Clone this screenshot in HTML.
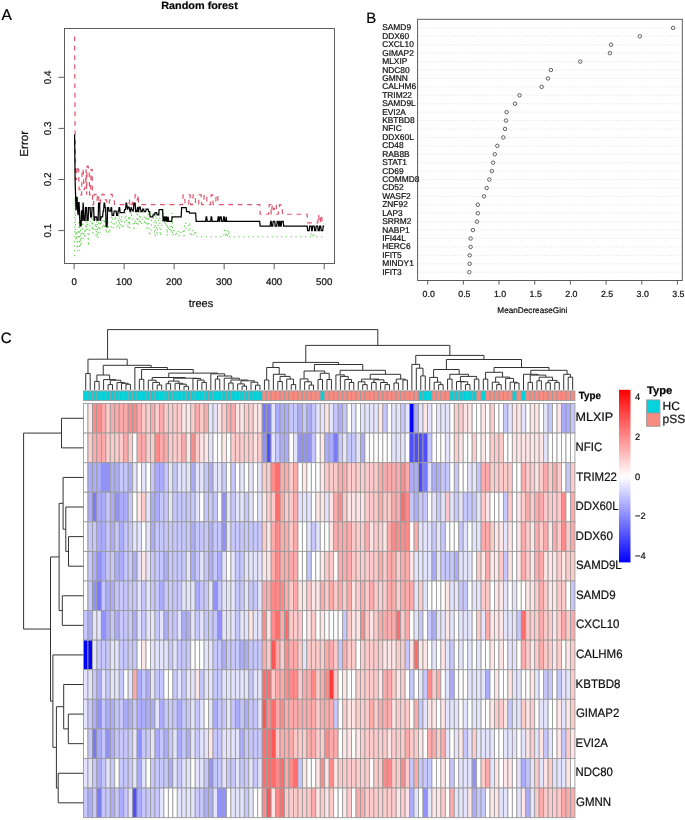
<!DOCTYPE html>
<html><head><meta charset="utf-8"><title>Figure</title>
<style>html,body{margin:0;padding:0;background:#fff;}text{stroke:#111;stroke-width:0.22px;}body{width:685px;height:820px;overflow:hidden;font-family:"Liberation Sans", sans-serif;}svg{display:block;}</style>
</head><body>
<svg width="685" height="820" viewBox="0 0 685 820" font-family='"Liberation Sans", sans-serif' text-rendering="geometricPrecision" style="will-change:transform"><text x="1.5" y="20.3" font-size="15.5" fill="#000">A</text>
<text x="199.5" y="8.9" font-size="10.5" font-weight="bold" text-anchor="middle" textLength="76.5" lengthAdjust="spacingAndGlyphs" fill="#000">Random forest</text>
<polyline points="74.60,256.15 75.10,197.38 75.60,235.71 76.10,240.82 76.60,230.60 77.10,251.04 77.60,251.04 78.10,230.60 78.60,230.60 79.10,220.38 79.60,251.04 80.10,212.20 80.60,245.93 81.10,245.93 81.60,230.60 82.10,230.60 82.60,221.91 83.10,238.26 83.60,238.26 84.10,230.60 84.60,230.60 85.10,238.26 85.60,221.91 86.10,221.91 86.60,230.60 87.11,215.27 87.61,215.27 88.11,238.26 88.61,245.93 89.11,230.60 89.61,230.60 90.11,221.91 90.61,221.91 91.11,215.27 91.61,215.27 92.11,230.60 92.61,218.85 93.11,233.16 93.61,233.16 94.11,228.05 94.61,228.05 95.11,228.05 95.61,222.94 96.11,237.75 96.61,218.85 97.11,218.85 97.61,237.75 98.11,237.75 98.61,218.85 99.11,218.85 99.61,218.85 100.11,233.16 100.61,218.85 101.11,222.94 101.61,222.94 102.11,222.94 102.61,228.05 103.11,228.05 103.61,228.05 104.11,218.85 104.61,228.05 105.11,228.05 105.61,228.05 106.11,233.16 106.61,233.16 107.11,222.94 107.61,222.94 108.11,222.94 108.61,233.16 109.11,233.16 109.61,233.16 110.11,228.05 110.61,228.05 111.11,228.05 111.61,216.29 112.12,216.29 112.62,216.29 113.12,228.05 113.62,224.47 114.12,224.47 114.62,224.47 115.12,216.29 115.62,216.29 116.12,220.38 116.62,224.47 117.12,228.05 117.62,228.05 118.12,228.05 118.62,220.38 119.12,212.20 119.62,228.05 120.12,228.05 120.62,228.05 121.12,216.29 121.62,216.29 122.12,228.05 122.62,228.05 123.12,228.05 123.62,224.47 124.12,224.47 124.62,224.47 125.12,216.29 125.62,212.20 126.12,220.38 126.62,220.38 127.12,228.05 127.62,228.05 128.12,228.05 128.62,216.29 129.12,216.29 129.62,228.05 130.12,216.29 130.62,216.29 131.12,212.20 131.62,216.29 132.12,216.29 132.62,216.29 133.12,224.47 133.62,228.05 134.12,228.05 134.62,220.38 135.12,220.38 135.62,224.47 136.12,224.47 136.62,224.47 137.13,212.20 137.63,212.20 138.13,224.47 138.63,224.47 139.13,224.47 139.63,212.20 140.13,212.20 140.63,224.47 141.13,224.47 141.63,224.47 142.13,220.38 142.63,220.38 143.13,216.29 143.63,216.29 144.13,216.29 144.63,224.47 145.13,224.47 145.63,216.29 146.13,216.29 146.63,216.29 147.13,228.05 147.63,228.05 148.13,212.20 148.63,212.20 149.13,228.05 149.63,235.71 150.13,230.60 150.63,230.60 151.13,230.60 151.63,220.38 152.13,220.38 152.63,220.38 153.13,212.72 153.63,220.38 154.13,220.38 154.63,235.71 155.13,235.71 155.63,212.72 156.13,212.72 156.63,230.60 157.13,235.71 157.63,225.49 158.13,225.49 158.63,220.38 159.13,212.72 159.63,212.72 160.13,235.71 160.63,235.71 161.13,225.49 161.63,225.49 162.14,220.38 162.64,212.72 163.14,212.72 163.64,220.38 164.14,220.38 164.64,220.38 165.14,225.49 165.64,220.38 166.14,220.38 166.64,220.38 167.14,235.71 167.64,225.49 168.14,225.49 168.64,230.60 169.14,230.60 169.64,230.60 170.14,225.49 170.64,230.60 171.14,230.60 171.64,230.60 172.14,212.72 172.64,235.71 173.14,235.71 173.64,230.60 174.14,230.60 174.64,230.60 175.14,230.60 175.64,235.71 176.14,235.71 176.64,235.71 177.14,230.60 177.64,230.60 178.14,230.60 178.64,235.71 179.14,235.71 179.64,235.71 180.14,235.71 180.64,235.71 181.14,230.60 181.64,230.60 182.14,230.60 182.64,230.60 183.14,230.60 183.64,235.71 184.14,235.71 184.64,222.94 185.14,222.94 185.64,222.94 186.14,230.60 186.64,230.60 187.15,230.60 187.65,230.60 188.15,230.60 188.65,222.94 189.15,222.94 189.65,222.94 190.15,235.71 190.65,235.71 191.15,235.71 191.65,235.71 192.15,230.60 192.65,230.60 193.15,230.60 193.65,230.60 194.15,235.71 194.65,235.71 195.15,230.60 195.65,230.60 196.15,236.73 196.65,236.73 197.15,236.73 197.65,236.73 198.15,236.73 198.65,236.73 199.15,236.73 199.65,236.73 200.15,236.73 200.65,236.73 201.15,236.73 201.65,236.73 202.15,236.73 202.65,236.73 203.15,236.73 203.65,236.73 204.15,236.73 204.65,236.73 205.15,236.73 205.65,236.73 206.15,236.73 206.65,236.73 207.15,236.73 207.65,236.73 208.15,236.73 208.65,236.73 209.15,236.73 209.65,236.73 210.15,236.73 210.65,236.73 211.15,236.73 211.66,236.73 212.16,236.73 212.66,236.73 213.16,236.73 213.66,236.73 214.16,236.73 214.66,236.73 215.16,236.73 215.66,236.73 216.16,236.73 216.66,236.73 217.16,236.73 217.66,236.73 218.16,236.73 218.66,236.73 219.16,236.73 219.66,236.73 220.16,236.73 220.66,236.73 221.16,236.73 221.66,236.73 222.16,236.73 222.66,236.73 223.16,236.73 223.66,236.73 224.16,230.60 224.66,230.60 225.16,230.60 225.66,236.73 226.16,236.73 226.66,230.60 227.16,230.60 227.66,236.73 228.16,236.73 228.66,230.60 229.16,230.60 229.66,236.73 230.16,236.73 230.66,236.73 231.16,236.73 231.66,236.73 232.16,236.73 232.66,236.73 233.16,236.73 233.66,236.73 234.16,236.73 234.66,236.73 235.16,236.73 235.66,236.73 236.16,236.73 236.66,236.73 237.17,236.73 237.67,236.73 238.17,236.73 238.67,236.73 239.17,236.73 239.67,236.73 240.17,236.73 240.67,236.73 241.17,236.73 241.67,236.73 242.17,236.73 242.67,236.73 243.17,236.73 243.67,236.73 244.17,236.73 244.67,236.73 245.17,236.73 245.67,236.73 246.17,236.73 246.67,236.73 247.17,236.73 247.67,236.73 248.17,236.73 248.67,236.73 249.17,236.73 249.67,236.73 250.17,236.73 250.67,236.73 251.17,236.73 251.67,236.73 252.17,236.73 252.67,236.73 253.17,236.73 253.67,236.73 254.17,236.73 254.67,236.73 255.17,236.73 255.67,236.73 256.17,236.73 256.67,236.73 257.17,236.73 257.67,236.73 258.17,236.73 258.67,236.73 259.17,236.73 259.67,236.73 260.17,236.73 260.67,236.73 261.17,236.73 261.67,236.73 262.18,236.73 262.68,236.73 263.18,236.73 263.68,236.73 264.18,236.73 264.68,236.73 265.18,236.73 265.68,236.73 266.18,236.73 266.68,236.73 267.18,236.73 267.68,236.73 268.18,236.73 268.68,236.73 269.18,236.73 269.68,236.73 270.18,236.73 270.68,236.73 271.18,236.73 271.68,236.73 272.18,236.73 272.68,236.73 273.18,236.73 273.68,236.73 274.18,236.73 274.68,236.73 275.18,236.73 275.68,236.73 276.18,236.73 276.68,236.73 277.18,236.73 277.68,236.73 278.18,236.73 278.68,236.73 279.18,236.73 279.68,236.73 280.18,236.73 280.68,236.73 281.18,236.73 281.68,236.73 282.18,236.73 282.68,236.73 283.18,236.73 283.68,236.73 284.18,236.73 284.68,236.73 285.18,236.73 285.68,236.73 286.18,236.73 286.68,236.73 287.19,236.73 287.69,236.73 288.19,236.73 288.69,236.73 289.19,236.73 289.69,236.73 290.19,236.73 290.69,236.73 291.19,236.73 291.69,236.73 292.19,236.73 292.69,236.73 293.19,236.73 293.69,236.73 294.19,236.73 294.69,236.73 295.19,236.73 295.69,236.73 296.19,236.73 296.69,236.73 297.19,236.73 297.69,236.73 298.19,236.73 298.69,236.73 299.19,236.73 299.69,236.73 300.19,236.73 300.69,236.73 301.19,236.73 301.69,236.73 302.19,236.73 302.69,236.73 303.19,236.73 303.69,236.73 304.19,236.73 304.69,236.73 305.19,236.73 305.69,236.73 306.19,236.73 306.69,236.73 307.19,236.73 307.69,236.73 308.19,236.73 308.69,236.73 309.19,236.73 309.69,236.73 310.19,236.73 310.69,233.16 311.19,233.16 311.69,236.73 312.20,236.73 312.70,236.73 313.20,233.16 313.70,233.16 314.20,236.73 314.70,236.73 315.20,236.73 315.70,236.73 316.20,236.73 316.70,236.73 317.20,236.73 317.70,236.73 318.20,236.73 318.70,236.73 319.20,236.73 319.70,236.73 320.20,236.73 320.70,236.73 321.20,236.73 321.70,236.73 322.20,236.73 322.70,236.73 323.20,236.73 323.70,236.73 324.20,236.73" fill="none" stroke="#61D04F" stroke-width="1.15" stroke-dasharray="1.2 3.55"/>
<polyline points="74.60,36.42 75.10,128.40 75.60,179.50 76.10,179.50 76.60,179.50 77.10,166.21 77.60,166.21 78.10,169.28 78.60,169.28 79.10,189.72 79.60,189.72 80.10,189.72 80.60,194.83 81.10,194.83 81.60,194.83 82.10,169.28 82.60,169.28 83.10,169.28 83.60,179.50 84.10,189.72 84.60,189.72 85.10,184.61 85.60,184.61 86.10,169.28 86.60,194.83 87.11,166.21 87.61,166.21 88.11,166.21 88.61,169.28 89.11,169.28 89.61,194.83 90.11,194.83 90.61,189.72 91.11,169.28 91.61,169.28 92.11,169.28 92.61,204.54 93.11,204.54 93.61,204.54 94.11,194.32 94.61,194.32 95.11,194.32 95.61,194.32 96.11,194.32 96.61,199.94 97.11,199.94 97.61,194.32 98.11,194.32 98.61,194.32 99.11,204.54 99.61,204.54 100.11,204.54 100.61,199.94 101.11,199.94 101.61,199.94 102.11,194.32 102.61,194.32 103.11,194.32 103.61,194.32 104.11,194.32 104.61,199.94 105.11,199.94 105.61,199.94 106.11,199.94 106.61,199.94 107.11,204.54 107.61,204.54 108.11,204.54 108.61,204.54 109.11,204.54 109.61,199.94 110.11,199.94 110.61,194.32 111.11,194.32 111.61,194.32 112.12,194.32 112.62,199.94 113.12,199.94 113.62,199.94 114.12,199.94 114.62,204.54 115.12,204.54 115.62,204.54 116.12,204.54 116.62,204.54 117.12,204.54 117.62,204.54 118.12,204.54 118.62,204.54 119.12,204.54 119.62,204.54 120.12,204.54 120.62,204.54 121.12,204.54 121.62,204.54 122.12,204.54 122.62,204.54 123.12,204.54 123.62,204.54 124.12,204.54 124.62,204.54 125.12,204.54 125.62,204.54 126.12,204.54 126.62,204.54 127.12,204.54 127.62,204.54 128.12,204.54 128.62,204.54 129.12,204.54 129.62,199.94 130.12,199.94 130.62,199.94 131.12,204.54 131.62,204.54 132.12,204.54 132.62,199.94 133.12,199.94 133.62,204.54 134.12,204.54 134.62,204.54 135.12,194.83 135.62,194.83 136.12,194.83 136.62,194.83 137.13,199.94 137.63,199.94 138.13,194.83 138.63,204.54 139.13,204.54 139.63,204.54 140.13,204.54 140.63,204.54 141.13,204.54 141.63,204.54 142.13,204.54 142.63,204.54 143.13,204.54 143.63,204.54 144.13,204.54 144.63,204.54 145.13,204.54 145.63,204.54 146.13,204.54 146.63,204.54 147.13,204.54 147.63,204.54 148.13,204.54 148.63,204.54 149.13,204.54 149.63,204.54 150.13,204.54 150.63,204.54 151.13,204.54 151.63,204.54 152.13,204.54 152.63,204.54 153.13,204.54 153.63,204.54 154.13,204.54 154.63,204.54 155.13,204.54 155.63,204.54 156.13,204.54 156.63,204.54 157.13,204.54 157.63,204.54 158.13,204.54 158.63,204.54 159.13,204.54 159.63,204.54 160.13,204.54 160.63,204.54 161.13,204.54 161.63,204.54 162.14,204.54 162.64,204.54 163.14,204.54 163.64,204.54 164.14,204.54 164.64,204.54 165.14,204.54 165.64,204.54 166.14,204.54 166.64,204.54 167.14,204.54 167.64,204.54 168.14,204.54 168.64,204.54 169.14,204.54 169.64,204.54 170.14,204.54 170.64,204.54 171.14,204.54 171.64,204.54 172.14,204.54 172.64,204.54 173.14,204.54 173.64,204.54 174.14,204.54 174.64,204.54 175.14,204.54 175.64,204.54 176.14,204.54 176.64,204.54 177.14,204.54 177.64,204.54 178.14,204.54 178.64,204.54 179.14,204.54 179.64,204.54 180.14,204.54 180.64,204.54 181.14,204.54 181.64,204.54 182.14,204.54 182.64,204.54 183.14,194.83 183.64,194.83 184.14,194.83 184.64,194.83 185.14,204.54 185.64,204.54 186.14,204.54 186.64,204.54 187.15,204.54 187.65,204.54 188.15,204.54 188.65,204.54 189.15,194.83 189.65,194.83 190.15,194.83 190.65,204.54 191.15,204.54 191.65,204.54 192.15,204.54 192.65,204.54 193.15,194.83 193.65,194.83 194.15,194.83 194.65,194.83 195.15,194.83 195.65,204.54 196.15,204.54 196.65,204.54 197.15,204.54 197.65,204.54 198.15,204.54 198.65,204.54 199.15,194.83 199.65,194.83 200.15,194.83 200.65,194.83 201.15,194.83 201.65,204.54 202.15,204.54 202.65,204.54 203.15,204.54 203.65,204.54 204.15,194.83 204.65,194.83 205.15,194.83 205.65,194.83 206.15,194.83 206.65,194.83 207.15,204.54 207.65,204.54 208.15,204.54 208.65,204.54 209.15,204.54 209.65,204.54 210.15,204.54 210.65,204.54 211.15,194.83 211.66,194.83 212.16,194.83 212.66,194.83 213.16,204.54 213.66,204.54 214.16,204.54 214.66,204.54 215.16,204.54 215.66,204.54 216.16,194.83 216.66,194.83 217.16,194.83 217.66,194.83 218.16,204.54 218.66,204.54 219.16,204.54 219.66,204.54 220.16,204.54 220.66,204.54 221.16,204.54 221.66,204.54 222.16,204.54 222.66,204.54 223.16,204.54 223.66,204.54 224.16,204.54 224.66,204.54 225.16,204.54 225.66,204.54 226.16,204.54 226.66,204.54 227.16,204.54 227.66,204.54 228.16,204.54 228.66,204.54 229.16,204.54 229.66,204.54 230.16,204.54 230.66,204.54 231.16,204.54 231.66,204.54 232.16,204.54 232.66,204.54 233.16,204.54 233.66,204.54 234.16,204.54 234.66,204.54 235.16,204.54 235.66,204.54 236.16,204.54 236.66,204.54 237.17,204.54 237.67,204.54 238.17,204.54 238.67,204.54 239.17,204.54 239.67,204.54 240.17,204.54 240.67,204.54 241.17,204.54 241.67,204.54 242.17,204.54 242.67,204.54 243.17,204.54 243.67,204.54 244.17,204.54 244.67,204.54 245.17,204.54 245.67,204.54 246.17,204.54 246.67,204.54 247.17,204.54 247.67,204.54 248.17,204.54 248.67,204.54 249.17,204.54 249.67,204.54 250.17,204.54 250.67,204.54 251.17,204.54 251.67,204.54 252.17,204.54 252.67,204.54 253.17,204.54 253.67,204.54 254.17,204.54 254.67,204.54 255.17,204.54 255.67,204.54 256.17,204.54 256.67,204.54 257.17,204.54 257.67,204.54 258.17,204.54 258.67,204.54 259.17,204.54 259.67,204.54 260.17,214.25 260.67,214.25 261.17,214.25 261.67,214.25 262.18,214.25 262.68,214.25 263.18,214.25 263.68,214.25 264.18,214.25 264.68,214.25 265.18,214.25 265.68,214.25 266.18,214.25 266.68,214.25 267.18,214.25 267.68,214.25 268.18,214.25 268.68,214.25 269.18,204.54 269.68,204.54 270.18,204.54 270.68,204.54 271.18,214.25 271.68,214.25 272.18,204.54 272.68,204.54 273.18,204.54 273.68,209.65 274.18,209.65 274.68,204.54 275.18,204.54 275.68,204.54 276.18,204.54 276.68,214.25 277.18,214.25 277.68,214.25 278.18,214.25 278.68,209.65 279.18,209.65 279.68,204.54 280.18,204.54 280.68,204.54 281.18,209.65 281.68,209.65 282.18,209.65 282.68,214.25 283.18,214.25 283.68,214.25 284.18,214.25 284.68,214.25 285.18,214.25 285.68,214.25 286.18,214.25 286.68,214.25 287.19,214.25 287.69,214.25 288.19,214.25 288.69,214.25 289.19,214.25 289.69,214.25 290.19,214.25 290.69,214.25 291.19,214.25 291.69,214.25 292.19,214.25 292.69,214.25 293.19,214.25 293.69,214.25 294.19,214.25 294.69,214.25 295.19,214.25 295.69,214.25 296.19,214.25 296.69,214.25 297.19,214.25 297.69,214.25 298.19,214.25 298.69,214.25 299.19,214.25 299.69,214.25 300.19,214.25 300.69,214.25 301.19,214.25 301.69,214.25 302.19,214.25 302.69,214.25 303.19,214.25 303.69,214.25 304.19,214.25 304.69,214.25 305.19,214.25 305.69,214.25 306.19,214.25 306.69,214.25 307.19,214.25 307.69,222.94 308.19,222.94 308.69,222.94 309.19,222.94 309.69,222.94 310.19,222.94 310.69,222.94 311.19,222.94 311.69,222.94 312.20,222.94 312.70,222.94 313.20,222.94 313.70,222.94 314.20,222.94 314.70,222.94 315.20,222.94 315.70,222.94 316.20,222.94 316.70,222.94 317.20,222.94 317.70,222.94 318.20,215.27 318.70,215.27 319.20,222.94 319.70,222.94 320.20,222.94 320.70,215.27 321.20,215.27 321.70,215.27 322.20,222.94 322.70,222.94 323.20,222.94 323.70,222.94 324.20,222.94" fill="none" stroke="#DF536B" stroke-width="1.2" stroke-dasharray="4.7 4.7"/>
<polyline points="74.60,134.53 75.10,179.50 75.60,196.36 76.10,210.16 76.60,197.38 77.10,197.38 77.60,210.16 78.10,215.27 78.60,202.50 79.10,202.50 79.60,215.27 80.10,226.51 80.60,220.38 81.10,226.51 81.60,210.16 82.10,220.38 82.60,220.38 83.10,202.50 83.60,210.16 84.10,220.38 84.60,220.38 85.10,220.38 85.60,207.61 86.10,207.61 86.60,207.61 87.11,220.38 87.61,220.38 88.11,220.38 88.61,207.61 89.11,207.61 89.61,207.61 90.11,207.61 90.61,216.80 91.11,216.80 91.61,216.80 92.11,207.61 92.61,207.61 93.11,207.61 93.61,207.61 94.11,220.38 94.61,220.38 95.11,216.80 95.61,216.80 96.11,216.80 96.61,216.80 97.11,220.38 97.61,220.38 98.11,220.38 98.61,203.01 99.11,203.01 99.61,203.01 100.11,220.38 100.61,220.38 101.11,216.80 101.61,216.80 102.11,216.80 102.61,216.80 103.11,211.18 103.61,211.18 104.11,203.01 104.61,203.01 105.11,207.61 105.61,207.61 106.11,226.51 106.61,226.51 107.11,226.51 107.61,207.61 108.11,207.61 108.61,207.61 109.11,211.18 109.61,211.18 110.11,211.18 110.61,211.18 111.11,207.61 111.61,207.61 112.12,215.27 112.62,215.27 113.12,215.27 113.62,215.27 114.12,211.18 114.62,211.18 115.12,211.18 115.62,211.18 116.12,211.18 116.62,215.27 117.12,215.27 117.62,215.27 118.12,211.18 118.62,211.18 119.12,207.61 119.62,207.61 120.12,212.72 120.62,212.72 121.12,212.72 121.62,212.72 122.12,212.72 122.62,212.72 123.12,212.72 123.62,212.72 124.12,212.72 124.62,209.65 125.12,209.65 125.62,209.65 126.12,203.01 126.62,203.01 127.12,207.09 127.62,209.65 128.12,207.09 128.62,207.09 129.12,207.09 129.62,209.65 130.12,211.69 130.62,211.69 131.12,207.09 131.62,209.65 132.12,209.65 132.62,209.65 133.12,211.69 133.62,207.09 134.12,203.01 134.62,203.01 135.12,203.01 135.62,211.69 136.12,211.69 136.62,211.69 137.13,209.65 137.63,207.09 138.13,211.69 138.63,211.69 139.13,207.09 139.63,207.09 140.13,207.09 140.63,209.65 141.13,211.69 141.63,211.69 142.13,211.69 142.63,209.14 143.13,209.14 143.63,209.14 144.13,211.69 144.63,211.69 145.13,211.69 145.63,211.69 146.13,209.14 146.63,209.14 147.13,209.14 147.63,209.14 148.13,209.14 148.63,211.69 149.13,211.69 149.63,211.69 150.13,216.80 150.63,216.80 151.13,216.80 151.63,216.80 152.13,216.80 152.63,216.80 153.13,214.76 153.63,214.76 154.13,214.76 154.63,214.76 155.13,212.72 155.63,212.72 156.13,212.72 156.63,212.72 157.13,214.76 157.63,214.76 158.13,214.76 158.63,214.76 159.13,209.65 159.63,209.65 160.13,209.65 160.63,209.65 161.13,209.65 161.63,209.65 162.14,209.65 162.64,209.65 163.14,221.40 163.64,216.80 164.14,216.80 164.64,221.40 165.14,216.80 165.64,221.40 166.14,216.80 166.64,216.80 167.14,221.40 167.64,221.40 168.14,216.80 168.64,221.40 169.14,221.40 169.64,221.40 170.14,221.40 170.64,221.40 171.14,221.40 171.64,221.40 172.14,216.80 172.64,216.80 173.14,216.80 173.64,216.80 174.14,216.80 174.64,216.80 175.14,216.80 175.64,216.80 176.14,216.80 176.64,216.80 177.14,216.80 177.64,216.80 178.14,216.80 178.64,216.80 179.14,216.80 179.64,216.80 180.14,216.80 180.64,216.80 181.14,216.80 181.64,207.61 182.14,207.61 182.64,207.61 183.14,207.61 183.64,207.61 184.14,207.61 184.64,207.61 185.14,207.61 185.64,207.61 186.14,207.61 186.64,211.69 187.15,211.69 187.65,211.69 188.15,211.69 188.65,211.69 189.15,211.69 189.65,213.23 190.15,213.23 190.65,213.23 191.15,213.23 191.65,213.23 192.15,213.23 192.65,213.23 193.15,213.23 193.65,213.23 194.15,213.23 194.65,213.23 195.15,213.23 195.65,213.23 196.15,221.40 196.65,221.40 197.15,221.40 197.65,221.40 198.15,221.40 198.65,221.40 199.15,221.40 199.65,221.40 200.15,221.40 200.65,221.40 201.15,221.40 201.65,221.40 202.15,221.40 202.65,221.40 203.15,221.40 203.65,221.40 204.15,221.40 204.65,221.40 205.15,221.40 205.65,221.40 206.15,216.80 206.65,216.80 207.15,221.40 207.65,221.40 208.15,221.40 208.65,221.40 209.15,221.40 209.65,221.40 210.15,221.40 210.65,221.40 211.15,216.80 211.66,216.80 212.16,221.40 212.66,221.40 213.16,221.40 213.66,221.40 214.16,221.40 214.66,221.40 215.16,221.40 215.66,221.40 216.16,221.40 216.66,221.40 217.16,221.40 217.66,221.40 218.16,216.80 218.66,216.80 219.16,221.40 219.66,221.40 220.16,216.80 220.66,216.80 221.16,216.80 221.66,221.40 222.16,221.40 222.66,221.40 223.16,221.40 223.66,216.80 224.16,216.80 224.66,221.40 225.16,221.40 225.66,221.40 226.16,216.80 226.66,221.40 227.16,221.40 227.66,221.40 228.16,221.40 228.66,221.40 229.16,221.40 229.66,221.40 230.16,221.40 230.66,221.40 231.16,221.40 231.66,221.40 232.16,221.40 232.66,221.40 233.16,221.40 233.66,221.40 234.16,221.40 234.66,221.40 235.16,221.40 235.66,221.40 236.16,221.40 236.66,221.40 237.17,221.40 237.67,221.40 238.17,221.40 238.67,221.40 239.17,221.40 239.67,221.40 240.17,221.40 240.67,221.40 241.17,221.40 241.67,221.40 242.17,221.40 242.67,221.40 243.17,221.40 243.67,221.40 244.17,221.40 244.67,221.40 245.17,221.40 245.67,221.40 246.17,221.40 246.67,221.40 247.17,221.40 247.67,221.40 248.17,221.40 248.67,221.40 249.17,221.40 249.67,221.40 250.17,221.40 250.67,221.40 251.17,221.40 251.67,221.40 252.17,221.40 252.67,221.40 253.17,221.40 253.67,221.40 254.17,221.40 254.67,221.40 255.17,221.40 255.67,221.40 256.17,221.40 256.67,221.40 257.17,221.40 257.67,221.40 258.17,221.40 258.67,221.40 259.17,221.40 259.67,221.40 260.17,226.00 260.67,226.00 261.17,226.00 261.67,226.00 262.18,226.00 262.68,226.00 263.18,226.00 263.68,226.00 264.18,226.00 264.68,226.00 265.18,226.00 265.68,226.00 266.18,226.00 266.68,226.00 267.18,226.00 267.68,226.00 268.18,226.00 268.68,226.00 269.18,226.00 269.68,226.00 270.18,226.00 270.68,221.40 271.18,221.40 271.68,226.00 272.18,226.00 272.68,226.00 273.18,221.40 273.68,221.40 274.18,221.40 274.68,221.40 275.18,226.00 275.68,226.00 276.18,226.00 276.68,226.00 277.18,221.40 277.68,221.40 278.18,221.40 278.68,226.00 279.18,226.00 279.68,221.40 280.18,221.40 280.68,226.00 281.18,226.00 281.68,221.40 282.18,221.40 282.68,221.40 283.18,221.40 283.68,226.00 284.18,226.00 284.68,226.00 285.18,226.00 285.68,226.00 286.18,226.00 286.68,226.00 287.19,226.00 287.69,226.00 288.19,226.00 288.69,226.00 289.19,226.00 289.69,226.00 290.19,226.00 290.69,226.00 291.19,226.00 291.69,226.00 292.19,226.00 292.69,226.00 293.19,226.00 293.69,226.00 294.19,226.00 294.69,226.00 295.19,226.00 295.69,226.00 296.19,226.00 296.69,226.00 297.19,226.00 297.69,226.00 298.19,226.00 298.69,226.00 299.19,226.00 299.69,226.00 300.19,226.00 300.69,226.00 301.19,226.00 301.69,226.00 302.19,226.00 302.69,226.00 303.19,226.00 303.69,226.00 304.19,226.00 304.69,226.00 305.19,226.00 305.69,226.00 306.19,226.00 306.69,226.00 307.19,226.00 307.69,230.60 308.19,230.60 308.69,230.60 309.19,230.60 309.69,226.00 310.19,226.00 310.69,226.00 311.19,226.00 311.69,230.60 312.20,230.60 312.70,226.00 313.20,226.00 313.70,226.00 314.20,226.00 314.70,230.60 315.20,230.60 315.70,230.60 316.20,226.00 316.70,226.00 317.20,226.00 317.70,226.00 318.20,230.60 318.70,230.60 319.20,230.60 319.70,226.00 320.20,226.00 320.70,226.00 321.20,230.60 321.70,230.60 322.20,230.60 322.70,230.60 323.20,226.00 323.70,226.00 324.20,226.00" fill="none" stroke="#000" stroke-width="1.25"/>
<rect x="64.5" y="28.5" width="270" height="235" fill="none" stroke="#555" stroke-width="0.95"/>
<line x1="58.4" y1="230.60" x2="64.5" y2="230.60" stroke="#555" stroke-width="0.95"/>
<text transform="translate(50.7,230.60) rotate(-90)" font-size="9.9" text-anchor="middle" fill="#111">0.1</text>
<line x1="58.4" y1="179.50" x2="64.5" y2="179.50" stroke="#555" stroke-width="0.95"/>
<text transform="translate(50.7,179.50) rotate(-90)" font-size="9.9" text-anchor="middle" fill="#111">0.2</text>
<line x1="58.4" y1="128.40" x2="64.5" y2="128.40" stroke="#555" stroke-width="0.95"/>
<text transform="translate(50.7,128.40) rotate(-90)" font-size="9.9" text-anchor="middle" fill="#111">0.3</text>
<line x1="58.4" y1="77.30" x2="64.5" y2="77.30" stroke="#555" stroke-width="0.95"/>
<text transform="translate(50.7,77.30) rotate(-90)" font-size="9.9" text-anchor="middle" fill="#111">0.4</text>
<line x1="74.10" y1="263.5" x2="74.10" y2="269.3" stroke="#555" stroke-width="0.95"/>
<text x="74.10" y="284.6" font-size="9.7" text-anchor="middle" fill="#111">0</text>
<line x1="124.12" y1="263.5" x2="124.12" y2="269.3" stroke="#555" stroke-width="0.95"/>
<text x="124.12" y="284.6" font-size="9.7" text-anchor="middle" fill="#111">100</text>
<line x1="174.14" y1="263.5" x2="174.14" y2="269.3" stroke="#555" stroke-width="0.95"/>
<text x="174.14" y="284.6" font-size="9.7" text-anchor="middle" fill="#111">200</text>
<line x1="224.16" y1="263.5" x2="224.16" y2="269.3" stroke="#555" stroke-width="0.95"/>
<text x="224.16" y="284.6" font-size="9.7" text-anchor="middle" fill="#111">300</text>
<line x1="274.18" y1="263.5" x2="274.18" y2="269.3" stroke="#555" stroke-width="0.95"/>
<text x="274.18" y="284.6" font-size="9.7" text-anchor="middle" fill="#111">400</text>
<line x1="324.20" y1="263.5" x2="324.20" y2="269.3" stroke="#555" stroke-width="0.95"/>
<text x="324.20" y="284.6" font-size="9.7" text-anchor="middle" fill="#111">500</text>
<text x="201" y="306.6" font-size="11" text-anchor="middle" fill="#111">trees</text>
<text transform="translate(28.4,143.8) rotate(-90)" font-size="11.6" text-anchor="middle" fill="#111">Error</text>
<text x="366.2" y="22.8" font-size="15" fill="#000">B</text>
<line x1="418" y1="27.90" x2="682" y2="27.90" stroke="#e9e9e9" stroke-width="0.8" stroke-dasharray="2 1.6"/>
<text x="382.2" y="30.40" font-size="8.4" fill="#111">SAMD9</text>
<circle cx="673.1" cy="27.90" r="1.75" fill="none" stroke="#333" stroke-width="0.75"/>
<line x1="418" y1="36.32" x2="682" y2="36.32" stroke="#e9e9e9" stroke-width="0.8" stroke-dasharray="2 1.6"/>
<text x="382.2" y="38.82" font-size="8.4" fill="#111">DDX60</text>
<circle cx="639.8" cy="36.32" r="1.75" fill="none" stroke="#333" stroke-width="0.75"/>
<line x1="418" y1="44.75" x2="682" y2="44.75" stroke="#e9e9e9" stroke-width="0.8" stroke-dasharray="2 1.6"/>
<text x="382.2" y="47.25" font-size="8.4" fill="#111">CXCL10</text>
<circle cx="611.1" cy="44.75" r="1.75" fill="none" stroke="#333" stroke-width="0.75"/>
<line x1="418" y1="53.17" x2="682" y2="53.17" stroke="#e9e9e9" stroke-width="0.8" stroke-dasharray="2 1.6"/>
<text x="382.2" y="55.67" font-size="8.4" fill="#111">GIMAP2</text>
<circle cx="609.9" cy="53.17" r="1.75" fill="none" stroke="#333" stroke-width="0.75"/>
<line x1="418" y1="61.60" x2="682" y2="61.60" stroke="#e9e9e9" stroke-width="0.8" stroke-dasharray="2 1.6"/>
<text x="382.2" y="64.10" font-size="8.4" fill="#111">MLXIP</text>
<circle cx="580.3" cy="61.60" r="1.75" fill="none" stroke="#333" stroke-width="0.75"/>
<line x1="418" y1="70.02" x2="682" y2="70.02" stroke="#e9e9e9" stroke-width="0.8" stroke-dasharray="2 1.6"/>
<text x="382.2" y="72.52" font-size="8.4" fill="#111">NDC80</text>
<circle cx="550.9" cy="70.02" r="1.75" fill="none" stroke="#333" stroke-width="0.75"/>
<line x1="418" y1="78.44" x2="682" y2="78.44" stroke="#e9e9e9" stroke-width="0.8" stroke-dasharray="2 1.6"/>
<text x="382.2" y="80.94" font-size="8.4" fill="#111">GMNN</text>
<circle cx="547.9" cy="78.44" r="1.75" fill="none" stroke="#333" stroke-width="0.75"/>
<line x1="418" y1="86.87" x2="682" y2="86.87" stroke="#e9e9e9" stroke-width="0.8" stroke-dasharray="2 1.6"/>
<text x="382.2" y="89.37" font-size="8.4" fill="#111">CALHM6</text>
<circle cx="541.7" cy="86.87" r="1.75" fill="none" stroke="#333" stroke-width="0.75"/>
<line x1="418" y1="95.29" x2="682" y2="95.29" stroke="#e9e9e9" stroke-width="0.8" stroke-dasharray="2 1.6"/>
<text x="382.2" y="97.79" font-size="8.4" fill="#111">TRIM22</text>
<circle cx="519.5" cy="95.29" r="1.75" fill="none" stroke="#333" stroke-width="0.75"/>
<line x1="418" y1="103.72" x2="682" y2="103.72" stroke="#e9e9e9" stroke-width="0.8" stroke-dasharray="2 1.6"/>
<text x="382.2" y="106.22" font-size="8.4" fill="#111">SAMD9L</text>
<circle cx="515.0" cy="103.72" r="1.75" fill="none" stroke="#333" stroke-width="0.75"/>
<line x1="418" y1="112.14" x2="682" y2="112.14" stroke="#e9e9e9" stroke-width="0.8" stroke-dasharray="2 1.6"/>
<text x="382.2" y="114.64" font-size="8.4" fill="#111">EVI2A</text>
<circle cx="506.6" cy="112.14" r="1.75" fill="none" stroke="#333" stroke-width="0.75"/>
<line x1="418" y1="120.56" x2="682" y2="120.56" stroke="#e9e9e9" stroke-width="0.8" stroke-dasharray="2 1.6"/>
<text x="382.2" y="123.06" font-size="8.4" fill="#111">KBTBD8</text>
<circle cx="506.0" cy="120.56" r="1.75" fill="none" stroke="#333" stroke-width="0.75"/>
<line x1="418" y1="128.99" x2="682" y2="128.99" stroke="#e9e9e9" stroke-width="0.8" stroke-dasharray="2 1.6"/>
<text x="382.2" y="131.49" font-size="8.4" fill="#111">NFIC</text>
<circle cx="505.0" cy="128.99" r="1.75" fill="none" stroke="#333" stroke-width="0.75"/>
<line x1="418" y1="137.41" x2="682" y2="137.41" stroke="#e9e9e9" stroke-width="0.8" stroke-dasharray="2 1.6"/>
<text x="382.2" y="139.91" font-size="8.4" fill="#111">DDX60L</text>
<circle cx="503.3" cy="137.41" r="1.75" fill="none" stroke="#333" stroke-width="0.75"/>
<line x1="418" y1="145.84" x2="682" y2="145.84" stroke="#e9e9e9" stroke-width="0.8" stroke-dasharray="2 1.6"/>
<text x="382.2" y="148.34" font-size="8.4" fill="#111">CD48</text>
<circle cx="497.3" cy="145.84" r="1.75" fill="none" stroke="#333" stroke-width="0.75"/>
<line x1="418" y1="154.26" x2="682" y2="154.26" stroke="#e9e9e9" stroke-width="0.8" stroke-dasharray="2 1.6"/>
<text x="382.2" y="156.76" font-size="8.4" fill="#111">RAB8B</text>
<circle cx="494.8" cy="154.26" r="1.75" fill="none" stroke="#333" stroke-width="0.75"/>
<line x1="418" y1="162.68" x2="682" y2="162.68" stroke="#e9e9e9" stroke-width="0.8" stroke-dasharray="2 1.6"/>
<text x="382.2" y="165.18" font-size="8.4" fill="#111">STAT1</text>
<circle cx="493.1" cy="162.68" r="1.75" fill="none" stroke="#333" stroke-width="0.75"/>
<line x1="418" y1="171.11" x2="682" y2="171.11" stroke="#e9e9e9" stroke-width="0.8" stroke-dasharray="2 1.6"/>
<text x="382.2" y="173.61" font-size="8.4" fill="#111">CD69</text>
<circle cx="491.8" cy="171.11" r="1.75" fill="none" stroke="#333" stroke-width="0.75"/>
<line x1="418" y1="179.53" x2="682" y2="179.53" stroke="#e9e9e9" stroke-width="0.8" stroke-dasharray="2 1.6"/>
<text x="382.2" y="182.03" font-size="8.4" fill="#111">COMMD8</text>
<circle cx="489.3" cy="179.53" r="1.75" fill="none" stroke="#333" stroke-width="0.75"/>
<line x1="418" y1="187.96" x2="682" y2="187.96" stroke="#e9e9e9" stroke-width="0.8" stroke-dasharray="2 1.6"/>
<text x="382.2" y="190.46" font-size="8.4" fill="#111">CD52</text>
<circle cx="486.7" cy="187.96" r="1.75" fill="none" stroke="#333" stroke-width="0.75"/>
<line x1="418" y1="196.38" x2="682" y2="196.38" stroke="#e9e9e9" stroke-width="0.8" stroke-dasharray="2 1.6"/>
<text x="382.2" y="198.88" font-size="8.4" fill="#111">WASF2</text>
<circle cx="484.0" cy="196.38" r="1.75" fill="none" stroke="#333" stroke-width="0.75"/>
<line x1="418" y1="204.80" x2="682" y2="204.80" stroke="#e9e9e9" stroke-width="0.8" stroke-dasharray="2 1.6"/>
<text x="382.2" y="207.30" font-size="8.4" fill="#111">ZNF92</text>
<circle cx="477.8" cy="204.80" r="1.75" fill="none" stroke="#333" stroke-width="0.75"/>
<line x1="418" y1="213.23" x2="682" y2="213.23" stroke="#e9e9e9" stroke-width="0.8" stroke-dasharray="2 1.6"/>
<text x="382.2" y="215.73" font-size="8.4" fill="#111">LAP3</text>
<circle cx="477.8" cy="213.23" r="1.75" fill="none" stroke="#333" stroke-width="0.75"/>
<line x1="418" y1="221.65" x2="682" y2="221.65" stroke="#e9e9e9" stroke-width="0.8" stroke-dasharray="2 1.6"/>
<text x="382.2" y="224.15" font-size="8.4" fill="#111">SRRM2</text>
<circle cx="477.0" cy="221.65" r="1.75" fill="none" stroke="#333" stroke-width="0.75"/>
<line x1="418" y1="230.08" x2="682" y2="230.08" stroke="#e9e9e9" stroke-width="0.8" stroke-dasharray="2 1.6"/>
<text x="382.2" y="232.58" font-size="8.4" fill="#111">NABP1</text>
<circle cx="472.9" cy="230.08" r="1.75" fill="none" stroke="#333" stroke-width="0.75"/>
<line x1="418" y1="238.50" x2="682" y2="238.50" stroke="#e9e9e9" stroke-width="0.8" stroke-dasharray="2 1.6"/>
<text x="382.2" y="241.00" font-size="8.4" fill="#111">IFI44L</text>
<circle cx="470.6" cy="238.50" r="1.75" fill="none" stroke="#333" stroke-width="0.75"/>
<line x1="418" y1="246.92" x2="682" y2="246.92" stroke="#e9e9e9" stroke-width="0.8" stroke-dasharray="2 1.6"/>
<text x="382.2" y="249.42" font-size="8.4" fill="#111">HERC6</text>
<circle cx="470.6" cy="246.92" r="1.75" fill="none" stroke="#333" stroke-width="0.75"/>
<line x1="418" y1="255.35" x2="682" y2="255.35" stroke="#e9e9e9" stroke-width="0.8" stroke-dasharray="2 1.6"/>
<text x="382.2" y="257.85" font-size="8.4" fill="#111">IFIT5</text>
<circle cx="469.7" cy="255.35" r="1.75" fill="none" stroke="#333" stroke-width="0.75"/>
<line x1="418" y1="263.77" x2="682" y2="263.77" stroke="#e9e9e9" stroke-width="0.8" stroke-dasharray="2 1.6"/>
<text x="382.2" y="266.27" font-size="8.4" fill="#111">MINDY1</text>
<circle cx="469.7" cy="263.77" r="1.75" fill="none" stroke="#333" stroke-width="0.75"/>
<line x1="418" y1="272.20" x2="682" y2="272.20" stroke="#e9e9e9" stroke-width="0.8" stroke-dasharray="2 1.6"/>
<text x="382.2" y="274.70" font-size="8.4" fill="#111">IFIT3</text>
<circle cx="469.3" cy="272.20" r="1.75" fill="none" stroke="#333" stroke-width="0.75"/>
<rect x="417.6" y="19.3" width="264.7" height="261.2" fill="none" stroke="#555" stroke-width="0.95"/>
<line x1="427.70" y1="280.5" x2="427.70" y2="284.6" stroke="#555" stroke-width="0.95"/>
<text x="428.70" y="296.5" font-size="8.8" text-anchor="middle" fill="#111">0.0</text>
<line x1="463.37" y1="280.5" x2="463.37" y2="284.6" stroke="#555" stroke-width="0.95"/>
<text x="464.37" y="296.5" font-size="8.8" text-anchor="middle" fill="#111">0.5</text>
<line x1="499.04" y1="280.5" x2="499.04" y2="284.6" stroke="#555" stroke-width="0.95"/>
<text x="500.04" y="296.5" font-size="8.8" text-anchor="middle" fill="#111">1.0</text>
<line x1="534.71" y1="280.5" x2="534.71" y2="284.6" stroke="#555" stroke-width="0.95"/>
<text x="535.71" y="296.5" font-size="8.8" text-anchor="middle" fill="#111">1.5</text>
<line x1="570.38" y1="280.5" x2="570.38" y2="284.6" stroke="#555" stroke-width="0.95"/>
<text x="571.38" y="296.5" font-size="8.8" text-anchor="middle" fill="#111">2.0</text>
<line x1="606.05" y1="280.5" x2="606.05" y2="284.6" stroke="#555" stroke-width="0.95"/>
<text x="607.05" y="296.5" font-size="8.8" text-anchor="middle" fill="#111">2.5</text>
<line x1="641.72" y1="280.5" x2="641.72" y2="284.6" stroke="#555" stroke-width="0.95"/>
<text x="642.72" y="296.5" font-size="8.8" text-anchor="middle" fill="#111">3.0</text>
<line x1="677.39" y1="280.5" x2="677.39" y2="284.6" stroke="#555" stroke-width="0.95"/>
<text x="678.39" y="296.5" font-size="8.8" text-anchor="middle" fill="#111">3.5</text>
<text x="532.4" y="313.0" font-size="8.2" text-anchor="middle" fill="#111">MeanDecreaseGini</text>
<text x="0.8" y="342.6" font-size="15" fill="#000">C</text>
<g stroke="#9c9c9c" stroke-width="0.9"><rect x="83.50" y="403.50" width="4.47" height="29.58" fill="#ffffff"/><rect x="87.97" y="403.50" width="4.47" height="29.58" fill="#ffe5e5"/><rect x="92.43" y="403.50" width="4.47" height="29.58" fill="#ff8a8a"/><rect x="96.90" y="403.50" width="4.47" height="29.58" fill="#ff8a8a"/><rect x="101.37" y="403.50" width="4.47" height="29.58" fill="#ffaaaa"/><rect x="105.84" y="403.50" width="4.47" height="29.58" fill="#ffcaca"/><rect x="110.30" y="403.50" width="4.47" height="29.58" fill="#ffaaaa"/><rect x="114.77" y="403.50" width="4.47" height="29.58" fill="#ffaaaa"/><rect x="119.24" y="403.50" width="4.47" height="29.58" fill="#ffaaaa"/><rect x="123.71" y="403.50" width="4.47" height="29.58" fill="#ffaaaa"/><rect x="128.17" y="403.50" width="4.47" height="29.58" fill="#ff8a8a"/><rect x="132.64" y="403.50" width="4.47" height="29.58" fill="#ff8a8a"/><rect x="137.11" y="403.50" width="4.47" height="29.58" fill="#ffaaaa"/><rect x="141.57" y="403.50" width="4.47" height="29.58" fill="#ffcaca"/><rect x="146.04" y="403.50" width="4.47" height="29.58" fill="#ffcaca"/><rect x="150.51" y="403.50" width="4.47" height="29.58" fill="#ffaaaa"/><rect x="154.98" y="403.50" width="4.47" height="29.58" fill="#ffcaca"/><rect x="159.44" y="403.50" width="4.47" height="29.58" fill="#ffaaaa"/><rect x="163.91" y="403.50" width="4.47" height="29.58" fill="#ffcaca"/><rect x="168.38" y="403.50" width="4.47" height="29.58" fill="#ffcaca"/><rect x="172.85" y="403.50" width="4.47" height="29.58" fill="#ffcaca"/><rect x="177.31" y="403.50" width="4.47" height="29.58" fill="#ffcaca"/><rect x="181.78" y="403.50" width="4.47" height="29.58" fill="#ffe5e5"/><rect x="186.25" y="403.50" width="4.47" height="29.58" fill="#ffe5e5"/><rect x="190.72" y="403.50" width="4.47" height="29.58" fill="#ffcaca"/><rect x="195.18" y="403.50" width="4.47" height="29.58" fill="#ffaaaa"/><rect x="199.65" y="403.50" width="4.47" height="29.58" fill="#ffcaca"/><rect x="204.12" y="403.50" width="4.47" height="29.58" fill="#ffaaaa"/><rect x="208.58" y="403.50" width="4.47" height="29.58" fill="#e4e4ff"/><rect x="213.05" y="403.50" width="4.47" height="29.58" fill="#e4e4ff"/><rect x="217.52" y="403.50" width="4.47" height="29.58" fill="#ffe5e5"/><rect x="221.99" y="403.50" width="4.47" height="29.58" fill="#ffcaca"/><rect x="226.45" y="403.50" width="4.47" height="29.58" fill="#ffaaaa"/><rect x="230.92" y="403.50" width="4.47" height="29.58" fill="#ffaaaa"/><rect x="235.39" y="403.50" width="4.47" height="29.58" fill="#ffe5e5"/><rect x="239.86" y="403.50" width="4.47" height="29.58" fill="#ffe5e5"/><rect x="244.32" y="403.50" width="4.47" height="29.58" fill="#ffcaca"/><rect x="248.79" y="403.50" width="4.47" height="29.58" fill="#ffcaca"/><rect x="253.26" y="403.50" width="4.47" height="29.58" fill="#ffe5e5"/><rect x="257.72" y="403.50" width="4.47" height="29.58" fill="#ffe5e5"/><rect x="262.19" y="403.50" width="4.47" height="29.58" fill="#7a7aff"/><rect x="266.66" y="403.50" width="4.47" height="29.58" fill="#7a7aff"/><rect x="271.13" y="403.50" width="4.47" height="29.58" fill="#e4e4ff"/><rect x="275.59" y="403.50" width="4.47" height="29.58" fill="#acacff"/><rect x="280.06" y="403.50" width="4.47" height="29.58" fill="#acacff"/><rect x="284.53" y="403.50" width="4.47" height="29.58" fill="#acacff"/><rect x="289.00" y="403.50" width="4.47" height="29.58" fill="#c7c7ff"/><rect x="293.46" y="403.50" width="4.47" height="29.58" fill="#c7c7ff"/><rect x="297.93" y="403.50" width="4.47" height="29.58" fill="#acacff"/><rect x="302.40" y="403.50" width="4.47" height="29.58" fill="#c7c7ff"/><rect x="306.87" y="403.50" width="4.47" height="29.58" fill="#acacff"/><rect x="311.33" y="403.50" width="4.47" height="29.58" fill="#c7c7ff"/><rect x="315.80" y="403.50" width="4.47" height="29.58" fill="#e4e4ff"/><rect x="320.27" y="403.50" width="4.47" height="29.58" fill="#e4e4ff"/><rect x="324.73" y="403.50" width="4.47" height="29.58" fill="#ffe5e5"/><rect x="329.20" y="403.50" width="4.47" height="29.58" fill="#e4e4ff"/><rect x="333.67" y="403.50" width="4.47" height="29.58" fill="#c7c7ff"/><rect x="338.14" y="403.50" width="4.47" height="29.58" fill="#acacff"/><rect x="342.60" y="403.50" width="4.47" height="29.58" fill="#c7c7ff"/><rect x="347.07" y="403.50" width="4.47" height="29.58" fill="#ffffff"/><rect x="351.54" y="403.50" width="4.47" height="29.58" fill="#e4e4ff"/><rect x="356.01" y="403.50" width="4.47" height="29.58" fill="#ffffff"/><rect x="360.47" y="403.50" width="4.47" height="29.58" fill="#e4e4ff"/><rect x="364.94" y="403.50" width="4.47" height="29.58" fill="#e4e4ff"/><rect x="369.41" y="403.50" width="4.47" height="29.58" fill="#e4e4ff"/><rect x="373.87" y="403.50" width="4.47" height="29.58" fill="#e4e4ff"/><rect x="378.34" y="403.50" width="4.47" height="29.58" fill="#ffe5e5"/><rect x="382.81" y="403.50" width="4.47" height="29.58" fill="#c7c7ff"/><rect x="387.28" y="403.50" width="4.47" height="29.58" fill="#ffffff"/><rect x="391.74" y="403.50" width="4.47" height="29.58" fill="#e4e4ff"/><rect x="396.21" y="403.50" width="4.47" height="29.58" fill="#e4e4ff"/><rect x="400.68" y="403.50" width="4.47" height="29.58" fill="#c7c7ff"/><rect x="405.15" y="403.50" width="4.47" height="29.58" fill="#e4e4ff"/><rect x="409.61" y="403.50" width="4.47" height="29.58" fill="#0101ff"/><rect x="414.08" y="403.50" width="4.47" height="29.58" fill="#acacff"/><rect x="418.55" y="403.50" width="4.47" height="29.58" fill="#e4e4ff"/><rect x="423.01" y="403.50" width="4.47" height="29.58" fill="#ffe5e5"/><rect x="427.48" y="403.50" width="4.47" height="29.58" fill="#e4e4ff"/><rect x="431.95" y="403.50" width="4.47" height="29.58" fill="#ffffff"/><rect x="436.42" y="403.50" width="4.47" height="29.58" fill="#e4e4ff"/><rect x="440.88" y="403.50" width="4.47" height="29.58" fill="#e4e4ff"/><rect x="445.35" y="403.50" width="4.47" height="29.58" fill="#e4e4ff"/><rect x="449.82" y="403.50" width="4.47" height="29.58" fill="#ffffff"/><rect x="454.29" y="403.50" width="4.47" height="29.58" fill="#ffcaca"/><rect x="458.75" y="403.50" width="4.47" height="29.58" fill="#ffcaca"/><rect x="463.22" y="403.50" width="4.47" height="29.58" fill="#ffe5e5"/><rect x="467.69" y="403.50" width="4.47" height="29.58" fill="#ffe5e5"/><rect x="472.16" y="403.50" width="4.47" height="29.58" fill="#ffffff"/><rect x="476.62" y="403.50" width="4.47" height="29.58" fill="#ffffff"/><rect x="481.09" y="403.50" width="4.47" height="29.58" fill="#ffe5e5"/><rect x="485.56" y="403.50" width="4.47" height="29.58" fill="#ffffff"/><rect x="490.02" y="403.50" width="4.47" height="29.58" fill="#ffcaca"/><rect x="494.49" y="403.50" width="4.47" height="29.58" fill="#ffffff"/><rect x="498.96" y="403.50" width="4.47" height="29.58" fill="#ffffff"/><rect x="503.43" y="403.50" width="4.47" height="29.58" fill="#c7c7ff"/><rect x="507.89" y="403.50" width="4.47" height="29.58" fill="#e4e4ff"/><rect x="512.36" y="403.50" width="4.47" height="29.58" fill="#ffe5e5"/><rect x="516.83" y="403.50" width="4.47" height="29.58" fill="#ffe5e5"/><rect x="521.30" y="403.50" width="4.47" height="29.58" fill="#e4e4ff"/><rect x="525.76" y="403.50" width="4.47" height="29.58" fill="#ffffff"/><rect x="530.23" y="403.50" width="4.47" height="29.58" fill="#ffe5e5"/><rect x="534.70" y="403.50" width="4.47" height="29.58" fill="#ffe5e5"/><rect x="539.16" y="403.50" width="4.47" height="29.58" fill="#ffffff"/><rect x="543.63" y="403.50" width="4.47" height="29.58" fill="#e4e4ff"/><rect x="548.10" y="403.50" width="4.47" height="29.58" fill="#c7c7ff"/><rect x="552.57" y="403.50" width="4.47" height="29.58" fill="#ffffff"/><rect x="557.03" y="403.50" width="4.47" height="29.58" fill="#ffe5e5"/><rect x="561.50" y="403.50" width="4.47" height="29.58" fill="#acacff"/><rect x="565.97" y="403.50" width="4.47" height="29.58" fill="#acacff"/><rect x="570.44" y="403.50" width="4.47" height="29.58" fill="#c7c7ff"/><rect x="83.50" y="433.08" width="4.47" height="29.58" fill="#ffffff"/><rect x="87.97" y="433.08" width="4.47" height="29.58" fill="#ffcaca"/><rect x="92.43" y="433.08" width="4.47" height="29.58" fill="#ffaaaa"/><rect x="96.90" y="433.08" width="4.47" height="29.58" fill="#ffaaaa"/><rect x="101.37" y="433.08" width="4.47" height="29.58" fill="#ffaaaa"/><rect x="105.84" y="433.08" width="4.47" height="29.58" fill="#ffcaca"/><rect x="110.30" y="433.08" width="4.47" height="29.58" fill="#ffcaca"/><rect x="114.77" y="433.08" width="4.47" height="29.58" fill="#ffcaca"/><rect x="119.24" y="433.08" width="4.47" height="29.58" fill="#ffcaca"/><rect x="123.71" y="433.08" width="4.47" height="29.58" fill="#ffaaaa"/><rect x="128.17" y="433.08" width="4.47" height="29.58" fill="#ffcaca"/><rect x="132.64" y="433.08" width="4.47" height="29.58" fill="#ffffff"/><rect x="137.11" y="433.08" width="4.47" height="29.58" fill="#ffaaaa"/><rect x="141.57" y="433.08" width="4.47" height="29.58" fill="#ffaaaa"/><rect x="146.04" y="433.08" width="4.47" height="29.58" fill="#ffcaca"/><rect x="150.51" y="433.08" width="4.47" height="29.58" fill="#ffcaca"/><rect x="154.98" y="433.08" width="4.47" height="29.58" fill="#ff8a8a"/><rect x="159.44" y="433.08" width="4.47" height="29.58" fill="#ffaaaa"/><rect x="163.91" y="433.08" width="4.47" height="29.58" fill="#ffaaaa"/><rect x="168.38" y="433.08" width="4.47" height="29.58" fill="#ffcaca"/><rect x="172.85" y="433.08" width="4.47" height="29.58" fill="#ffcaca"/><rect x="177.31" y="433.08" width="4.47" height="29.58" fill="#ffcaca"/><rect x="181.78" y="433.08" width="4.47" height="29.58" fill="#ffaaaa"/><rect x="186.25" y="433.08" width="4.47" height="29.58" fill="#ffe5e5"/><rect x="190.72" y="433.08" width="4.47" height="29.58" fill="#ff8a8a"/><rect x="195.18" y="433.08" width="4.47" height="29.58" fill="#ffcaca"/><rect x="199.65" y="433.08" width="4.47" height="29.58" fill="#ffe5e5"/><rect x="204.12" y="433.08" width="4.47" height="29.58" fill="#ffe5e5"/><rect x="208.58" y="433.08" width="4.47" height="29.58" fill="#e4e4ff"/><rect x="213.05" y="433.08" width="4.47" height="29.58" fill="#ffffff"/><rect x="217.52" y="433.08" width="4.47" height="29.58" fill="#ffffff"/><rect x="221.99" y="433.08" width="4.47" height="29.58" fill="#ffe5e5"/><rect x="226.45" y="433.08" width="4.47" height="29.58" fill="#ffffff"/><rect x="230.92" y="433.08" width="4.47" height="29.58" fill="#ffcaca"/><rect x="235.39" y="433.08" width="4.47" height="29.58" fill="#ffcaca"/><rect x="239.86" y="433.08" width="4.47" height="29.58" fill="#ffcaca"/><rect x="244.32" y="433.08" width="4.47" height="29.58" fill="#ffcaca"/><rect x="248.79" y="433.08" width="4.47" height="29.58" fill="#ffcaca"/><rect x="253.26" y="433.08" width="4.47" height="29.58" fill="#ffe5e5"/><rect x="257.72" y="433.08" width="4.47" height="29.58" fill="#ffcaca"/><rect x="262.19" y="433.08" width="4.47" height="29.58" fill="#9292ff"/><rect x="266.66" y="433.08" width="4.47" height="29.58" fill="#4e4eff"/><rect x="271.13" y="433.08" width="4.47" height="29.58" fill="#e4e4ff"/><rect x="275.59" y="433.08" width="4.47" height="29.58" fill="#c7c7ff"/><rect x="280.06" y="433.08" width="4.47" height="29.58" fill="#acacff"/><rect x="284.53" y="433.08" width="4.47" height="29.58" fill="#acacff"/><rect x="289.00" y="433.08" width="4.47" height="29.58" fill="#ffffff"/><rect x="293.46" y="433.08" width="4.47" height="29.58" fill="#e4e4ff"/><rect x="297.93" y="433.08" width="4.47" height="29.58" fill="#9292ff"/><rect x="302.40" y="433.08" width="4.47" height="29.58" fill="#9292ff"/><rect x="306.87" y="433.08" width="4.47" height="29.58" fill="#9292ff"/><rect x="311.33" y="433.08" width="4.47" height="29.58" fill="#c7c7ff"/><rect x="315.80" y="433.08" width="4.47" height="29.58" fill="#ffffff"/><rect x="320.27" y="433.08" width="4.47" height="29.58" fill="#ffe5e5"/><rect x="324.73" y="433.08" width="4.47" height="29.58" fill="#acacff"/><rect x="329.20" y="433.08" width="4.47" height="29.58" fill="#acacff"/><rect x="333.67" y="433.08" width="4.47" height="29.58" fill="#7a7aff"/><rect x="338.14" y="433.08" width="4.47" height="29.58" fill="#c7c7ff"/><rect x="342.60" y="433.08" width="4.47" height="29.58" fill="#e4e4ff"/><rect x="347.07" y="433.08" width="4.47" height="29.58" fill="#c7c7ff"/><rect x="351.54" y="433.08" width="4.47" height="29.58" fill="#c7c7ff"/><rect x="356.01" y="433.08" width="4.47" height="29.58" fill="#e4e4ff"/><rect x="360.47" y="433.08" width="4.47" height="29.58" fill="#acacff"/><rect x="364.94" y="433.08" width="4.47" height="29.58" fill="#ffffff"/><rect x="369.41" y="433.08" width="4.47" height="29.58" fill="#ffffff"/><rect x="373.87" y="433.08" width="4.47" height="29.58" fill="#ffffff"/><rect x="378.34" y="433.08" width="4.47" height="29.58" fill="#ffffff"/><rect x="382.81" y="433.08" width="4.47" height="29.58" fill="#ffffff"/><rect x="387.28" y="433.08" width="4.47" height="29.58" fill="#ffffff"/><rect x="391.74" y="433.08" width="4.47" height="29.58" fill="#e4e4ff"/><rect x="396.21" y="433.08" width="4.47" height="29.58" fill="#e4e4ff"/><rect x="400.68" y="433.08" width="4.47" height="29.58" fill="#e4e4ff"/><rect x="405.15" y="433.08" width="4.47" height="29.58" fill="#ffffff"/><rect x="409.61" y="433.08" width="4.47" height="29.58" fill="#4e4eff"/><rect x="414.08" y="433.08" width="4.47" height="29.58" fill="#4e4eff"/><rect x="418.55" y="433.08" width="4.47" height="29.58" fill="#4e4eff"/><rect x="423.01" y="433.08" width="4.47" height="29.58" fill="#4e4eff"/><rect x="427.48" y="433.08" width="4.47" height="29.58" fill="#c7c7ff"/><rect x="431.95" y="433.08" width="4.47" height="29.58" fill="#ffffff"/><rect x="436.42" y="433.08" width="4.47" height="29.58" fill="#ffffff"/><rect x="440.88" y="433.08" width="4.47" height="29.58" fill="#ffffff"/><rect x="445.35" y="433.08" width="4.47" height="29.58" fill="#e4e4ff"/><rect x="449.82" y="433.08" width="4.47" height="29.58" fill="#ffffff"/><rect x="454.29" y="433.08" width="4.47" height="29.58" fill="#ffcaca"/><rect x="458.75" y="433.08" width="4.47" height="29.58" fill="#ffe5e5"/><rect x="463.22" y="433.08" width="4.47" height="29.58" fill="#ffffff"/><rect x="467.69" y="433.08" width="4.47" height="29.58" fill="#ffffff"/><rect x="472.16" y="433.08" width="4.47" height="29.58" fill="#ffcaca"/><rect x="476.62" y="433.08" width="4.47" height="29.58" fill="#ffffff"/><rect x="481.09" y="433.08" width="4.47" height="29.58" fill="#ffe5e5"/><rect x="485.56" y="433.08" width="4.47" height="29.58" fill="#ffffff"/><rect x="490.02" y="433.08" width="4.47" height="29.58" fill="#ffcaca"/><rect x="494.49" y="433.08" width="4.47" height="29.58" fill="#ffcaca"/><rect x="498.96" y="433.08" width="4.47" height="29.58" fill="#ffcaca"/><rect x="503.43" y="433.08" width="4.47" height="29.58" fill="#ffffff"/><rect x="507.89" y="433.08" width="4.47" height="29.58" fill="#ffffff"/><rect x="512.36" y="433.08" width="4.47" height="29.58" fill="#ffe5e5"/><rect x="516.83" y="433.08" width="4.47" height="29.58" fill="#ffe5e5"/><rect x="521.30" y="433.08" width="4.47" height="29.58" fill="#ffe5e5"/><rect x="525.76" y="433.08" width="4.47" height="29.58" fill="#ffe5e5"/><rect x="530.23" y="433.08" width="4.47" height="29.58" fill="#ffe5e5"/><rect x="534.70" y="433.08" width="4.47" height="29.58" fill="#ffe5e5"/><rect x="539.16" y="433.08" width="4.47" height="29.58" fill="#ffe5e5"/><rect x="543.63" y="433.08" width="4.47" height="29.58" fill="#e4e4ff"/><rect x="548.10" y="433.08" width="4.47" height="29.58" fill="#ffffff"/><rect x="552.57" y="433.08" width="4.47" height="29.58" fill="#ffffff"/><rect x="557.03" y="433.08" width="4.47" height="29.58" fill="#ffffff"/><rect x="561.50" y="433.08" width="4.47" height="29.58" fill="#ffffff"/><rect x="565.97" y="433.08" width="4.47" height="29.58" fill="#ffffff"/><rect x="570.44" y="433.08" width="4.47" height="29.58" fill="#ffffff"/><rect x="83.50" y="462.66" width="4.47" height="29.58" fill="#ffffff"/><rect x="87.97" y="462.66" width="4.47" height="29.58" fill="#acacff"/><rect x="92.43" y="462.66" width="4.47" height="29.58" fill="#acacff"/><rect x="96.90" y="462.66" width="4.47" height="29.58" fill="#acacff"/><rect x="101.37" y="462.66" width="4.47" height="29.58" fill="#9292ff"/><rect x="105.84" y="462.66" width="4.47" height="29.58" fill="#9292ff"/><rect x="110.30" y="462.66" width="4.47" height="29.58" fill="#acacff"/><rect x="114.77" y="462.66" width="4.47" height="29.58" fill="#acacff"/><rect x="119.24" y="462.66" width="4.47" height="29.58" fill="#c7c7ff"/><rect x="123.71" y="462.66" width="4.47" height="29.58" fill="#c7c7ff"/><rect x="128.17" y="462.66" width="4.47" height="29.58" fill="#acacff"/><rect x="132.64" y="462.66" width="4.47" height="29.58" fill="#e4e4ff"/><rect x="137.11" y="462.66" width="4.47" height="29.58" fill="#ffffff"/><rect x="141.57" y="462.66" width="4.47" height="29.58" fill="#e4e4ff"/><rect x="146.04" y="462.66" width="4.47" height="29.58" fill="#ffffff"/><rect x="150.51" y="462.66" width="4.47" height="29.58" fill="#c7c7ff"/><rect x="154.98" y="462.66" width="4.47" height="29.58" fill="#acacff"/><rect x="159.44" y="462.66" width="4.47" height="29.58" fill="#acacff"/><rect x="163.91" y="462.66" width="4.47" height="29.58" fill="#c7c7ff"/><rect x="168.38" y="462.66" width="4.47" height="29.58" fill="#e4e4ff"/><rect x="172.85" y="462.66" width="4.47" height="29.58" fill="#c7c7ff"/><rect x="177.31" y="462.66" width="4.47" height="29.58" fill="#e4e4ff"/><rect x="181.78" y="462.66" width="4.47" height="29.58" fill="#e4e4ff"/><rect x="186.25" y="462.66" width="4.47" height="29.58" fill="#e4e4ff"/><rect x="190.72" y="462.66" width="4.47" height="29.58" fill="#acacff"/><rect x="195.18" y="462.66" width="4.47" height="29.58" fill="#e4e4ff"/><rect x="199.65" y="462.66" width="4.47" height="29.58" fill="#e4e4ff"/><rect x="204.12" y="462.66" width="4.47" height="29.58" fill="#c7c7ff"/><rect x="208.58" y="462.66" width="4.47" height="29.58" fill="#acacff"/><rect x="213.05" y="462.66" width="4.47" height="29.58" fill="#e4e4ff"/><rect x="217.52" y="462.66" width="4.47" height="29.58" fill="#e4e4ff"/><rect x="221.99" y="462.66" width="4.47" height="29.58" fill="#c7c7ff"/><rect x="226.45" y="462.66" width="4.47" height="29.58" fill="#ffffff"/><rect x="230.92" y="462.66" width="4.47" height="29.58" fill="#c7c7ff"/><rect x="235.39" y="462.66" width="4.47" height="29.58" fill="#ffffff"/><rect x="239.86" y="462.66" width="4.47" height="29.58" fill="#e4e4ff"/><rect x="244.32" y="462.66" width="4.47" height="29.58" fill="#ffffff"/><rect x="248.79" y="462.66" width="4.47" height="29.58" fill="#e4e4ff"/><rect x="253.26" y="462.66" width="4.47" height="29.58" fill="#ffffff"/><rect x="257.72" y="462.66" width="4.47" height="29.58" fill="#e4e4ff"/><rect x="262.19" y="462.66" width="4.47" height="29.58" fill="#ffcaca"/><rect x="266.66" y="462.66" width="4.47" height="29.58" fill="#ffcaca"/><rect x="271.13" y="462.66" width="4.47" height="29.58" fill="#ff8a8a"/><rect x="275.59" y="462.66" width="4.47" height="29.58" fill="#ff6d6d"/><rect x="280.06" y="462.66" width="4.47" height="29.58" fill="#ffaaaa"/><rect x="284.53" y="462.66" width="4.47" height="29.58" fill="#ffaaaa"/><rect x="289.00" y="462.66" width="4.47" height="29.58" fill="#ffcaca"/><rect x="293.46" y="462.66" width="4.47" height="29.58" fill="#ffaaaa"/><rect x="297.93" y="462.66" width="4.47" height="29.58" fill="#ffffff"/><rect x="302.40" y="462.66" width="4.47" height="29.58" fill="#ffe5e5"/><rect x="306.87" y="462.66" width="4.47" height="29.58" fill="#ffffff"/><rect x="311.33" y="462.66" width="4.47" height="29.58" fill="#ffffff"/><rect x="315.80" y="462.66" width="4.47" height="29.58" fill="#ffffff"/><rect x="320.27" y="462.66" width="4.47" height="29.58" fill="#ffe5e5"/><rect x="324.73" y="462.66" width="4.47" height="29.58" fill="#ffcaca"/><rect x="329.20" y="462.66" width="4.47" height="29.58" fill="#ffcaca"/><rect x="333.67" y="462.66" width="4.47" height="29.58" fill="#ffcaca"/><rect x="338.14" y="462.66" width="4.47" height="29.58" fill="#ffaaaa"/><rect x="342.60" y="462.66" width="4.47" height="29.58" fill="#ffaaaa"/><rect x="347.07" y="462.66" width="4.47" height="29.58" fill="#ffcaca"/><rect x="351.54" y="462.66" width="4.47" height="29.58" fill="#ffcaca"/><rect x="356.01" y="462.66" width="4.47" height="29.58" fill="#ffcaca"/><rect x="360.47" y="462.66" width="4.47" height="29.58" fill="#ffcaca"/><rect x="364.94" y="462.66" width="4.47" height="29.58" fill="#ffcaca"/><rect x="369.41" y="462.66" width="4.47" height="29.58" fill="#ffcaca"/><rect x="373.87" y="462.66" width="4.47" height="29.58" fill="#ffcaca"/><rect x="378.34" y="462.66" width="4.47" height="29.58" fill="#ffaaaa"/><rect x="382.81" y="462.66" width="4.47" height="29.58" fill="#ffaaaa"/><rect x="387.28" y="462.66" width="4.47" height="29.58" fill="#ffaaaa"/><rect x="391.74" y="462.66" width="4.47" height="29.58" fill="#ffaaaa"/><rect x="396.21" y="462.66" width="4.47" height="29.58" fill="#ffaaaa"/><rect x="400.68" y="462.66" width="4.47" height="29.58" fill="#ff8a8a"/><rect x="405.15" y="462.66" width="4.47" height="29.58" fill="#ffaaaa"/><rect x="409.61" y="462.66" width="4.47" height="29.58" fill="#acacff"/><rect x="414.08" y="462.66" width="4.47" height="29.58" fill="#acacff"/><rect x="418.55" y="462.66" width="4.47" height="29.58" fill="#4e4eff"/><rect x="423.01" y="462.66" width="4.47" height="29.58" fill="#7a7aff"/><rect x="427.48" y="462.66" width="4.47" height="29.58" fill="#e4e4ff"/><rect x="431.95" y="462.66" width="4.47" height="29.58" fill="#acacff"/><rect x="436.42" y="462.66" width="4.47" height="29.58" fill="#acacff"/><rect x="440.88" y="462.66" width="4.47" height="29.58" fill="#c7c7ff"/><rect x="445.35" y="462.66" width="4.47" height="29.58" fill="#c7c7ff"/><rect x="449.82" y="462.66" width="4.47" height="29.58" fill="#ffffff"/><rect x="454.29" y="462.66" width="4.47" height="29.58" fill="#c7c7ff"/><rect x="458.75" y="462.66" width="4.47" height="29.58" fill="#ffffff"/><rect x="463.22" y="462.66" width="4.47" height="29.58" fill="#ffffff"/><rect x="467.69" y="462.66" width="4.47" height="29.58" fill="#e4e4ff"/><rect x="472.16" y="462.66" width="4.47" height="29.58" fill="#e4e4ff"/><rect x="476.62" y="462.66" width="4.47" height="29.58" fill="#c7c7ff"/><rect x="481.09" y="462.66" width="4.47" height="29.58" fill="#ffaaaa"/><rect x="485.56" y="462.66" width="4.47" height="29.58" fill="#ffaaaa"/><rect x="490.02" y="462.66" width="4.47" height="29.58" fill="#ffcaca"/><rect x="494.49" y="462.66" width="4.47" height="29.58" fill="#ffcaca"/><rect x="498.96" y="462.66" width="4.47" height="29.58" fill="#ffcaca"/><rect x="503.43" y="462.66" width="4.47" height="29.58" fill="#ffcaca"/><rect x="507.89" y="462.66" width="4.47" height="29.58" fill="#ffcaca"/><rect x="512.36" y="462.66" width="4.47" height="29.58" fill="#ffffff"/><rect x="516.83" y="462.66" width="4.47" height="29.58" fill="#ffffff"/><rect x="521.30" y="462.66" width="4.47" height="29.58" fill="#ffaaaa"/><rect x="525.76" y="462.66" width="4.47" height="29.58" fill="#ffcaca"/><rect x="530.23" y="462.66" width="4.47" height="29.58" fill="#ffcaca"/><rect x="534.70" y="462.66" width="4.47" height="29.58" fill="#ffe5e5"/><rect x="539.16" y="462.66" width="4.47" height="29.58" fill="#ffcaca"/><rect x="543.63" y="462.66" width="4.47" height="29.58" fill="#ffaaaa"/><rect x="548.10" y="462.66" width="4.47" height="29.58" fill="#ffcaca"/><rect x="552.57" y="462.66" width="4.47" height="29.58" fill="#ffaaaa"/><rect x="557.03" y="462.66" width="4.47" height="29.58" fill="#ffcaca"/><rect x="561.50" y="462.66" width="4.47" height="29.58" fill="#ffffff"/><rect x="565.97" y="462.66" width="4.47" height="29.58" fill="#c7c7ff"/><rect x="570.44" y="462.66" width="4.47" height="29.58" fill="#ffcaca"/><rect x="83.50" y="492.24" width="4.47" height="29.58" fill="#ffffff"/><rect x="87.97" y="492.24" width="4.47" height="29.58" fill="#acacff"/><rect x="92.43" y="492.24" width="4.47" height="29.58" fill="#7a7aff"/><rect x="96.90" y="492.24" width="4.47" height="29.58" fill="#acacff"/><rect x="101.37" y="492.24" width="4.47" height="29.58" fill="#acacff"/><rect x="105.84" y="492.24" width="4.47" height="29.58" fill="#c7c7ff"/><rect x="110.30" y="492.24" width="4.47" height="29.58" fill="#acacff"/><rect x="114.77" y="492.24" width="4.47" height="29.58" fill="#9292ff"/><rect x="119.24" y="492.24" width="4.47" height="29.58" fill="#acacff"/><rect x="123.71" y="492.24" width="4.47" height="29.58" fill="#acacff"/><rect x="128.17" y="492.24" width="4.47" height="29.58" fill="#c7c7ff"/><rect x="132.64" y="492.24" width="4.47" height="29.58" fill="#ffffff"/><rect x="137.11" y="492.24" width="4.47" height="29.58" fill="#ffe5e5"/><rect x="141.57" y="492.24" width="4.47" height="29.58" fill="#ffcaca"/><rect x="146.04" y="492.24" width="4.47" height="29.58" fill="#e4e4ff"/><rect x="150.51" y="492.24" width="4.47" height="29.58" fill="#acacff"/><rect x="154.98" y="492.24" width="4.47" height="29.58" fill="#acacff"/><rect x="159.44" y="492.24" width="4.47" height="29.58" fill="#c7c7ff"/><rect x="163.91" y="492.24" width="4.47" height="29.58" fill="#c7c7ff"/><rect x="168.38" y="492.24" width="4.47" height="29.58" fill="#e4e4ff"/><rect x="172.85" y="492.24" width="4.47" height="29.58" fill="#c7c7ff"/><rect x="177.31" y="492.24" width="4.47" height="29.58" fill="#c7c7ff"/><rect x="181.78" y="492.24" width="4.47" height="29.58" fill="#c7c7ff"/><rect x="186.25" y="492.24" width="4.47" height="29.58" fill="#c7c7ff"/><rect x="190.72" y="492.24" width="4.47" height="29.58" fill="#c7c7ff"/><rect x="195.18" y="492.24" width="4.47" height="29.58" fill="#e4e4ff"/><rect x="199.65" y="492.24" width="4.47" height="29.58" fill="#ffffff"/><rect x="204.12" y="492.24" width="4.47" height="29.58" fill="#c7c7ff"/><rect x="208.58" y="492.24" width="4.47" height="29.58" fill="#c7c7ff"/><rect x="213.05" y="492.24" width="4.47" height="29.58" fill="#c7c7ff"/><rect x="217.52" y="492.24" width="4.47" height="29.58" fill="#ffffff"/><rect x="221.99" y="492.24" width="4.47" height="29.58" fill="#9292ff"/><rect x="226.45" y="492.24" width="4.47" height="29.58" fill="#e4e4ff"/><rect x="230.92" y="492.24" width="4.47" height="29.58" fill="#c7c7ff"/><rect x="235.39" y="492.24" width="4.47" height="29.58" fill="#e4e4ff"/><rect x="239.86" y="492.24" width="4.47" height="29.58" fill="#e4e4ff"/><rect x="244.32" y="492.24" width="4.47" height="29.58" fill="#c7c7ff"/><rect x="248.79" y="492.24" width="4.47" height="29.58" fill="#e4e4ff"/><rect x="253.26" y="492.24" width="4.47" height="29.58" fill="#ffffff"/><rect x="257.72" y="492.24" width="4.47" height="29.58" fill="#e4e4ff"/><rect x="262.19" y="492.24" width="4.47" height="29.58" fill="#ffe5e5"/><rect x="266.66" y="492.24" width="4.47" height="29.58" fill="#ffcaca"/><rect x="271.13" y="492.24" width="4.47" height="29.58" fill="#ffcaca"/><rect x="275.59" y="492.24" width="4.47" height="29.58" fill="#ff6d6d"/><rect x="280.06" y="492.24" width="4.47" height="29.58" fill="#ffaaaa"/><rect x="284.53" y="492.24" width="4.47" height="29.58" fill="#ffcaca"/><rect x="289.00" y="492.24" width="4.47" height="29.58" fill="#ffcaca"/><rect x="293.46" y="492.24" width="4.47" height="29.58" fill="#ffaaaa"/><rect x="297.93" y="492.24" width="4.47" height="29.58" fill="#e4e4ff"/><rect x="302.40" y="492.24" width="4.47" height="29.58" fill="#e4e4ff"/><rect x="306.87" y="492.24" width="4.47" height="29.58" fill="#e4e4ff"/><rect x="311.33" y="492.24" width="4.47" height="29.58" fill="#ffffff"/><rect x="315.80" y="492.24" width="4.47" height="29.58" fill="#ffe5e5"/><rect x="320.27" y="492.24" width="4.47" height="29.58" fill="#ffe5e5"/><rect x="324.73" y="492.24" width="4.47" height="29.58" fill="#e4e4ff"/><rect x="329.20" y="492.24" width="4.47" height="29.58" fill="#ffe5e5"/><rect x="333.67" y="492.24" width="4.47" height="29.58" fill="#ffaaaa"/><rect x="338.14" y="492.24" width="4.47" height="29.58" fill="#ff8a8a"/><rect x="342.60" y="492.24" width="4.47" height="29.58" fill="#ffcaca"/><rect x="347.07" y="492.24" width="4.47" height="29.58" fill="#ffe5e5"/><rect x="351.54" y="492.24" width="4.47" height="29.58" fill="#ffe5e5"/><rect x="356.01" y="492.24" width="4.47" height="29.58" fill="#ffe5e5"/><rect x="360.47" y="492.24" width="4.47" height="29.58" fill="#ffe5e5"/><rect x="364.94" y="492.24" width="4.47" height="29.58" fill="#ffcaca"/><rect x="369.41" y="492.24" width="4.47" height="29.58" fill="#ffcaca"/><rect x="373.87" y="492.24" width="4.47" height="29.58" fill="#ffcaca"/><rect x="378.34" y="492.24" width="4.47" height="29.58" fill="#ffaaaa"/><rect x="382.81" y="492.24" width="4.47" height="29.58" fill="#ffcaca"/><rect x="387.28" y="492.24" width="4.47" height="29.58" fill="#ffcaca"/><rect x="391.74" y="492.24" width="4.47" height="29.58" fill="#ffaaaa"/><rect x="396.21" y="492.24" width="4.47" height="29.58" fill="#ffaaaa"/><rect x="400.68" y="492.24" width="4.47" height="29.58" fill="#ff6d6d"/><rect x="405.15" y="492.24" width="4.47" height="29.58" fill="#ff8a8a"/><rect x="409.61" y="492.24" width="4.47" height="29.58" fill="#c7c7ff"/><rect x="414.08" y="492.24" width="4.47" height="29.58" fill="#acacff"/><rect x="418.55" y="492.24" width="4.47" height="29.58" fill="#c7c7ff"/><rect x="423.01" y="492.24" width="4.47" height="29.58" fill="#c7c7ff"/><rect x="427.48" y="492.24" width="4.47" height="29.58" fill="#ffffff"/><rect x="431.95" y="492.24" width="4.47" height="29.58" fill="#e4e4ff"/><rect x="436.42" y="492.24" width="4.47" height="29.58" fill="#c7c7ff"/><rect x="440.88" y="492.24" width="4.47" height="29.58" fill="#e4e4ff"/><rect x="445.35" y="492.24" width="4.47" height="29.58" fill="#ffcaca"/><rect x="449.82" y="492.24" width="4.47" height="29.58" fill="#e4e4ff"/><rect x="454.29" y="492.24" width="4.47" height="29.58" fill="#c7c7ff"/><rect x="458.75" y="492.24" width="4.47" height="29.58" fill="#e4e4ff"/><rect x="463.22" y="492.24" width="4.47" height="29.58" fill="#c7c7ff"/><rect x="467.69" y="492.24" width="4.47" height="29.58" fill="#c7c7ff"/><rect x="472.16" y="492.24" width="4.47" height="29.58" fill="#c7c7ff"/><rect x="476.62" y="492.24" width="4.47" height="29.58" fill="#e4e4ff"/><rect x="481.09" y="492.24" width="4.47" height="29.58" fill="#ffcaca"/><rect x="485.56" y="492.24" width="4.47" height="29.58" fill="#ffe5e5"/><rect x="490.02" y="492.24" width="4.47" height="29.58" fill="#ffffff"/><rect x="494.49" y="492.24" width="4.47" height="29.58" fill="#ffffff"/><rect x="498.96" y="492.24" width="4.47" height="29.58" fill="#ffffff"/><rect x="503.43" y="492.24" width="4.47" height="29.58" fill="#c7c7ff"/><rect x="507.89" y="492.24" width="4.47" height="29.58" fill="#ffcaca"/><rect x="512.36" y="492.24" width="4.47" height="29.58" fill="#ffffff"/><rect x="516.83" y="492.24" width="4.47" height="29.58" fill="#ffe5e5"/><rect x="521.30" y="492.24" width="4.47" height="29.58" fill="#ffcaca"/><rect x="525.76" y="492.24" width="4.47" height="29.58" fill="#ffaaaa"/><rect x="530.23" y="492.24" width="4.47" height="29.58" fill="#ffcaca"/><rect x="534.70" y="492.24" width="4.47" height="29.58" fill="#ffaaaa"/><rect x="539.16" y="492.24" width="4.47" height="29.58" fill="#ffaaaa"/><rect x="543.63" y="492.24" width="4.47" height="29.58" fill="#ffcaca"/><rect x="548.10" y="492.24" width="4.47" height="29.58" fill="#ffcaca"/><rect x="552.57" y="492.24" width="4.47" height="29.58" fill="#ffcaca"/><rect x="557.03" y="492.24" width="4.47" height="29.58" fill="#ffcaca"/><rect x="561.50" y="492.24" width="4.47" height="29.58" fill="#ff8a8a"/><rect x="565.97" y="492.24" width="4.47" height="29.58" fill="#ffffff"/><rect x="570.44" y="492.24" width="4.47" height="29.58" fill="#ffaaaa"/><rect x="83.50" y="521.82" width="4.47" height="29.58" fill="#ffffff"/><rect x="87.97" y="521.82" width="4.47" height="29.58" fill="#c7c7ff"/><rect x="92.43" y="521.82" width="4.47" height="29.58" fill="#c7c7ff"/><rect x="96.90" y="521.82" width="4.47" height="29.58" fill="#acacff"/><rect x="101.37" y="521.82" width="4.47" height="29.58" fill="#acacff"/><rect x="105.84" y="521.82" width="4.47" height="29.58" fill="#c7c7ff"/><rect x="110.30" y="521.82" width="4.47" height="29.58" fill="#acacff"/><rect x="114.77" y="521.82" width="4.47" height="29.58" fill="#c7c7ff"/><rect x="119.24" y="521.82" width="4.47" height="29.58" fill="#acacff"/><rect x="123.71" y="521.82" width="4.47" height="29.58" fill="#c7c7ff"/><rect x="128.17" y="521.82" width="4.47" height="29.58" fill="#c7c7ff"/><rect x="132.64" y="521.82" width="4.47" height="29.58" fill="#e4e4ff"/><rect x="137.11" y="521.82" width="4.47" height="29.58" fill="#e4e4ff"/><rect x="141.57" y="521.82" width="4.47" height="29.58" fill="#ffffff"/><rect x="146.04" y="521.82" width="4.47" height="29.58" fill="#e4e4ff"/><rect x="150.51" y="521.82" width="4.47" height="29.58" fill="#acacff"/><rect x="154.98" y="521.82" width="4.47" height="29.58" fill="#c7c7ff"/><rect x="159.44" y="521.82" width="4.47" height="29.58" fill="#c7c7ff"/><rect x="163.91" y="521.82" width="4.47" height="29.58" fill="#c7c7ff"/><rect x="168.38" y="521.82" width="4.47" height="29.58" fill="#c7c7ff"/><rect x="172.85" y="521.82" width="4.47" height="29.58" fill="#c7c7ff"/><rect x="177.31" y="521.82" width="4.47" height="29.58" fill="#c7c7ff"/><rect x="181.78" y="521.82" width="4.47" height="29.58" fill="#c7c7ff"/><rect x="186.25" y="521.82" width="4.47" height="29.58" fill="#c7c7ff"/><rect x="190.72" y="521.82" width="4.47" height="29.58" fill="#acacff"/><rect x="195.18" y="521.82" width="4.47" height="29.58" fill="#c7c7ff"/><rect x="199.65" y="521.82" width="4.47" height="29.58" fill="#c7c7ff"/><rect x="204.12" y="521.82" width="4.47" height="29.58" fill="#c7c7ff"/><rect x="208.58" y="521.82" width="4.47" height="29.58" fill="#acacff"/><rect x="213.05" y="521.82" width="4.47" height="29.58" fill="#c7c7ff"/><rect x="217.52" y="521.82" width="4.47" height="29.58" fill="#c7c7ff"/><rect x="221.99" y="521.82" width="4.47" height="29.58" fill="#9292ff"/><rect x="226.45" y="521.82" width="4.47" height="29.58" fill="#e4e4ff"/><rect x="230.92" y="521.82" width="4.47" height="29.58" fill="#c7c7ff"/><rect x="235.39" y="521.82" width="4.47" height="29.58" fill="#c7c7ff"/><rect x="239.86" y="521.82" width="4.47" height="29.58" fill="#c7c7ff"/><rect x="244.32" y="521.82" width="4.47" height="29.58" fill="#c7c7ff"/><rect x="248.79" y="521.82" width="4.47" height="29.58" fill="#c7c7ff"/><rect x="253.26" y="521.82" width="4.47" height="29.58" fill="#c7c7ff"/><rect x="257.72" y="521.82" width="4.47" height="29.58" fill="#c7c7ff"/><rect x="262.19" y="521.82" width="4.47" height="29.58" fill="#ffcaca"/><rect x="266.66" y="521.82" width="4.47" height="29.58" fill="#ffe5e5"/><rect x="271.13" y="521.82" width="4.47" height="29.58" fill="#ffaaaa"/><rect x="275.59" y="521.82" width="4.47" height="29.58" fill="#ff8a8a"/><rect x="280.06" y="521.82" width="4.47" height="29.58" fill="#ffaaaa"/><rect x="284.53" y="521.82" width="4.47" height="29.58" fill="#ffaaaa"/><rect x="289.00" y="521.82" width="4.47" height="29.58" fill="#ffcaca"/><rect x="293.46" y="521.82" width="4.47" height="29.58" fill="#ffaaaa"/><rect x="297.93" y="521.82" width="4.47" height="29.58" fill="#ffffff"/><rect x="302.40" y="521.82" width="4.47" height="29.58" fill="#ffffff"/><rect x="306.87" y="521.82" width="4.47" height="29.58" fill="#e4e4ff"/><rect x="311.33" y="521.82" width="4.47" height="29.58" fill="#c7c7ff"/><rect x="315.80" y="521.82" width="4.47" height="29.58" fill="#e4e4ff"/><rect x="320.27" y="521.82" width="4.47" height="29.58" fill="#ffffff"/><rect x="324.73" y="521.82" width="4.47" height="29.58" fill="#ffffff"/><rect x="329.20" y="521.82" width="4.47" height="29.58" fill="#ffe5e5"/><rect x="333.67" y="521.82" width="4.47" height="29.58" fill="#ffaaaa"/><rect x="338.14" y="521.82" width="4.47" height="29.58" fill="#ffaaaa"/><rect x="342.60" y="521.82" width="4.47" height="29.58" fill="#ffaaaa"/><rect x="347.07" y="521.82" width="4.47" height="29.58" fill="#ffaaaa"/><rect x="351.54" y="521.82" width="4.47" height="29.58" fill="#ffcaca"/><rect x="356.01" y="521.82" width="4.47" height="29.58" fill="#ffcaca"/><rect x="360.47" y="521.82" width="4.47" height="29.58" fill="#ffcaca"/><rect x="364.94" y="521.82" width="4.47" height="29.58" fill="#ffaaaa"/><rect x="369.41" y="521.82" width="4.47" height="29.58" fill="#ffe5e5"/><rect x="373.87" y="521.82" width="4.47" height="29.58" fill="#ffcaca"/><rect x="378.34" y="521.82" width="4.47" height="29.58" fill="#ffcaca"/><rect x="382.81" y="521.82" width="4.47" height="29.58" fill="#ffe5e5"/><rect x="387.28" y="521.82" width="4.47" height="29.58" fill="#ffaaaa"/><rect x="391.74" y="521.82" width="4.47" height="29.58" fill="#ff8a8a"/><rect x="396.21" y="521.82" width="4.47" height="29.58" fill="#ff8a8a"/><rect x="400.68" y="521.82" width="4.47" height="29.58" fill="#ff8a8a"/><rect x="405.15" y="521.82" width="4.47" height="29.58" fill="#ff8a8a"/><rect x="409.61" y="521.82" width="4.47" height="29.58" fill="#ffffff"/><rect x="414.08" y="521.82" width="4.47" height="29.58" fill="#ffaaaa"/><rect x="418.55" y="521.82" width="4.47" height="29.58" fill="#e4e4ff"/><rect x="423.01" y="521.82" width="4.47" height="29.58" fill="#e4e4ff"/><rect x="427.48" y="521.82" width="4.47" height="29.58" fill="#e4e4ff"/><rect x="431.95" y="521.82" width="4.47" height="29.58" fill="#c7c7ff"/><rect x="436.42" y="521.82" width="4.47" height="29.58" fill="#e4e4ff"/><rect x="440.88" y="521.82" width="4.47" height="29.58" fill="#c7c7ff"/><rect x="445.35" y="521.82" width="4.47" height="29.58" fill="#ffffff"/><rect x="449.82" y="521.82" width="4.47" height="29.58" fill="#ffffff"/><rect x="454.29" y="521.82" width="4.47" height="29.58" fill="#ffffff"/><rect x="458.75" y="521.82" width="4.47" height="29.58" fill="#c7c7ff"/><rect x="463.22" y="521.82" width="4.47" height="29.58" fill="#e4e4ff"/><rect x="467.69" y="521.82" width="4.47" height="29.58" fill="#ffffff"/><rect x="472.16" y="521.82" width="4.47" height="29.58" fill="#e4e4ff"/><rect x="476.62" y="521.82" width="4.47" height="29.58" fill="#e4e4ff"/><rect x="481.09" y="521.82" width="4.47" height="29.58" fill="#ffaaaa"/><rect x="485.56" y="521.82" width="4.47" height="29.58" fill="#ffaaaa"/><rect x="490.02" y="521.82" width="4.47" height="29.58" fill="#ffcaca"/><rect x="494.49" y="521.82" width="4.47" height="29.58" fill="#ffe5e5"/><rect x="498.96" y="521.82" width="4.47" height="29.58" fill="#ffe5e5"/><rect x="503.43" y="521.82" width="4.47" height="29.58" fill="#e4e4ff"/><rect x="507.89" y="521.82" width="4.47" height="29.58" fill="#ffe5e5"/><rect x="512.36" y="521.82" width="4.47" height="29.58" fill="#ffffff"/><rect x="516.83" y="521.82" width="4.47" height="29.58" fill="#ffe5e5"/><rect x="521.30" y="521.82" width="4.47" height="29.58" fill="#ffaaaa"/><rect x="525.76" y="521.82" width="4.47" height="29.58" fill="#ffcaca"/><rect x="530.23" y="521.82" width="4.47" height="29.58" fill="#ffe5e5"/><rect x="534.70" y="521.82" width="4.47" height="29.58" fill="#ffaaaa"/><rect x="539.16" y="521.82" width="4.47" height="29.58" fill="#ffcaca"/><rect x="543.63" y="521.82" width="4.47" height="29.58" fill="#ffaaaa"/><rect x="548.10" y="521.82" width="4.47" height="29.58" fill="#ffe5e5"/><rect x="552.57" y="521.82" width="4.47" height="29.58" fill="#ffaaaa"/><rect x="557.03" y="521.82" width="4.47" height="29.58" fill="#ffcaca"/><rect x="561.50" y="521.82" width="4.47" height="29.58" fill="#ff8a8a"/><rect x="565.97" y="521.82" width="4.47" height="29.58" fill="#ffcaca"/><rect x="570.44" y="521.82" width="4.47" height="29.58" fill="#ffaaaa"/><rect x="83.50" y="551.40" width="4.47" height="29.58" fill="#ffffff"/><rect x="87.97" y="551.40" width="4.47" height="29.58" fill="#c7c7ff"/><rect x="92.43" y="551.40" width="4.47" height="29.58" fill="#acacff"/><rect x="96.90" y="551.40" width="4.47" height="29.58" fill="#9292ff"/><rect x="101.37" y="551.40" width="4.47" height="29.58" fill="#acacff"/><rect x="105.84" y="551.40" width="4.47" height="29.58" fill="#c7c7ff"/><rect x="110.30" y="551.40" width="4.47" height="29.58" fill="#c7c7ff"/><rect x="114.77" y="551.40" width="4.47" height="29.58" fill="#acacff"/><rect x="119.24" y="551.40" width="4.47" height="29.58" fill="#acacff"/><rect x="123.71" y="551.40" width="4.47" height="29.58" fill="#c7c7ff"/><rect x="128.17" y="551.40" width="4.47" height="29.58" fill="#c7c7ff"/><rect x="132.64" y="551.40" width="4.47" height="29.58" fill="#acacff"/><rect x="137.11" y="551.40" width="4.47" height="29.58" fill="#e4e4ff"/><rect x="141.57" y="551.40" width="4.47" height="29.58" fill="#ffe5e5"/><rect x="146.04" y="551.40" width="4.47" height="29.58" fill="#e4e4ff"/><rect x="150.51" y="551.40" width="4.47" height="29.58" fill="#c7c7ff"/><rect x="154.98" y="551.40" width="4.47" height="29.58" fill="#c7c7ff"/><rect x="159.44" y="551.40" width="4.47" height="29.58" fill="#c7c7ff"/><rect x="163.91" y="551.40" width="4.47" height="29.58" fill="#acacff"/><rect x="168.38" y="551.40" width="4.47" height="29.58" fill="#c7c7ff"/><rect x="172.85" y="551.40" width="4.47" height="29.58" fill="#c7c7ff"/><rect x="177.31" y="551.40" width="4.47" height="29.58" fill="#c7c7ff"/><rect x="181.78" y="551.40" width="4.47" height="29.58" fill="#c7c7ff"/><rect x="186.25" y="551.40" width="4.47" height="29.58" fill="#e4e4ff"/><rect x="190.72" y="551.40" width="4.47" height="29.58" fill="#acacff"/><rect x="195.18" y="551.40" width="4.47" height="29.58" fill="#c7c7ff"/><rect x="199.65" y="551.40" width="4.47" height="29.58" fill="#e4e4ff"/><rect x="204.12" y="551.40" width="4.47" height="29.58" fill="#c7c7ff"/><rect x="208.58" y="551.40" width="4.47" height="29.58" fill="#acacff"/><rect x="213.05" y="551.40" width="4.47" height="29.58" fill="#c7c7ff"/><rect x="217.52" y="551.40" width="4.47" height="29.58" fill="#acacff"/><rect x="221.99" y="551.40" width="4.47" height="29.58" fill="#e4e4ff"/><rect x="226.45" y="551.40" width="4.47" height="29.58" fill="#ffffff"/><rect x="230.92" y="551.40" width="4.47" height="29.58" fill="#e4e4ff"/><rect x="235.39" y="551.40" width="4.47" height="29.58" fill="#c7c7ff"/><rect x="239.86" y="551.40" width="4.47" height="29.58" fill="#c7c7ff"/><rect x="244.32" y="551.40" width="4.47" height="29.58" fill="#e4e4ff"/><rect x="248.79" y="551.40" width="4.47" height="29.58" fill="#e4e4ff"/><rect x="253.26" y="551.40" width="4.47" height="29.58" fill="#e4e4ff"/><rect x="257.72" y="551.40" width="4.47" height="29.58" fill="#e4e4ff"/><rect x="262.19" y="551.40" width="4.47" height="29.58" fill="#ffe5e5"/><rect x="266.66" y="551.40" width="4.47" height="29.58" fill="#ffe5e5"/><rect x="271.13" y="551.40" width="4.47" height="29.58" fill="#ffaaaa"/><rect x="275.59" y="551.40" width="4.47" height="29.58" fill="#ff8a8a"/><rect x="280.06" y="551.40" width="4.47" height="29.58" fill="#ffaaaa"/><rect x="284.53" y="551.40" width="4.47" height="29.58" fill="#ffaaaa"/><rect x="289.00" y="551.40" width="4.47" height="29.58" fill="#ffaaaa"/><rect x="293.46" y="551.40" width="4.47" height="29.58" fill="#ffaaaa"/><rect x="297.93" y="551.40" width="4.47" height="29.58" fill="#ffffff"/><rect x="302.40" y="551.40" width="4.47" height="29.58" fill="#ffffff"/><rect x="306.87" y="551.40" width="4.47" height="29.58" fill="#c7c7ff"/><rect x="311.33" y="551.40" width="4.47" height="29.58" fill="#ffffff"/><rect x="315.80" y="551.40" width="4.47" height="29.58" fill="#ffffff"/><rect x="320.27" y="551.40" width="4.47" height="29.58" fill="#ffe5e5"/><rect x="324.73" y="551.40" width="4.47" height="29.58" fill="#ffcaca"/><rect x="329.20" y="551.40" width="4.47" height="29.58" fill="#ffcaca"/><rect x="333.67" y="551.40" width="4.47" height="29.58" fill="#ffffff"/><rect x="338.14" y="551.40" width="4.47" height="29.58" fill="#ffaaaa"/><rect x="342.60" y="551.40" width="4.47" height="29.58" fill="#ffaaaa"/><rect x="347.07" y="551.40" width="4.47" height="29.58" fill="#ffaaaa"/><rect x="351.54" y="551.40" width="4.47" height="29.58" fill="#ffcaca"/><rect x="356.01" y="551.40" width="4.47" height="29.58" fill="#ffcaca"/><rect x="360.47" y="551.40" width="4.47" height="29.58" fill="#ffcaca"/><rect x="364.94" y="551.40" width="4.47" height="29.58" fill="#ffcaca"/><rect x="369.41" y="551.40" width="4.47" height="29.58" fill="#ffcaca"/><rect x="373.87" y="551.40" width="4.47" height="29.58" fill="#ffcaca"/><rect x="378.34" y="551.40" width="4.47" height="29.58" fill="#ffaaaa"/><rect x="382.81" y="551.40" width="4.47" height="29.58" fill="#ffcaca"/><rect x="387.28" y="551.40" width="4.47" height="29.58" fill="#ffaaaa"/><rect x="391.74" y="551.40" width="4.47" height="29.58" fill="#ffaaaa"/><rect x="396.21" y="551.40" width="4.47" height="29.58" fill="#ffcaca"/><rect x="400.68" y="551.40" width="4.47" height="29.58" fill="#ffaaaa"/><rect x="405.15" y="551.40" width="4.47" height="29.58" fill="#ffaaaa"/><rect x="409.61" y="551.40" width="4.47" height="29.58" fill="#ffe5e5"/><rect x="414.08" y="551.40" width="4.47" height="29.58" fill="#e4e4ff"/><rect x="418.55" y="551.40" width="4.47" height="29.58" fill="#e4e4ff"/><rect x="423.01" y="551.40" width="4.47" height="29.58" fill="#e4e4ff"/><rect x="427.48" y="551.40" width="4.47" height="29.58" fill="#e4e4ff"/><rect x="431.95" y="551.40" width="4.47" height="29.58" fill="#acacff"/><rect x="436.42" y="551.40" width="4.47" height="29.58" fill="#e4e4ff"/><rect x="440.88" y="551.40" width="4.47" height="29.58" fill="#c7c7ff"/><rect x="445.35" y="551.40" width="4.47" height="29.58" fill="#c7c7ff"/><rect x="449.82" y="551.40" width="4.47" height="29.58" fill="#c7c7ff"/><rect x="454.29" y="551.40" width="4.47" height="29.58" fill="#acacff"/><rect x="458.75" y="551.40" width="4.47" height="29.58" fill="#e4e4ff"/><rect x="463.22" y="551.40" width="4.47" height="29.58" fill="#e4e4ff"/><rect x="467.69" y="551.40" width="4.47" height="29.58" fill="#e4e4ff"/><rect x="472.16" y="551.40" width="4.47" height="29.58" fill="#ffffff"/><rect x="476.62" y="551.40" width="4.47" height="29.58" fill="#ffcaca"/><rect x="481.09" y="551.40" width="4.47" height="29.58" fill="#ffe5e5"/><rect x="485.56" y="551.40" width="4.47" height="29.58" fill="#ffaaaa"/><rect x="490.02" y="551.40" width="4.47" height="29.58" fill="#ffe5e5"/><rect x="494.49" y="551.40" width="4.47" height="29.58" fill="#ffe5e5"/><rect x="498.96" y="551.40" width="4.47" height="29.58" fill="#ffcaca"/><rect x="503.43" y="551.40" width="4.47" height="29.58" fill="#c7c7ff"/><rect x="507.89" y="551.40" width="4.47" height="29.58" fill="#ffe5e5"/><rect x="512.36" y="551.40" width="4.47" height="29.58" fill="#ffffff"/><rect x="516.83" y="551.40" width="4.47" height="29.58" fill="#ffe5e5"/><rect x="521.30" y="551.40" width="4.47" height="29.58" fill="#ffaaaa"/><rect x="525.76" y="551.40" width="4.47" height="29.58" fill="#ffcaca"/><rect x="530.23" y="551.40" width="4.47" height="29.58" fill="#ffe5e5"/><rect x="534.70" y="551.40" width="4.47" height="29.58" fill="#ffaaaa"/><rect x="539.16" y="551.40" width="4.47" height="29.58" fill="#ffaaaa"/><rect x="543.63" y="551.40" width="4.47" height="29.58" fill="#ffe5e5"/><rect x="548.10" y="551.40" width="4.47" height="29.58" fill="#ffe5e5"/><rect x="552.57" y="551.40" width="4.47" height="29.58" fill="#ffe5e5"/><rect x="557.03" y="551.40" width="4.47" height="29.58" fill="#ffcaca"/><rect x="561.50" y="551.40" width="4.47" height="29.58" fill="#ffe5e5"/><rect x="565.97" y="551.40" width="4.47" height="29.58" fill="#ffcaca"/><rect x="570.44" y="551.40" width="4.47" height="29.58" fill="#ffcaca"/><rect x="83.50" y="580.98" width="4.47" height="29.58" fill="#ffffff"/><rect x="87.97" y="580.98" width="4.47" height="29.58" fill="#c7c7ff"/><rect x="92.43" y="580.98" width="4.47" height="29.58" fill="#9292ff"/><rect x="96.90" y="580.98" width="4.47" height="29.58" fill="#7a7aff"/><rect x="101.37" y="580.98" width="4.47" height="29.58" fill="#c7c7ff"/><rect x="105.84" y="580.98" width="4.47" height="29.58" fill="#acacff"/><rect x="110.30" y="580.98" width="4.47" height="29.58" fill="#acacff"/><rect x="114.77" y="580.98" width="4.47" height="29.58" fill="#c7c7ff"/><rect x="119.24" y="580.98" width="4.47" height="29.58" fill="#c7c7ff"/><rect x="123.71" y="580.98" width="4.47" height="29.58" fill="#c7c7ff"/><rect x="128.17" y="580.98" width="4.47" height="29.58" fill="#c7c7ff"/><rect x="132.64" y="580.98" width="4.47" height="29.58" fill="#c7c7ff"/><rect x="137.11" y="580.98" width="4.47" height="29.58" fill="#e4e4ff"/><rect x="141.57" y="580.98" width="4.47" height="29.58" fill="#c7c7ff"/><rect x="146.04" y="580.98" width="4.47" height="29.58" fill="#e4e4ff"/><rect x="150.51" y="580.98" width="4.47" height="29.58" fill="#c7c7ff"/><rect x="154.98" y="580.98" width="4.47" height="29.58" fill="#c7c7ff"/><rect x="159.44" y="580.98" width="4.47" height="29.58" fill="#acacff"/><rect x="163.91" y="580.98" width="4.47" height="29.58" fill="#c7c7ff"/><rect x="168.38" y="580.98" width="4.47" height="29.58" fill="#c7c7ff"/><rect x="172.85" y="580.98" width="4.47" height="29.58" fill="#c7c7ff"/><rect x="177.31" y="580.98" width="4.47" height="29.58" fill="#c7c7ff"/><rect x="181.78" y="580.98" width="4.47" height="29.58" fill="#e4e4ff"/><rect x="186.25" y="580.98" width="4.47" height="29.58" fill="#e4e4ff"/><rect x="190.72" y="580.98" width="4.47" height="29.58" fill="#e4e4ff"/><rect x="195.18" y="580.98" width="4.47" height="29.58" fill="#acacff"/><rect x="199.65" y="580.98" width="4.47" height="29.58" fill="#c7c7ff"/><rect x="204.12" y="580.98" width="4.47" height="29.58" fill="#c7c7ff"/><rect x="208.58" y="580.98" width="4.47" height="29.58" fill="#e4e4ff"/><rect x="213.05" y="580.98" width="4.47" height="29.58" fill="#9292ff"/><rect x="217.52" y="580.98" width="4.47" height="29.58" fill="#c7c7ff"/><rect x="221.99" y="580.98" width="4.47" height="29.58" fill="#e4e4ff"/><rect x="226.45" y="580.98" width="4.47" height="29.58" fill="#e4e4ff"/><rect x="230.92" y="580.98" width="4.47" height="29.58" fill="#e4e4ff"/><rect x="235.39" y="580.98" width="4.47" height="29.58" fill="#c7c7ff"/><rect x="239.86" y="580.98" width="4.47" height="29.58" fill="#c7c7ff"/><rect x="244.32" y="580.98" width="4.47" height="29.58" fill="#e4e4ff"/><rect x="248.79" y="580.98" width="4.47" height="29.58" fill="#c7c7ff"/><rect x="253.26" y="580.98" width="4.47" height="29.58" fill="#c7c7ff"/><rect x="257.72" y="580.98" width="4.47" height="29.58" fill="#e4e4ff"/><rect x="262.19" y="580.98" width="4.47" height="29.58" fill="#ffaaaa"/><rect x="266.66" y="580.98" width="4.47" height="29.58" fill="#ffaaaa"/><rect x="271.13" y="580.98" width="4.47" height="29.58" fill="#ff8a8a"/><rect x="275.59" y="580.98" width="4.47" height="29.58" fill="#ff8a8a"/><rect x="280.06" y="580.98" width="4.47" height="29.58" fill="#ff8a8a"/><rect x="284.53" y="580.98" width="4.47" height="29.58" fill="#ffaaaa"/><rect x="289.00" y="580.98" width="4.47" height="29.58" fill="#ffcaca"/><rect x="293.46" y="580.98" width="4.47" height="29.58" fill="#ffaaaa"/><rect x="297.93" y="580.98" width="4.47" height="29.58" fill="#ffe5e5"/><rect x="302.40" y="580.98" width="4.47" height="29.58" fill="#ffe5e5"/><rect x="306.87" y="580.98" width="4.47" height="29.58" fill="#ffcaca"/><rect x="311.33" y="580.98" width="4.47" height="29.58" fill="#ffe5e5"/><rect x="315.80" y="580.98" width="4.47" height="29.58" fill="#ffe5e5"/><rect x="320.27" y="580.98" width="4.47" height="29.58" fill="#ffaaaa"/><rect x="324.73" y="580.98" width="4.47" height="29.58" fill="#ffcaca"/><rect x="329.20" y="580.98" width="4.47" height="29.58" fill="#ffaaaa"/><rect x="333.67" y="580.98" width="4.47" height="29.58" fill="#ffcaca"/><rect x="338.14" y="580.98" width="4.47" height="29.58" fill="#ffaaaa"/><rect x="342.60" y="580.98" width="4.47" height="29.58" fill="#ffcaca"/><rect x="347.07" y="580.98" width="4.47" height="29.58" fill="#ffaaaa"/><rect x="351.54" y="580.98" width="4.47" height="29.58" fill="#ffe5e5"/><rect x="356.01" y="580.98" width="4.47" height="29.58" fill="#ffcaca"/><rect x="360.47" y="580.98" width="4.47" height="29.58" fill="#ffaaaa"/><rect x="364.94" y="580.98" width="4.47" height="29.58" fill="#ffcaca"/><rect x="369.41" y="580.98" width="4.47" height="29.58" fill="#ffaaaa"/><rect x="373.87" y="580.98" width="4.47" height="29.58" fill="#ffcaca"/><rect x="378.34" y="580.98" width="4.47" height="29.58" fill="#ffcaca"/><rect x="382.81" y="580.98" width="4.47" height="29.58" fill="#ffcaca"/><rect x="387.28" y="580.98" width="4.47" height="29.58" fill="#ffaaaa"/><rect x="391.74" y="580.98" width="4.47" height="29.58" fill="#ffaaaa"/><rect x="396.21" y="580.98" width="4.47" height="29.58" fill="#ffcaca"/><rect x="400.68" y="580.98" width="4.47" height="29.58" fill="#ffaaaa"/><rect x="405.15" y="580.98" width="4.47" height="29.58" fill="#ffaaaa"/><rect x="409.61" y="580.98" width="4.47" height="29.58" fill="#ffaaaa"/><rect x="414.08" y="580.98" width="4.47" height="29.58" fill="#e4e4ff"/><rect x="418.55" y="580.98" width="4.47" height="29.58" fill="#ffcaca"/><rect x="423.01" y="580.98" width="4.47" height="29.58" fill="#e4e4ff"/><rect x="427.48" y="580.98" width="4.47" height="29.58" fill="#ffffff"/><rect x="431.95" y="580.98" width="4.47" height="29.58" fill="#ffffff"/><rect x="436.42" y="580.98" width="4.47" height="29.58" fill="#ffffff"/><rect x="440.88" y="580.98" width="4.47" height="29.58" fill="#ffffff"/><rect x="445.35" y="580.98" width="4.47" height="29.58" fill="#ffe5e5"/><rect x="449.82" y="580.98" width="4.47" height="29.58" fill="#e4e4ff"/><rect x="454.29" y="580.98" width="4.47" height="29.58" fill="#e4e4ff"/><rect x="458.75" y="580.98" width="4.47" height="29.58" fill="#c7c7ff"/><rect x="463.22" y="580.98" width="4.47" height="29.58" fill="#c7c7ff"/><rect x="467.69" y="580.98" width="4.47" height="29.58" fill="#ffffff"/><rect x="472.16" y="580.98" width="4.47" height="29.58" fill="#e4e4ff"/><rect x="476.62" y="580.98" width="4.47" height="29.58" fill="#e4e4ff"/><rect x="481.09" y="580.98" width="4.47" height="29.58" fill="#ffcaca"/><rect x="485.56" y="580.98" width="4.47" height="29.58" fill="#ffcaca"/><rect x="490.02" y="580.98" width="4.47" height="29.58" fill="#ffffff"/><rect x="494.49" y="580.98" width="4.47" height="29.58" fill="#ffe5e5"/><rect x="498.96" y="580.98" width="4.47" height="29.58" fill="#ffe5e5"/><rect x="503.43" y="580.98" width="4.47" height="29.58" fill="#e4e4ff"/><rect x="507.89" y="580.98" width="4.47" height="29.58" fill="#ffffff"/><rect x="512.36" y="580.98" width="4.47" height="29.58" fill="#e4e4ff"/><rect x="516.83" y="580.98" width="4.47" height="29.58" fill="#ffffff"/><rect x="521.30" y="580.98" width="4.47" height="29.58" fill="#ffffff"/><rect x="525.76" y="580.98" width="4.47" height="29.58" fill="#ffe5e5"/><rect x="530.23" y="580.98" width="4.47" height="29.58" fill="#ffe5e5"/><rect x="534.70" y="580.98" width="4.47" height="29.58" fill="#ffcaca"/><rect x="539.16" y="580.98" width="4.47" height="29.58" fill="#ffaaaa"/><rect x="543.63" y="580.98" width="4.47" height="29.58" fill="#ffcaca"/><rect x="548.10" y="580.98" width="4.47" height="29.58" fill="#ffe5e5"/><rect x="552.57" y="580.98" width="4.47" height="29.58" fill="#ffe5e5"/><rect x="557.03" y="580.98" width="4.47" height="29.58" fill="#ffcaca"/><rect x="561.50" y="580.98" width="4.47" height="29.58" fill="#ffcaca"/><rect x="565.97" y="580.98" width="4.47" height="29.58" fill="#ffffff"/><rect x="570.44" y="580.98" width="4.47" height="29.58" fill="#c7c7ff"/><rect x="83.50" y="610.56" width="4.47" height="29.58" fill="#c7c7ff"/><rect x="87.97" y="610.56" width="4.47" height="29.58" fill="#acacff"/><rect x="92.43" y="610.56" width="4.47" height="29.58" fill="#e4e4ff"/><rect x="96.90" y="610.56" width="4.47" height="29.58" fill="#e4e4ff"/><rect x="101.37" y="610.56" width="4.47" height="29.58" fill="#9292ff"/><rect x="105.84" y="610.56" width="4.47" height="29.58" fill="#acacff"/><rect x="110.30" y="610.56" width="4.47" height="29.58" fill="#c7c7ff"/><rect x="114.77" y="610.56" width="4.47" height="29.58" fill="#acacff"/><rect x="119.24" y="610.56" width="4.47" height="29.58" fill="#c7c7ff"/><rect x="123.71" y="610.56" width="4.47" height="29.58" fill="#c7c7ff"/><rect x="128.17" y="610.56" width="4.47" height="29.58" fill="#c7c7ff"/><rect x="132.64" y="610.56" width="4.47" height="29.58" fill="#acacff"/><rect x="137.11" y="610.56" width="4.47" height="29.58" fill="#e4e4ff"/><rect x="141.57" y="610.56" width="4.47" height="29.58" fill="#c7c7ff"/><rect x="146.04" y="610.56" width="4.47" height="29.58" fill="#e4e4ff"/><rect x="150.51" y="610.56" width="4.47" height="29.58" fill="#e4e4ff"/><rect x="154.98" y="610.56" width="4.47" height="29.58" fill="#c7c7ff"/><rect x="159.44" y="610.56" width="4.47" height="29.58" fill="#e4e4ff"/><rect x="163.91" y="610.56" width="4.47" height="29.58" fill="#acacff"/><rect x="168.38" y="610.56" width="4.47" height="29.58" fill="#c7c7ff"/><rect x="172.85" y="610.56" width="4.47" height="29.58" fill="#c7c7ff"/><rect x="177.31" y="610.56" width="4.47" height="29.58" fill="#e4e4ff"/><rect x="181.78" y="610.56" width="4.47" height="29.58" fill="#acacff"/><rect x="186.25" y="610.56" width="4.47" height="29.58" fill="#acacff"/><rect x="190.72" y="610.56" width="4.47" height="29.58" fill="#e4e4ff"/><rect x="195.18" y="610.56" width="4.47" height="29.58" fill="#c7c7ff"/><rect x="199.65" y="610.56" width="4.47" height="29.58" fill="#e4e4ff"/><rect x="204.12" y="610.56" width="4.47" height="29.58" fill="#c7c7ff"/><rect x="208.58" y="610.56" width="4.47" height="29.58" fill="#c7c7ff"/><rect x="213.05" y="610.56" width="4.47" height="29.58" fill="#c7c7ff"/><rect x="217.52" y="610.56" width="4.47" height="29.58" fill="#9292ff"/><rect x="221.99" y="610.56" width="4.47" height="29.58" fill="#e4e4ff"/><rect x="226.45" y="610.56" width="4.47" height="29.58" fill="#e4e4ff"/><rect x="230.92" y="610.56" width="4.47" height="29.58" fill="#e4e4ff"/><rect x="235.39" y="610.56" width="4.47" height="29.58" fill="#c7c7ff"/><rect x="239.86" y="610.56" width="4.47" height="29.58" fill="#e4e4ff"/><rect x="244.32" y="610.56" width="4.47" height="29.58" fill="#e4e4ff"/><rect x="248.79" y="610.56" width="4.47" height="29.58" fill="#ffe5e5"/><rect x="253.26" y="610.56" width="4.47" height="29.58" fill="#e4e4ff"/><rect x="257.72" y="610.56" width="4.47" height="29.58" fill="#e4e4ff"/><rect x="262.19" y="610.56" width="4.47" height="29.58" fill="#ff8a8a"/><rect x="266.66" y="610.56" width="4.47" height="29.58" fill="#ffe5e5"/><rect x="271.13" y="610.56" width="4.47" height="29.58" fill="#ff8a8a"/><rect x="275.59" y="610.56" width="4.47" height="29.58" fill="#ff6d6d"/><rect x="280.06" y="610.56" width="4.47" height="29.58" fill="#ffaaaa"/><rect x="284.53" y="610.56" width="4.47" height="29.58" fill="#ff6d6d"/><rect x="289.00" y="610.56" width="4.47" height="29.58" fill="#ffcaca"/><rect x="293.46" y="610.56" width="4.47" height="29.58" fill="#ffcaca"/><rect x="297.93" y="610.56" width="4.47" height="29.58" fill="#ffcaca"/><rect x="302.40" y="610.56" width="4.47" height="29.58" fill="#ffffff"/><rect x="306.87" y="610.56" width="4.47" height="29.58" fill="#ffe5e5"/><rect x="311.33" y="610.56" width="4.47" height="29.58" fill="#ffcaca"/><rect x="315.80" y="610.56" width="4.47" height="29.58" fill="#ffffff"/><rect x="320.27" y="610.56" width="4.47" height="29.58" fill="#ffe5e5"/><rect x="324.73" y="610.56" width="4.47" height="29.58" fill="#ffffff"/><rect x="329.20" y="610.56" width="4.47" height="29.58" fill="#ffffff"/><rect x="333.67" y="610.56" width="4.47" height="29.58" fill="#ffffff"/><rect x="338.14" y="610.56" width="4.47" height="29.58" fill="#ffffff"/><rect x="342.60" y="610.56" width="4.47" height="29.58" fill="#c7c7ff"/><rect x="347.07" y="610.56" width="4.47" height="29.58" fill="#ffcaca"/><rect x="351.54" y="610.56" width="4.47" height="29.58" fill="#ffe5e5"/><rect x="356.01" y="610.56" width="4.47" height="29.58" fill="#ffe5e5"/><rect x="360.47" y="610.56" width="4.47" height="29.58" fill="#ff8a8a"/><rect x="364.94" y="610.56" width="4.47" height="29.58" fill="#ffcaca"/><rect x="369.41" y="610.56" width="4.47" height="29.58" fill="#ffe5e5"/><rect x="373.87" y="610.56" width="4.47" height="29.58" fill="#ffcaca"/><rect x="378.34" y="610.56" width="4.47" height="29.58" fill="#ffaaaa"/><rect x="382.81" y="610.56" width="4.47" height="29.58" fill="#ffaaaa"/><rect x="387.28" y="610.56" width="4.47" height="29.58" fill="#ffaaaa"/><rect x="391.74" y="610.56" width="4.47" height="29.58" fill="#ffaaaa"/><rect x="396.21" y="610.56" width="4.47" height="29.58" fill="#ff6d6d"/><rect x="400.68" y="610.56" width="4.47" height="29.58" fill="#ffcaca"/><rect x="405.15" y="610.56" width="4.47" height="29.58" fill="#ffaaaa"/><rect x="409.61" y="610.56" width="4.47" height="29.58" fill="#ffffff"/><rect x="414.08" y="610.56" width="4.47" height="29.58" fill="#e4e4ff"/><rect x="418.55" y="610.56" width="4.47" height="29.58" fill="#c7c7ff"/><rect x="423.01" y="610.56" width="4.47" height="29.58" fill="#ffffff"/><rect x="427.48" y="610.56" width="4.47" height="29.58" fill="#c7c7ff"/><rect x="431.95" y="610.56" width="4.47" height="29.58" fill="#acacff"/><rect x="436.42" y="610.56" width="4.47" height="29.58" fill="#e4e4ff"/><rect x="440.88" y="610.56" width="4.47" height="29.58" fill="#e4e4ff"/><rect x="445.35" y="610.56" width="4.47" height="29.58" fill="#ffe5e5"/><rect x="449.82" y="610.56" width="4.47" height="29.58" fill="#e4e4ff"/><rect x="454.29" y="610.56" width="4.47" height="29.58" fill="#ffffff"/><rect x="458.75" y="610.56" width="4.47" height="29.58" fill="#e4e4ff"/><rect x="463.22" y="610.56" width="4.47" height="29.58" fill="#e4e4ff"/><rect x="467.69" y="610.56" width="4.47" height="29.58" fill="#e4e4ff"/><rect x="472.16" y="610.56" width="4.47" height="29.58" fill="#ffffff"/><rect x="476.62" y="610.56" width="4.47" height="29.58" fill="#ffcaca"/><rect x="481.09" y="610.56" width="4.47" height="29.58" fill="#e4e4ff"/><rect x="485.56" y="610.56" width="4.47" height="29.58" fill="#ffaaaa"/><rect x="490.02" y="610.56" width="4.47" height="29.58" fill="#ffe5e5"/><rect x="494.49" y="610.56" width="4.47" height="29.58" fill="#ffe5e5"/><rect x="498.96" y="610.56" width="4.47" height="29.58" fill="#ffe5e5"/><rect x="503.43" y="610.56" width="4.47" height="29.58" fill="#e4e4ff"/><rect x="507.89" y="610.56" width="4.47" height="29.58" fill="#e4e4ff"/><rect x="512.36" y="610.56" width="4.47" height="29.58" fill="#e4e4ff"/><rect x="516.83" y="610.56" width="4.47" height="29.58" fill="#c7c7ff"/><rect x="521.30" y="610.56" width="4.47" height="29.58" fill="#ff6d6d"/><rect x="525.76" y="610.56" width="4.47" height="29.58" fill="#ffcaca"/><rect x="530.23" y="610.56" width="4.47" height="29.58" fill="#ffcaca"/><rect x="534.70" y="610.56" width="4.47" height="29.58" fill="#ffcaca"/><rect x="539.16" y="610.56" width="4.47" height="29.58" fill="#ffaaaa"/><rect x="543.63" y="610.56" width="4.47" height="29.58" fill="#ffcaca"/><rect x="548.10" y="610.56" width="4.47" height="29.58" fill="#ffcaca"/><rect x="552.57" y="610.56" width="4.47" height="29.58" fill="#ffe5e5"/><rect x="557.03" y="610.56" width="4.47" height="29.58" fill="#ffcaca"/><rect x="561.50" y="610.56" width="4.47" height="29.58" fill="#ffaaaa"/><rect x="565.97" y="610.56" width="4.47" height="29.58" fill="#ffcaca"/><rect x="570.44" y="610.56" width="4.47" height="29.58" fill="#ffaaaa"/><rect x="83.50" y="640.14" width="4.47" height="29.58" fill="#0101ff"/><rect x="87.97" y="640.14" width="4.47" height="29.58" fill="#0101ff"/><rect x="92.43" y="640.14" width="4.47" height="29.58" fill="#e4e4ff"/><rect x="96.90" y="640.14" width="4.47" height="29.58" fill="#c7c7ff"/><rect x="101.37" y="640.14" width="4.47" height="29.58" fill="#c7c7ff"/><rect x="105.84" y="640.14" width="4.47" height="29.58" fill="#c7c7ff"/><rect x="110.30" y="640.14" width="4.47" height="29.58" fill="#e4e4ff"/><rect x="114.77" y="640.14" width="4.47" height="29.58" fill="#e4e4ff"/><rect x="119.24" y="640.14" width="4.47" height="29.58" fill="#c7c7ff"/><rect x="123.71" y="640.14" width="4.47" height="29.58" fill="#c7c7ff"/><rect x="128.17" y="640.14" width="4.47" height="29.58" fill="#c7c7ff"/><rect x="132.64" y="640.14" width="4.47" height="29.58" fill="#c7c7ff"/><rect x="137.11" y="640.14" width="4.47" height="29.58" fill="#ffffff"/><rect x="141.57" y="640.14" width="4.47" height="29.58" fill="#ffe5e5"/><rect x="146.04" y="640.14" width="4.47" height="29.58" fill="#ffffff"/><rect x="150.51" y="640.14" width="4.47" height="29.58" fill="#e4e4ff"/><rect x="154.98" y="640.14" width="4.47" height="29.58" fill="#e4e4ff"/><rect x="159.44" y="640.14" width="4.47" height="29.58" fill="#e4e4ff"/><rect x="163.91" y="640.14" width="4.47" height="29.58" fill="#e4e4ff"/><rect x="168.38" y="640.14" width="4.47" height="29.58" fill="#c7c7ff"/><rect x="172.85" y="640.14" width="4.47" height="29.58" fill="#e4e4ff"/><rect x="177.31" y="640.14" width="4.47" height="29.58" fill="#c7c7ff"/><rect x="181.78" y="640.14" width="4.47" height="29.58" fill="#c7c7ff"/><rect x="186.25" y="640.14" width="4.47" height="29.58" fill="#c7c7ff"/><rect x="190.72" y="640.14" width="4.47" height="29.58" fill="#ffffff"/><rect x="195.18" y="640.14" width="4.47" height="29.58" fill="#ffffff"/><rect x="199.65" y="640.14" width="4.47" height="29.58" fill="#ffffff"/><rect x="204.12" y="640.14" width="4.47" height="29.58" fill="#e4e4ff"/><rect x="208.58" y="640.14" width="4.47" height="29.58" fill="#e4e4ff"/><rect x="213.05" y="640.14" width="4.47" height="29.58" fill="#c7c7ff"/><rect x="217.52" y="640.14" width="4.47" height="29.58" fill="#c7c7ff"/><rect x="221.99" y="640.14" width="4.47" height="29.58" fill="#acacff"/><rect x="226.45" y="640.14" width="4.47" height="29.58" fill="#c7c7ff"/><rect x="230.92" y="640.14" width="4.47" height="29.58" fill="#c7c7ff"/><rect x="235.39" y="640.14" width="4.47" height="29.58" fill="#c7c7ff"/><rect x="239.86" y="640.14" width="4.47" height="29.58" fill="#acacff"/><rect x="244.32" y="640.14" width="4.47" height="29.58" fill="#acacff"/><rect x="248.79" y="640.14" width="4.47" height="29.58" fill="#c7c7ff"/><rect x="253.26" y="640.14" width="4.47" height="29.58" fill="#c7c7ff"/><rect x="257.72" y="640.14" width="4.47" height="29.58" fill="#c7c7ff"/><rect x="262.19" y="640.14" width="4.47" height="29.58" fill="#ffaaaa"/><rect x="266.66" y="640.14" width="4.47" height="29.58" fill="#ffcaca"/><rect x="271.13" y="640.14" width="4.47" height="29.58" fill="#ff5656"/><rect x="275.59" y="640.14" width="4.47" height="29.58" fill="#ffaaaa"/><rect x="280.06" y="640.14" width="4.47" height="29.58" fill="#ffcaca"/><rect x="284.53" y="640.14" width="4.47" height="29.58" fill="#ff8a8a"/><rect x="289.00" y="640.14" width="4.47" height="29.58" fill="#ffaaaa"/><rect x="293.46" y="640.14" width="4.47" height="29.58" fill="#ffaaaa"/><rect x="297.93" y="640.14" width="4.47" height="29.58" fill="#ffcaca"/><rect x="302.40" y="640.14" width="4.47" height="29.58" fill="#e4e4ff"/><rect x="306.87" y="640.14" width="4.47" height="29.58" fill="#ffcaca"/><rect x="311.33" y="640.14" width="4.47" height="29.58" fill="#ffcaca"/><rect x="315.80" y="640.14" width="4.47" height="29.58" fill="#ffcaca"/><rect x="320.27" y="640.14" width="4.47" height="29.58" fill="#ffcaca"/><rect x="324.73" y="640.14" width="4.47" height="29.58" fill="#ffaaaa"/><rect x="329.20" y="640.14" width="4.47" height="29.58" fill="#ffaaaa"/><rect x="333.67" y="640.14" width="4.47" height="29.58" fill="#ffcaca"/><rect x="338.14" y="640.14" width="4.47" height="29.58" fill="#c7c7ff"/><rect x="342.60" y="640.14" width="4.47" height="29.58" fill="#ffaaaa"/><rect x="347.07" y="640.14" width="4.47" height="29.58" fill="#ffcaca"/><rect x="351.54" y="640.14" width="4.47" height="29.58" fill="#ffcaca"/><rect x="356.01" y="640.14" width="4.47" height="29.58" fill="#ffffff"/><rect x="360.47" y="640.14" width="4.47" height="29.58" fill="#ffcaca"/><rect x="364.94" y="640.14" width="4.47" height="29.58" fill="#ffcaca"/><rect x="369.41" y="640.14" width="4.47" height="29.58" fill="#ffcaca"/><rect x="373.87" y="640.14" width="4.47" height="29.58" fill="#ffcaca"/><rect x="378.34" y="640.14" width="4.47" height="29.58" fill="#ffcaca"/><rect x="382.81" y="640.14" width="4.47" height="29.58" fill="#ffe5e5"/><rect x="387.28" y="640.14" width="4.47" height="29.58" fill="#ffe5e5"/><rect x="391.74" y="640.14" width="4.47" height="29.58" fill="#ffe5e5"/><rect x="396.21" y="640.14" width="4.47" height="29.58" fill="#ffcaca"/><rect x="400.68" y="640.14" width="4.47" height="29.58" fill="#ffcaca"/><rect x="405.15" y="640.14" width="4.47" height="29.58" fill="#c7c7ff"/><rect x="409.61" y="640.14" width="4.47" height="29.58" fill="#ffe5e5"/><rect x="414.08" y="640.14" width="4.47" height="29.58" fill="#ff6d6d"/><rect x="418.55" y="640.14" width="4.47" height="29.58" fill="#ffe5e5"/><rect x="423.01" y="640.14" width="4.47" height="29.58" fill="#ffe5e5"/><rect x="427.48" y="640.14" width="4.47" height="29.58" fill="#ffffff"/><rect x="431.95" y="640.14" width="4.47" height="29.58" fill="#e4e4ff"/><rect x="436.42" y="640.14" width="4.47" height="29.58" fill="#ffffff"/><rect x="440.88" y="640.14" width="4.47" height="29.58" fill="#ffe5e5"/><rect x="445.35" y="640.14" width="4.47" height="29.58" fill="#e4e4ff"/><rect x="449.82" y="640.14" width="4.47" height="29.58" fill="#c7c7ff"/><rect x="454.29" y="640.14" width="4.47" height="29.58" fill="#ffffff"/><rect x="458.75" y="640.14" width="4.47" height="29.58" fill="#e4e4ff"/><rect x="463.22" y="640.14" width="4.47" height="29.58" fill="#ffffff"/><rect x="467.69" y="640.14" width="4.47" height="29.58" fill="#e4e4ff"/><rect x="472.16" y="640.14" width="4.47" height="29.58" fill="#ffffff"/><rect x="476.62" y="640.14" width="4.47" height="29.58" fill="#e4e4ff"/><rect x="481.09" y="640.14" width="4.47" height="29.58" fill="#ffffff"/><rect x="485.56" y="640.14" width="4.47" height="29.58" fill="#ffffff"/><rect x="490.02" y="640.14" width="4.47" height="29.58" fill="#ffe5e5"/><rect x="494.49" y="640.14" width="4.47" height="29.58" fill="#ffffff"/><rect x="498.96" y="640.14" width="4.47" height="29.58" fill="#ffe5e5"/><rect x="503.43" y="640.14" width="4.47" height="29.58" fill="#ffffff"/><rect x="507.89" y="640.14" width="4.47" height="29.58" fill="#e4e4ff"/><rect x="512.36" y="640.14" width="4.47" height="29.58" fill="#e4e4ff"/><rect x="516.83" y="640.14" width="4.47" height="29.58" fill="#ffffff"/><rect x="521.30" y="640.14" width="4.47" height="29.58" fill="#ffaaaa"/><rect x="525.76" y="640.14" width="4.47" height="29.58" fill="#ffcaca"/><rect x="530.23" y="640.14" width="4.47" height="29.58" fill="#ffe5e5"/><rect x="534.70" y="640.14" width="4.47" height="29.58" fill="#ffcaca"/><rect x="539.16" y="640.14" width="4.47" height="29.58" fill="#ffaaaa"/><rect x="543.63" y="640.14" width="4.47" height="29.58" fill="#ffcaca"/><rect x="548.10" y="640.14" width="4.47" height="29.58" fill="#ffcaca"/><rect x="552.57" y="640.14" width="4.47" height="29.58" fill="#ffe5e5"/><rect x="557.03" y="640.14" width="4.47" height="29.58" fill="#ffcaca"/><rect x="561.50" y="640.14" width="4.47" height="29.58" fill="#ffffff"/><rect x="565.97" y="640.14" width="4.47" height="29.58" fill="#ffe5e5"/><rect x="570.44" y="640.14" width="4.47" height="29.58" fill="#ffcaca"/><rect x="83.50" y="669.72" width="4.47" height="29.58" fill="#e4e4ff"/><rect x="87.97" y="669.72" width="4.47" height="29.58" fill="#e4e4ff"/><rect x="92.43" y="669.72" width="4.47" height="29.58" fill="#c7c7ff"/><rect x="96.90" y="669.72" width="4.47" height="29.58" fill="#acacff"/><rect x="101.37" y="669.72" width="4.47" height="29.58" fill="#e4e4ff"/><rect x="105.84" y="669.72" width="4.47" height="29.58" fill="#c7c7ff"/><rect x="110.30" y="669.72" width="4.47" height="29.58" fill="#e4e4ff"/><rect x="114.77" y="669.72" width="4.47" height="29.58" fill="#e4e4ff"/><rect x="119.24" y="669.72" width="4.47" height="29.58" fill="#c7c7ff"/><rect x="123.71" y="669.72" width="4.47" height="29.58" fill="#ffffff"/><rect x="128.17" y="669.72" width="4.47" height="29.58" fill="#e4e4ff"/><rect x="132.64" y="669.72" width="4.47" height="29.58" fill="#ffaaaa"/><rect x="137.11" y="669.72" width="4.47" height="29.58" fill="#acacff"/><rect x="141.57" y="669.72" width="4.47" height="29.58" fill="#c7c7ff"/><rect x="146.04" y="669.72" width="4.47" height="29.58" fill="#acacff"/><rect x="150.51" y="669.72" width="4.47" height="29.58" fill="#e4e4ff"/><rect x="154.98" y="669.72" width="4.47" height="29.58" fill="#c7c7ff"/><rect x="159.44" y="669.72" width="4.47" height="29.58" fill="#c7c7ff"/><rect x="163.91" y="669.72" width="4.47" height="29.58" fill="#ffffff"/><rect x="168.38" y="669.72" width="4.47" height="29.58" fill="#ffffff"/><rect x="172.85" y="669.72" width="4.47" height="29.58" fill="#c7c7ff"/><rect x="177.31" y="669.72" width="4.47" height="29.58" fill="#e4e4ff"/><rect x="181.78" y="669.72" width="4.47" height="29.58" fill="#c7c7ff"/><rect x="186.25" y="669.72" width="4.47" height="29.58" fill="#e4e4ff"/><rect x="190.72" y="669.72" width="4.47" height="29.58" fill="#e4e4ff"/><rect x="195.18" y="669.72" width="4.47" height="29.58" fill="#ffe5e5"/><rect x="199.65" y="669.72" width="4.47" height="29.58" fill="#c7c7ff"/><rect x="204.12" y="669.72" width="4.47" height="29.58" fill="#e4e4ff"/><rect x="208.58" y="669.72" width="4.47" height="29.58" fill="#e4e4ff"/><rect x="213.05" y="669.72" width="4.47" height="29.58" fill="#c7c7ff"/><rect x="217.52" y="669.72" width="4.47" height="29.58" fill="#c7c7ff"/><rect x="221.99" y="669.72" width="4.47" height="29.58" fill="#e4e4ff"/><rect x="226.45" y="669.72" width="4.47" height="29.58" fill="#e4e4ff"/><rect x="230.92" y="669.72" width="4.47" height="29.58" fill="#e4e4ff"/><rect x="235.39" y="669.72" width="4.47" height="29.58" fill="#e4e4ff"/><rect x="239.86" y="669.72" width="4.47" height="29.58" fill="#e4e4ff"/><rect x="244.32" y="669.72" width="4.47" height="29.58" fill="#e4e4ff"/><rect x="248.79" y="669.72" width="4.47" height="29.58" fill="#c7c7ff"/><rect x="253.26" y="669.72" width="4.47" height="29.58" fill="#e4e4ff"/><rect x="257.72" y="669.72" width="4.47" height="29.58" fill="#e4e4ff"/><rect x="262.19" y="669.72" width="4.47" height="29.58" fill="#ff6d6d"/><rect x="266.66" y="669.72" width="4.47" height="29.58" fill="#ff6d6d"/><rect x="271.13" y="669.72" width="4.47" height="29.58" fill="#ffcaca"/><rect x="275.59" y="669.72" width="4.47" height="29.58" fill="#ffaaaa"/><rect x="280.06" y="669.72" width="4.47" height="29.58" fill="#ffaaaa"/><rect x="284.53" y="669.72" width="4.47" height="29.58" fill="#ff8a8a"/><rect x="289.00" y="669.72" width="4.47" height="29.58" fill="#ff8a8a"/><rect x="293.46" y="669.72" width="4.47" height="29.58" fill="#ff8a8a"/><rect x="297.93" y="669.72" width="4.47" height="29.58" fill="#ffcaca"/><rect x="302.40" y="669.72" width="4.47" height="29.58" fill="#ffaaaa"/><rect x="306.87" y="669.72" width="4.47" height="29.58" fill="#ffaaaa"/><rect x="311.33" y="669.72" width="4.47" height="29.58" fill="#ff8a8a"/><rect x="315.80" y="669.72" width="4.47" height="29.58" fill="#ffcaca"/><rect x="320.27" y="669.72" width="4.47" height="29.58" fill="#ffaaaa"/><rect x="324.73" y="669.72" width="4.47" height="29.58" fill="#ff8a8a"/><rect x="329.20" y="669.72" width="4.47" height="29.58" fill="#ff3939"/><rect x="333.67" y="669.72" width="4.47" height="29.58" fill="#ffcaca"/><rect x="338.14" y="669.72" width="4.47" height="29.58" fill="#ffffff"/><rect x="342.60" y="669.72" width="4.47" height="29.58" fill="#ffe5e5"/><rect x="347.07" y="669.72" width="4.47" height="29.58" fill="#ffffff"/><rect x="351.54" y="669.72" width="4.47" height="29.58" fill="#ffffff"/><rect x="356.01" y="669.72" width="4.47" height="29.58" fill="#ffcaca"/><rect x="360.47" y="669.72" width="4.47" height="29.58" fill="#ffcaca"/><rect x="364.94" y="669.72" width="4.47" height="29.58" fill="#ffcaca"/><rect x="369.41" y="669.72" width="4.47" height="29.58" fill="#ffcaca"/><rect x="373.87" y="669.72" width="4.47" height="29.58" fill="#ffcaca"/><rect x="378.34" y="669.72" width="4.47" height="29.58" fill="#ffe5e5"/><rect x="382.81" y="669.72" width="4.47" height="29.58" fill="#ffaaaa"/><rect x="387.28" y="669.72" width="4.47" height="29.58" fill="#ffaaaa"/><rect x="391.74" y="669.72" width="4.47" height="29.58" fill="#ffcaca"/><rect x="396.21" y="669.72" width="4.47" height="29.58" fill="#ffe5e5"/><rect x="400.68" y="669.72" width="4.47" height="29.58" fill="#ffcaca"/><rect x="405.15" y="669.72" width="4.47" height="29.58" fill="#ffffff"/><rect x="409.61" y="669.72" width="4.47" height="29.58" fill="#c7c7ff"/><rect x="414.08" y="669.72" width="4.47" height="29.58" fill="#ffffff"/><rect x="418.55" y="669.72" width="4.47" height="29.58" fill="#e4e4ff"/><rect x="423.01" y="669.72" width="4.47" height="29.58" fill="#c7c7ff"/><rect x="427.48" y="669.72" width="4.47" height="29.58" fill="#ff8a8a"/><rect x="431.95" y="669.72" width="4.47" height="29.58" fill="#ffcaca"/><rect x="436.42" y="669.72" width="4.47" height="29.58" fill="#ffaaaa"/><rect x="440.88" y="669.72" width="4.47" height="29.58" fill="#ffffff"/><rect x="445.35" y="669.72" width="4.47" height="29.58" fill="#e4e4ff"/><rect x="449.82" y="669.72" width="4.47" height="29.58" fill="#acacff"/><rect x="454.29" y="669.72" width="4.47" height="29.58" fill="#ffffff"/><rect x="458.75" y="669.72" width="4.47" height="29.58" fill="#ffffff"/><rect x="463.22" y="669.72" width="4.47" height="29.58" fill="#ffffff"/><rect x="467.69" y="669.72" width="4.47" height="29.58" fill="#e4e4ff"/><rect x="472.16" y="669.72" width="4.47" height="29.58" fill="#e4e4ff"/><rect x="476.62" y="669.72" width="4.47" height="29.58" fill="#e4e4ff"/><rect x="481.09" y="669.72" width="4.47" height="29.58" fill="#e4e4ff"/><rect x="485.56" y="669.72" width="4.47" height="29.58" fill="#acacff"/><rect x="490.02" y="669.72" width="4.47" height="29.58" fill="#ffffff"/><rect x="494.49" y="669.72" width="4.47" height="29.58" fill="#ffe5e5"/><rect x="498.96" y="669.72" width="4.47" height="29.58" fill="#ffffff"/><rect x="503.43" y="669.72" width="4.47" height="29.58" fill="#ffffff"/><rect x="507.89" y="669.72" width="4.47" height="29.58" fill="#ffe5e5"/><rect x="512.36" y="669.72" width="4.47" height="29.58" fill="#e4e4ff"/><rect x="516.83" y="669.72" width="4.47" height="29.58" fill="#e4e4ff"/><rect x="521.30" y="669.72" width="4.47" height="29.58" fill="#ffffff"/><rect x="525.76" y="669.72" width="4.47" height="29.58" fill="#ffffff"/><rect x="530.23" y="669.72" width="4.47" height="29.58" fill="#ffe5e5"/><rect x="534.70" y="669.72" width="4.47" height="29.58" fill="#e4e4ff"/><rect x="539.16" y="669.72" width="4.47" height="29.58" fill="#ffffff"/><rect x="543.63" y="669.72" width="4.47" height="29.58" fill="#c7c7ff"/><rect x="548.10" y="669.72" width="4.47" height="29.58" fill="#c7c7ff"/><rect x="552.57" y="669.72" width="4.47" height="29.58" fill="#ffffff"/><rect x="557.03" y="669.72" width="4.47" height="29.58" fill="#c7c7ff"/><rect x="561.50" y="669.72" width="4.47" height="29.58" fill="#e4e4ff"/><rect x="565.97" y="669.72" width="4.47" height="29.58" fill="#e4e4ff"/><rect x="570.44" y="669.72" width="4.47" height="29.58" fill="#ffcaca"/><rect x="83.50" y="699.30" width="4.47" height="29.58" fill="#e4e4ff"/><rect x="87.97" y="699.30" width="4.47" height="29.58" fill="#c7c7ff"/><rect x="92.43" y="699.30" width="4.47" height="29.58" fill="#acacff"/><rect x="96.90" y="699.30" width="4.47" height="29.58" fill="#9292ff"/><rect x="101.37" y="699.30" width="4.47" height="29.58" fill="#c7c7ff"/><rect x="105.84" y="699.30" width="4.47" height="29.58" fill="#acacff"/><rect x="110.30" y="699.30" width="4.47" height="29.58" fill="#acacff"/><rect x="114.77" y="699.30" width="4.47" height="29.58" fill="#c7c7ff"/><rect x="119.24" y="699.30" width="4.47" height="29.58" fill="#c7c7ff"/><rect x="123.71" y="699.30" width="4.47" height="29.58" fill="#acacff"/><rect x="128.17" y="699.30" width="4.47" height="29.58" fill="#acacff"/><rect x="132.64" y="699.30" width="4.47" height="29.58" fill="#c7c7ff"/><rect x="137.11" y="699.30" width="4.47" height="29.58" fill="#acacff"/><rect x="141.57" y="699.30" width="4.47" height="29.58" fill="#acacff"/><rect x="146.04" y="699.30" width="4.47" height="29.58" fill="#acacff"/><rect x="150.51" y="699.30" width="4.47" height="29.58" fill="#acacff"/><rect x="154.98" y="699.30" width="4.47" height="29.58" fill="#e4e4ff"/><rect x="159.44" y="699.30" width="4.47" height="29.58" fill="#acacff"/><rect x="163.91" y="699.30" width="4.47" height="29.58" fill="#c7c7ff"/><rect x="168.38" y="699.30" width="4.47" height="29.58" fill="#c7c7ff"/><rect x="172.85" y="699.30" width="4.47" height="29.58" fill="#c7c7ff"/><rect x="177.31" y="699.30" width="4.47" height="29.58" fill="#acacff"/><rect x="181.78" y="699.30" width="4.47" height="29.58" fill="#c7c7ff"/><rect x="186.25" y="699.30" width="4.47" height="29.58" fill="#c7c7ff"/><rect x="190.72" y="699.30" width="4.47" height="29.58" fill="#e4e4ff"/><rect x="195.18" y="699.30" width="4.47" height="29.58" fill="#c7c7ff"/><rect x="199.65" y="699.30" width="4.47" height="29.58" fill="#e4e4ff"/><rect x="204.12" y="699.30" width="4.47" height="29.58" fill="#ffffff"/><rect x="208.58" y="699.30" width="4.47" height="29.58" fill="#e4e4ff"/><rect x="213.05" y="699.30" width="4.47" height="29.58" fill="#acacff"/><rect x="217.52" y="699.30" width="4.47" height="29.58" fill="#c7c7ff"/><rect x="221.99" y="699.30" width="4.47" height="29.58" fill="#c7c7ff"/><rect x="226.45" y="699.30" width="4.47" height="29.58" fill="#e4e4ff"/><rect x="230.92" y="699.30" width="4.47" height="29.58" fill="#c7c7ff"/><rect x="235.39" y="699.30" width="4.47" height="29.58" fill="#acacff"/><rect x="239.86" y="699.30" width="4.47" height="29.58" fill="#c7c7ff"/><rect x="244.32" y="699.30" width="4.47" height="29.58" fill="#acacff"/><rect x="248.79" y="699.30" width="4.47" height="29.58" fill="#c7c7ff"/><rect x="253.26" y="699.30" width="4.47" height="29.58" fill="#c7c7ff"/><rect x="257.72" y="699.30" width="4.47" height="29.58" fill="#e4e4ff"/><rect x="262.19" y="699.30" width="4.47" height="29.58" fill="#ff5656"/><rect x="266.66" y="699.30" width="4.47" height="29.58" fill="#ff8a8a"/><rect x="271.13" y="699.30" width="4.47" height="29.58" fill="#ff6d6d"/><rect x="275.59" y="699.30" width="4.47" height="29.58" fill="#ffaaaa"/><rect x="280.06" y="699.30" width="4.47" height="29.58" fill="#ff8a8a"/><rect x="284.53" y="699.30" width="4.47" height="29.58" fill="#ffaaaa"/><rect x="289.00" y="699.30" width="4.47" height="29.58" fill="#ffaaaa"/><rect x="293.46" y="699.30" width="4.47" height="29.58" fill="#ffaaaa"/><rect x="297.93" y="699.30" width="4.47" height="29.58" fill="#ffaaaa"/><rect x="302.40" y="699.30" width="4.47" height="29.58" fill="#ffaaaa"/><rect x="306.87" y="699.30" width="4.47" height="29.58" fill="#ffaaaa"/><rect x="311.33" y="699.30" width="4.47" height="29.58" fill="#ffaaaa"/><rect x="315.80" y="699.30" width="4.47" height="29.58" fill="#ffcaca"/><rect x="320.27" y="699.30" width="4.47" height="29.58" fill="#ffaaaa"/><rect x="324.73" y="699.30" width="4.47" height="29.58" fill="#ffaaaa"/><rect x="329.20" y="699.30" width="4.47" height="29.58" fill="#ffaaaa"/><rect x="333.67" y="699.30" width="4.47" height="29.58" fill="#c7c7ff"/><rect x="338.14" y="699.30" width="4.47" height="29.58" fill="#ffffff"/><rect x="342.60" y="699.30" width="4.47" height="29.58" fill="#ffcaca"/><rect x="347.07" y="699.30" width="4.47" height="29.58" fill="#ffe5e5"/><rect x="351.54" y="699.30" width="4.47" height="29.58" fill="#ffe5e5"/><rect x="356.01" y="699.30" width="4.47" height="29.58" fill="#ffcaca"/><rect x="360.47" y="699.30" width="4.47" height="29.58" fill="#ffcaca"/><rect x="364.94" y="699.30" width="4.47" height="29.58" fill="#ffcaca"/><rect x="369.41" y="699.30" width="4.47" height="29.58" fill="#ffaaaa"/><rect x="373.87" y="699.30" width="4.47" height="29.58" fill="#ffcaca"/><rect x="378.34" y="699.30" width="4.47" height="29.58" fill="#ffaaaa"/><rect x="382.81" y="699.30" width="4.47" height="29.58" fill="#ffaaaa"/><rect x="387.28" y="699.30" width="4.47" height="29.58" fill="#ffaaaa"/><rect x="391.74" y="699.30" width="4.47" height="29.58" fill="#ffe5e5"/><rect x="396.21" y="699.30" width="4.47" height="29.58" fill="#ffcaca"/><rect x="400.68" y="699.30" width="4.47" height="29.58" fill="#ffcaca"/><rect x="405.15" y="699.30" width="4.47" height="29.58" fill="#ffcaca"/><rect x="409.61" y="699.30" width="4.47" height="29.58" fill="#ffffff"/><rect x="414.08" y="699.30" width="4.47" height="29.58" fill="#ffaaaa"/><rect x="418.55" y="699.30" width="4.47" height="29.58" fill="#c7c7ff"/><rect x="423.01" y="699.30" width="4.47" height="29.58" fill="#e4e4ff"/><rect x="427.48" y="699.30" width="4.47" height="29.58" fill="#ffe5e5"/><rect x="431.95" y="699.30" width="4.47" height="29.58" fill="#ffe5e5"/><rect x="436.42" y="699.30" width="4.47" height="29.58" fill="#ffffff"/><rect x="440.88" y="699.30" width="4.47" height="29.58" fill="#ffe5e5"/><rect x="445.35" y="699.30" width="4.47" height="29.58" fill="#e4e4ff"/><rect x="449.82" y="699.30" width="4.47" height="29.58" fill="#e4e4ff"/><rect x="454.29" y="699.30" width="4.47" height="29.58" fill="#e4e4ff"/><rect x="458.75" y="699.30" width="4.47" height="29.58" fill="#ffffff"/><rect x="463.22" y="699.30" width="4.47" height="29.58" fill="#e4e4ff"/><rect x="467.69" y="699.30" width="4.47" height="29.58" fill="#ffffff"/><rect x="472.16" y="699.30" width="4.47" height="29.58" fill="#e4e4ff"/><rect x="476.62" y="699.30" width="4.47" height="29.58" fill="#e4e4ff"/><rect x="481.09" y="699.30" width="4.47" height="29.58" fill="#ffffff"/><rect x="485.56" y="699.30" width="4.47" height="29.58" fill="#ffffff"/><rect x="490.02" y="699.30" width="4.47" height="29.58" fill="#ffe5e5"/><rect x="494.49" y="699.30" width="4.47" height="29.58" fill="#ffcaca"/><rect x="498.96" y="699.30" width="4.47" height="29.58" fill="#ffcaca"/><rect x="503.43" y="699.30" width="4.47" height="29.58" fill="#ffe5e5"/><rect x="507.89" y="699.30" width="4.47" height="29.58" fill="#c7c7ff"/><rect x="512.36" y="699.30" width="4.47" height="29.58" fill="#e4e4ff"/><rect x="516.83" y="699.30" width="4.47" height="29.58" fill="#e4e4ff"/><rect x="521.30" y="699.30" width="4.47" height="29.58" fill="#ffcaca"/><rect x="525.76" y="699.30" width="4.47" height="29.58" fill="#ffe5e5"/><rect x="530.23" y="699.30" width="4.47" height="29.58" fill="#ffcaca"/><rect x="534.70" y="699.30" width="4.47" height="29.58" fill="#ffffff"/><rect x="539.16" y="699.30" width="4.47" height="29.58" fill="#e4e4ff"/><rect x="543.63" y="699.30" width="4.47" height="29.58" fill="#e4e4ff"/><rect x="548.10" y="699.30" width="4.47" height="29.58" fill="#ffffff"/><rect x="552.57" y="699.30" width="4.47" height="29.58" fill="#ffffff"/><rect x="557.03" y="699.30" width="4.47" height="29.58" fill="#ffe5e5"/><rect x="561.50" y="699.30" width="4.47" height="29.58" fill="#e4e4ff"/><rect x="565.97" y="699.30" width="4.47" height="29.58" fill="#ffe5e5"/><rect x="570.44" y="699.30" width="4.47" height="29.58" fill="#ffcaca"/><rect x="83.50" y="728.88" width="4.47" height="29.58" fill="#ffffff"/><rect x="87.97" y="728.88" width="4.47" height="29.58" fill="#c7c7ff"/><rect x="92.43" y="728.88" width="4.47" height="29.58" fill="#7a7aff"/><rect x="96.90" y="728.88" width="4.47" height="29.58" fill="#acacff"/><rect x="101.37" y="728.88" width="4.47" height="29.58" fill="#c7c7ff"/><rect x="105.84" y="728.88" width="4.47" height="29.58" fill="#9292ff"/><rect x="110.30" y="728.88" width="4.47" height="29.58" fill="#acacff"/><rect x="114.77" y="728.88" width="4.47" height="29.58" fill="#c7c7ff"/><rect x="119.24" y="728.88" width="4.47" height="29.58" fill="#c7c7ff"/><rect x="123.71" y="728.88" width="4.47" height="29.58" fill="#c7c7ff"/><rect x="128.17" y="728.88" width="4.47" height="29.58" fill="#c7c7ff"/><rect x="132.64" y="728.88" width="4.47" height="29.58" fill="#e4e4ff"/><rect x="137.11" y="728.88" width="4.47" height="29.58" fill="#9292ff"/><rect x="141.57" y="728.88" width="4.47" height="29.58" fill="#c7c7ff"/><rect x="146.04" y="728.88" width="4.47" height="29.58" fill="#c7c7ff"/><rect x="150.51" y="728.88" width="4.47" height="29.58" fill="#e4e4ff"/><rect x="154.98" y="728.88" width="4.47" height="29.58" fill="#acacff"/><rect x="159.44" y="728.88" width="4.47" height="29.58" fill="#c7c7ff"/><rect x="163.91" y="728.88" width="4.47" height="29.58" fill="#acacff"/><rect x="168.38" y="728.88" width="4.47" height="29.58" fill="#c7c7ff"/><rect x="172.85" y="728.88" width="4.47" height="29.58" fill="#e4e4ff"/><rect x="177.31" y="728.88" width="4.47" height="29.58" fill="#acacff"/><rect x="181.78" y="728.88" width="4.47" height="29.58" fill="#c7c7ff"/><rect x="186.25" y="728.88" width="4.47" height="29.58" fill="#acacff"/><rect x="190.72" y="728.88" width="4.47" height="29.58" fill="#e4e4ff"/><rect x="195.18" y="728.88" width="4.47" height="29.58" fill="#c7c7ff"/><rect x="199.65" y="728.88" width="4.47" height="29.58" fill="#e4e4ff"/><rect x="204.12" y="728.88" width="4.47" height="29.58" fill="#e4e4ff"/><rect x="208.58" y="728.88" width="4.47" height="29.58" fill="#ffe5e5"/><rect x="213.05" y="728.88" width="4.47" height="29.58" fill="#c7c7ff"/><rect x="217.52" y="728.88" width="4.47" height="29.58" fill="#c7c7ff"/><rect x="221.99" y="728.88" width="4.47" height="29.58" fill="#e4e4ff"/><rect x="226.45" y="728.88" width="4.47" height="29.58" fill="#e4e4ff"/><rect x="230.92" y="728.88" width="4.47" height="29.58" fill="#e4e4ff"/><rect x="235.39" y="728.88" width="4.47" height="29.58" fill="#e4e4ff"/><rect x="239.86" y="728.88" width="4.47" height="29.58" fill="#acacff"/><rect x="244.32" y="728.88" width="4.47" height="29.58" fill="#c7c7ff"/><rect x="248.79" y="728.88" width="4.47" height="29.58" fill="#c7c7ff"/><rect x="253.26" y="728.88" width="4.47" height="29.58" fill="#c7c7ff"/><rect x="257.72" y="728.88" width="4.47" height="29.58" fill="#c7c7ff"/><rect x="262.19" y="728.88" width="4.47" height="29.58" fill="#ff6d6d"/><rect x="266.66" y="728.88" width="4.47" height="29.58" fill="#ff6d6d"/><rect x="271.13" y="728.88" width="4.47" height="29.58" fill="#ff5656"/><rect x="275.59" y="728.88" width="4.47" height="29.58" fill="#ffcaca"/><rect x="280.06" y="728.88" width="4.47" height="29.58" fill="#ffaaaa"/><rect x="284.53" y="728.88" width="4.47" height="29.58" fill="#ffaaaa"/><rect x="289.00" y="728.88" width="4.47" height="29.58" fill="#ffaaaa"/><rect x="293.46" y="728.88" width="4.47" height="29.58" fill="#ffcaca"/><rect x="297.93" y="728.88" width="4.47" height="29.58" fill="#ffcaca"/><rect x="302.40" y="728.88" width="4.47" height="29.58" fill="#ffcaca"/><rect x="306.87" y="728.88" width="4.47" height="29.58" fill="#ffaaaa"/><rect x="311.33" y="728.88" width="4.47" height="29.58" fill="#ffaaaa"/><rect x="315.80" y="728.88" width="4.47" height="29.58" fill="#ffcaca"/><rect x="320.27" y="728.88" width="4.47" height="29.58" fill="#ffcaca"/><rect x="324.73" y="728.88" width="4.47" height="29.58" fill="#ff8a8a"/><rect x="329.20" y="728.88" width="4.47" height="29.58" fill="#ffaaaa"/><rect x="333.67" y="728.88" width="4.47" height="29.58" fill="#ffaaaa"/><rect x="338.14" y="728.88" width="4.47" height="29.58" fill="#ffffff"/><rect x="342.60" y="728.88" width="4.47" height="29.58" fill="#ffe5e5"/><rect x="347.07" y="728.88" width="4.47" height="29.58" fill="#ffe5e5"/><rect x="351.54" y="728.88" width="4.47" height="29.58" fill="#ffffff"/><rect x="356.01" y="728.88" width="4.47" height="29.58" fill="#ffe5e5"/><rect x="360.47" y="728.88" width="4.47" height="29.58" fill="#ffcaca"/><rect x="364.94" y="728.88" width="4.47" height="29.58" fill="#ffcaca"/><rect x="369.41" y="728.88" width="4.47" height="29.58" fill="#ffcaca"/><rect x="373.87" y="728.88" width="4.47" height="29.58" fill="#ffcaca"/><rect x="378.34" y="728.88" width="4.47" height="29.58" fill="#ffcaca"/><rect x="382.81" y="728.88" width="4.47" height="29.58" fill="#ffcaca"/><rect x="387.28" y="728.88" width="4.47" height="29.58" fill="#ffe5e5"/><rect x="391.74" y="728.88" width="4.47" height="29.58" fill="#ffcaca"/><rect x="396.21" y="728.88" width="4.47" height="29.58" fill="#ffcaca"/><rect x="400.68" y="728.88" width="4.47" height="29.58" fill="#ffcaca"/><rect x="405.15" y="728.88" width="4.47" height="29.58" fill="#ffaaaa"/><rect x="409.61" y="728.88" width="4.47" height="29.58" fill="#ffcaca"/><rect x="414.08" y="728.88" width="4.47" height="29.58" fill="#ffcaca"/><rect x="418.55" y="728.88" width="4.47" height="29.58" fill="#ffe5e5"/><rect x="423.01" y="728.88" width="4.47" height="29.58" fill="#ffffff"/><rect x="427.48" y="728.88" width="4.47" height="29.58" fill="#ffaaaa"/><rect x="431.95" y="728.88" width="4.47" height="29.58" fill="#ffaaaa"/><rect x="436.42" y="728.88" width="4.47" height="29.58" fill="#ffcaca"/><rect x="440.88" y="728.88" width="4.47" height="29.58" fill="#ffaaaa"/><rect x="445.35" y="728.88" width="4.47" height="29.58" fill="#e4e4ff"/><rect x="449.82" y="728.88" width="4.47" height="29.58" fill="#ffffff"/><rect x="454.29" y="728.88" width="4.47" height="29.58" fill="#e4e4ff"/><rect x="458.75" y="728.88" width="4.47" height="29.58" fill="#ffe5e5"/><rect x="463.22" y="728.88" width="4.47" height="29.58" fill="#c7c7ff"/><rect x="467.69" y="728.88" width="4.47" height="29.58" fill="#e4e4ff"/><rect x="472.16" y="728.88" width="4.47" height="29.58" fill="#ffcaca"/><rect x="476.62" y="728.88" width="4.47" height="29.58" fill="#e4e4ff"/><rect x="481.09" y="728.88" width="4.47" height="29.58" fill="#e4e4ff"/><rect x="485.56" y="728.88" width="4.47" height="29.58" fill="#e4e4ff"/><rect x="490.02" y="728.88" width="4.47" height="29.58" fill="#e4e4ff"/><rect x="494.49" y="728.88" width="4.47" height="29.58" fill="#ffffff"/><rect x="498.96" y="728.88" width="4.47" height="29.58" fill="#ffffff"/><rect x="503.43" y="728.88" width="4.47" height="29.58" fill="#e4e4ff"/><rect x="507.89" y="728.88" width="4.47" height="29.58" fill="#e4e4ff"/><rect x="512.36" y="728.88" width="4.47" height="29.58" fill="#e4e4ff"/><rect x="516.83" y="728.88" width="4.47" height="29.58" fill="#ffffff"/><rect x="521.30" y="728.88" width="4.47" height="29.58" fill="#e4e4ff"/><rect x="525.76" y="728.88" width="4.47" height="29.58" fill="#ffe5e5"/><rect x="530.23" y="728.88" width="4.47" height="29.58" fill="#ffcaca"/><rect x="534.70" y="728.88" width="4.47" height="29.58" fill="#e4e4ff"/><rect x="539.16" y="728.88" width="4.47" height="29.58" fill="#ffe5e5"/><rect x="543.63" y="728.88" width="4.47" height="29.58" fill="#c7c7ff"/><rect x="548.10" y="728.88" width="4.47" height="29.58" fill="#e4e4ff"/><rect x="552.57" y="728.88" width="4.47" height="29.58" fill="#ffffff"/><rect x="557.03" y="728.88" width="4.47" height="29.58" fill="#ffe5e5"/><rect x="561.50" y="728.88" width="4.47" height="29.58" fill="#c7c7ff"/><rect x="565.97" y="728.88" width="4.47" height="29.58" fill="#ffcaca"/><rect x="570.44" y="728.88" width="4.47" height="29.58" fill="#ffe5e5"/><rect x="83.50" y="758.46" width="4.47" height="29.58" fill="#e4e4ff"/><rect x="87.97" y="758.46" width="4.47" height="29.58" fill="#e4e4ff"/><rect x="92.43" y="758.46" width="4.47" height="29.58" fill="#c7c7ff"/><rect x="96.90" y="758.46" width="4.47" height="29.58" fill="#acacff"/><rect x="101.37" y="758.46" width="4.47" height="29.58" fill="#c7c7ff"/><rect x="105.84" y="758.46" width="4.47" height="29.58" fill="#e4e4ff"/><rect x="110.30" y="758.46" width="4.47" height="29.58" fill="#c7c7ff"/><rect x="114.77" y="758.46" width="4.47" height="29.58" fill="#ffffff"/><rect x="119.24" y="758.46" width="4.47" height="29.58" fill="#c7c7ff"/><rect x="123.71" y="758.46" width="4.47" height="29.58" fill="#c7c7ff"/><rect x="128.17" y="758.46" width="4.47" height="29.58" fill="#c7c7ff"/><rect x="132.64" y="758.46" width="4.47" height="29.58" fill="#e4e4ff"/><rect x="137.11" y="758.46" width="4.47" height="29.58" fill="#acacff"/><rect x="141.57" y="758.46" width="4.47" height="29.58" fill="#e4e4ff"/><rect x="146.04" y="758.46" width="4.47" height="29.58" fill="#ffffff"/><rect x="150.51" y="758.46" width="4.47" height="29.58" fill="#c7c7ff"/><rect x="154.98" y="758.46" width="4.47" height="29.58" fill="#c7c7ff"/><rect x="159.44" y="758.46" width="4.47" height="29.58" fill="#c7c7ff"/><rect x="163.91" y="758.46" width="4.47" height="29.58" fill="#c7c7ff"/><rect x="168.38" y="758.46" width="4.47" height="29.58" fill="#acacff"/><rect x="172.85" y="758.46" width="4.47" height="29.58" fill="#e4e4ff"/><rect x="177.31" y="758.46" width="4.47" height="29.58" fill="#c7c7ff"/><rect x="181.78" y="758.46" width="4.47" height="29.58" fill="#e4e4ff"/><rect x="186.25" y="758.46" width="4.47" height="29.58" fill="#e4e4ff"/><rect x="190.72" y="758.46" width="4.47" height="29.58" fill="#ffffff"/><rect x="195.18" y="758.46" width="4.47" height="29.58" fill="#e4e4ff"/><rect x="199.65" y="758.46" width="4.47" height="29.58" fill="#e4e4ff"/><rect x="204.12" y="758.46" width="4.47" height="29.58" fill="#c7c7ff"/><rect x="208.58" y="758.46" width="4.47" height="29.58" fill="#9292ff"/><rect x="213.05" y="758.46" width="4.47" height="29.58" fill="#c7c7ff"/><rect x="217.52" y="758.46" width="4.47" height="29.58" fill="#c7c7ff"/><rect x="221.99" y="758.46" width="4.47" height="29.58" fill="#e4e4ff"/><rect x="226.45" y="758.46" width="4.47" height="29.58" fill="#c7c7ff"/><rect x="230.92" y="758.46" width="4.47" height="29.58" fill="#c7c7ff"/><rect x="235.39" y="758.46" width="4.47" height="29.58" fill="#e4e4ff"/><rect x="239.86" y="758.46" width="4.47" height="29.58" fill="#c7c7ff"/><rect x="244.32" y="758.46" width="4.47" height="29.58" fill="#c7c7ff"/><rect x="248.79" y="758.46" width="4.47" height="29.58" fill="#e4e4ff"/><rect x="253.26" y="758.46" width="4.47" height="29.58" fill="#c7c7ff"/><rect x="257.72" y="758.46" width="4.47" height="29.58" fill="#e4e4ff"/><rect x="262.19" y="758.46" width="4.47" height="29.58" fill="#ff6d6d"/><rect x="266.66" y="758.46" width="4.47" height="29.58" fill="#ff6d6d"/><rect x="271.13" y="758.46" width="4.47" height="29.58" fill="#ff6d6d"/><rect x="275.59" y="758.46" width="4.47" height="29.58" fill="#ff8a8a"/><rect x="280.06" y="758.46" width="4.47" height="29.58" fill="#ff6d6d"/><rect x="284.53" y="758.46" width="4.47" height="29.58" fill="#ffaaaa"/><rect x="289.00" y="758.46" width="4.47" height="29.58" fill="#ff8a8a"/><rect x="293.46" y="758.46" width="4.47" height="29.58" fill="#ff6d6d"/><rect x="297.93" y="758.46" width="4.47" height="29.58" fill="#c7c7ff"/><rect x="302.40" y="758.46" width="4.47" height="29.58" fill="#ffe5e5"/><rect x="306.87" y="758.46" width="4.47" height="29.58" fill="#ffffff"/><rect x="311.33" y="758.46" width="4.47" height="29.58" fill="#ffffff"/><rect x="315.80" y="758.46" width="4.47" height="29.58" fill="#ffe5e5"/><rect x="320.27" y="758.46" width="4.47" height="29.58" fill="#ff8a8a"/><rect x="324.73" y="758.46" width="4.47" height="29.58" fill="#ffe5e5"/><rect x="329.20" y="758.46" width="4.47" height="29.58" fill="#ff8a8a"/><rect x="333.67" y="758.46" width="4.47" height="29.58" fill="#ffe5e5"/><rect x="338.14" y="758.46" width="4.47" height="29.58" fill="#ffcaca"/><rect x="342.60" y="758.46" width="4.47" height="29.58" fill="#ffcaca"/><rect x="347.07" y="758.46" width="4.47" height="29.58" fill="#ffcaca"/><rect x="351.54" y="758.46" width="4.47" height="29.58" fill="#ffcaca"/><rect x="356.01" y="758.46" width="4.47" height="29.58" fill="#ffcaca"/><rect x="360.47" y="758.46" width="4.47" height="29.58" fill="#ffcaca"/><rect x="364.94" y="758.46" width="4.47" height="29.58" fill="#ffcaca"/><rect x="369.41" y="758.46" width="4.47" height="29.58" fill="#ffffff"/><rect x="373.87" y="758.46" width="4.47" height="29.58" fill="#ffcaca"/><rect x="378.34" y="758.46" width="4.47" height="29.58" fill="#ffcaca"/><rect x="382.81" y="758.46" width="4.47" height="29.58" fill="#ff8a8a"/><rect x="387.28" y="758.46" width="4.47" height="29.58" fill="#ff8a8a"/><rect x="391.74" y="758.46" width="4.47" height="29.58" fill="#ffcaca"/><rect x="396.21" y="758.46" width="4.47" height="29.58" fill="#ffcaca"/><rect x="400.68" y="758.46" width="4.47" height="29.58" fill="#ff8a8a"/><rect x="405.15" y="758.46" width="4.47" height="29.58" fill="#ffcaca"/><rect x="409.61" y="758.46" width="4.47" height="29.58" fill="#c7c7ff"/><rect x="414.08" y="758.46" width="4.47" height="29.58" fill="#ffaaaa"/><rect x="418.55" y="758.46" width="4.47" height="29.58" fill="#c7c7ff"/><rect x="423.01" y="758.46" width="4.47" height="29.58" fill="#c7c7ff"/><rect x="427.48" y="758.46" width="4.47" height="29.58" fill="#c7c7ff"/><rect x="431.95" y="758.46" width="4.47" height="29.58" fill="#ffffff"/><rect x="436.42" y="758.46" width="4.47" height="29.58" fill="#ffffff"/><rect x="440.88" y="758.46" width="4.47" height="29.58" fill="#ffe5e5"/><rect x="445.35" y="758.46" width="4.47" height="29.58" fill="#ffffff"/><rect x="449.82" y="758.46" width="4.47" height="29.58" fill="#c7c7ff"/><rect x="454.29" y="758.46" width="4.47" height="29.58" fill="#ffffff"/><rect x="458.75" y="758.46" width="4.47" height="29.58" fill="#e4e4ff"/><rect x="463.22" y="758.46" width="4.47" height="29.58" fill="#e4e4ff"/><rect x="467.69" y="758.46" width="4.47" height="29.58" fill="#e4e4ff"/><rect x="472.16" y="758.46" width="4.47" height="29.58" fill="#9292ff"/><rect x="476.62" y="758.46" width="4.47" height="29.58" fill="#ffffff"/><rect x="481.09" y="758.46" width="4.47" height="29.58" fill="#ffcaca"/><rect x="485.56" y="758.46" width="4.47" height="29.58" fill="#ffaaaa"/><rect x="490.02" y="758.46" width="4.47" height="29.58" fill="#e4e4ff"/><rect x="494.49" y="758.46" width="4.47" height="29.58" fill="#ffe5e5"/><rect x="498.96" y="758.46" width="4.47" height="29.58" fill="#ffffff"/><rect x="503.43" y="758.46" width="4.47" height="29.58" fill="#ffe5e5"/><rect x="507.89" y="758.46" width="4.47" height="29.58" fill="#ffe5e5"/><rect x="512.36" y="758.46" width="4.47" height="29.58" fill="#ffffff"/><rect x="516.83" y="758.46" width="4.47" height="29.58" fill="#e4e4ff"/><rect x="521.30" y="758.46" width="4.47" height="29.58" fill="#acacff"/><rect x="525.76" y="758.46" width="4.47" height="29.58" fill="#c7c7ff"/><rect x="530.23" y="758.46" width="4.47" height="29.58" fill="#e4e4ff"/><rect x="534.70" y="758.46" width="4.47" height="29.58" fill="#ffcaca"/><rect x="539.16" y="758.46" width="4.47" height="29.58" fill="#e4e4ff"/><rect x="543.63" y="758.46" width="4.47" height="29.58" fill="#ffe5e5"/><rect x="548.10" y="758.46" width="4.47" height="29.58" fill="#ffcaca"/><rect x="552.57" y="758.46" width="4.47" height="29.58" fill="#e4e4ff"/><rect x="557.03" y="758.46" width="4.47" height="29.58" fill="#e4e4ff"/><rect x="561.50" y="758.46" width="4.47" height="29.58" fill="#e4e4ff"/><rect x="565.97" y="758.46" width="4.47" height="29.58" fill="#ffe5e5"/><rect x="570.44" y="758.46" width="4.47" height="29.58" fill="#ffffff"/><rect x="83.50" y="788.04" width="4.47" height="29.58" fill="#c7c7ff"/><rect x="87.97" y="788.04" width="4.47" height="29.58" fill="#acacff"/><rect x="92.43" y="788.04" width="4.47" height="29.58" fill="#c7c7ff"/><rect x="96.90" y="788.04" width="4.47" height="29.58" fill="#7a7aff"/><rect x="101.37" y="788.04" width="4.47" height="29.58" fill="#c7c7ff"/><rect x="105.84" y="788.04" width="4.47" height="29.58" fill="#c7c7ff"/><rect x="110.30" y="788.04" width="4.47" height="29.58" fill="#acacff"/><rect x="114.77" y="788.04" width="4.47" height="29.58" fill="#c7c7ff"/><rect x="119.24" y="788.04" width="4.47" height="29.58" fill="#acacff"/><rect x="123.71" y="788.04" width="4.47" height="29.58" fill="#c7c7ff"/><rect x="128.17" y="788.04" width="4.47" height="29.58" fill="#e4e4ff"/><rect x="132.64" y="788.04" width="4.47" height="29.58" fill="#4e4eff"/><rect x="137.11" y="788.04" width="4.47" height="29.58" fill="#acacff"/><rect x="141.57" y="788.04" width="4.47" height="29.58" fill="#c7c7ff"/><rect x="146.04" y="788.04" width="4.47" height="29.58" fill="#c7c7ff"/><rect x="150.51" y="788.04" width="4.47" height="29.58" fill="#c7c7ff"/><rect x="154.98" y="788.04" width="4.47" height="29.58" fill="#c7c7ff"/><rect x="159.44" y="788.04" width="4.47" height="29.58" fill="#e4e4ff"/><rect x="163.91" y="788.04" width="4.47" height="29.58" fill="#ffffff"/><rect x="168.38" y="788.04" width="4.47" height="29.58" fill="#ffffff"/><rect x="172.85" y="788.04" width="4.47" height="29.58" fill="#ffffff"/><rect x="177.31" y="788.04" width="4.47" height="29.58" fill="#e4e4ff"/><rect x="181.78" y="788.04" width="4.47" height="29.58" fill="#e4e4ff"/><rect x="186.25" y="788.04" width="4.47" height="29.58" fill="#e4e4ff"/><rect x="190.72" y="788.04" width="4.47" height="29.58" fill="#e4e4ff"/><rect x="195.18" y="788.04" width="4.47" height="29.58" fill="#c7c7ff"/><rect x="199.65" y="788.04" width="4.47" height="29.58" fill="#c7c7ff"/><rect x="204.12" y="788.04" width="4.47" height="29.58" fill="#acacff"/><rect x="208.58" y="788.04" width="4.47" height="29.58" fill="#acacff"/><rect x="213.05" y="788.04" width="4.47" height="29.58" fill="#e4e4ff"/><rect x="217.52" y="788.04" width="4.47" height="29.58" fill="#9292ff"/><rect x="221.99" y="788.04" width="4.47" height="29.58" fill="#9292ff"/><rect x="226.45" y="788.04" width="4.47" height="29.58" fill="#ffffff"/><rect x="230.92" y="788.04" width="4.47" height="29.58" fill="#e4e4ff"/><rect x="235.39" y="788.04" width="4.47" height="29.58" fill="#e4e4ff"/><rect x="239.86" y="788.04" width="4.47" height="29.58" fill="#e4e4ff"/><rect x="244.32" y="788.04" width="4.47" height="29.58" fill="#c7c7ff"/><rect x="248.79" y="788.04" width="4.47" height="29.58" fill="#e4e4ff"/><rect x="253.26" y="788.04" width="4.47" height="29.58" fill="#ffffff"/><rect x="257.72" y="788.04" width="4.47" height="29.58" fill="#ffffff"/><rect x="262.19" y="788.04" width="4.47" height="29.58" fill="#ff8a8a"/><rect x="266.66" y="788.04" width="4.47" height="29.58" fill="#ff5656"/><rect x="271.13" y="788.04" width="4.47" height="29.58" fill="#ffe5e5"/><rect x="275.59" y="788.04" width="4.47" height="29.58" fill="#ff8a8a"/><rect x="280.06" y="788.04" width="4.47" height="29.58" fill="#ff6d6d"/><rect x="284.53" y="788.04" width="4.47" height="29.58" fill="#ffcaca"/><rect x="289.00" y="788.04" width="4.47" height="29.58" fill="#ffcaca"/><rect x="293.46" y="788.04" width="4.47" height="29.58" fill="#ffcaca"/><rect x="297.93" y="788.04" width="4.47" height="29.58" fill="#ffcaca"/><rect x="302.40" y="788.04" width="4.47" height="29.58" fill="#ffcaca"/><rect x="306.87" y="788.04" width="4.47" height="29.58" fill="#ffcaca"/><rect x="311.33" y="788.04" width="4.47" height="29.58" fill="#ffaaaa"/><rect x="315.80" y="788.04" width="4.47" height="29.58" fill="#ffe5e5"/><rect x="320.27" y="788.04" width="4.47" height="29.58" fill="#ffcaca"/><rect x="324.73" y="788.04" width="4.47" height="29.58" fill="#ffe5e5"/><rect x="329.20" y="788.04" width="4.47" height="29.58" fill="#ffcaca"/><rect x="333.67" y="788.04" width="4.47" height="29.58" fill="#ffffff"/><rect x="338.14" y="788.04" width="4.47" height="29.58" fill="#ffffff"/><rect x="342.60" y="788.04" width="4.47" height="29.58" fill="#ffe5e5"/><rect x="347.07" y="788.04" width="4.47" height="29.58" fill="#ffcaca"/><rect x="351.54" y="788.04" width="4.47" height="29.58" fill="#ffffff"/><rect x="356.01" y="788.04" width="4.47" height="29.58" fill="#ffaaaa"/><rect x="360.47" y="788.04" width="4.47" height="29.58" fill="#ffaaaa"/><rect x="364.94" y="788.04" width="4.47" height="29.58" fill="#ffcaca"/><rect x="369.41" y="788.04" width="4.47" height="29.58" fill="#ffcaca"/><rect x="373.87" y="788.04" width="4.47" height="29.58" fill="#ffcaca"/><rect x="378.34" y="788.04" width="4.47" height="29.58" fill="#ffcaca"/><rect x="382.81" y="788.04" width="4.47" height="29.58" fill="#ffcaca"/><rect x="387.28" y="788.04" width="4.47" height="29.58" fill="#ffcaca"/><rect x="391.74" y="788.04" width="4.47" height="29.58" fill="#ffcaca"/><rect x="396.21" y="788.04" width="4.47" height="29.58" fill="#ffe5e5"/><rect x="400.68" y="788.04" width="4.47" height="29.58" fill="#ffcaca"/><rect x="405.15" y="788.04" width="4.47" height="29.58" fill="#ffe5e5"/><rect x="409.61" y="788.04" width="4.47" height="29.58" fill="#acacff"/><rect x="414.08" y="788.04" width="4.47" height="29.58" fill="#e4e4ff"/><rect x="418.55" y="788.04" width="4.47" height="29.58" fill="#ffffff"/><rect x="423.01" y="788.04" width="4.47" height="29.58" fill="#9292ff"/><rect x="427.48" y="788.04" width="4.47" height="29.58" fill="#e4e4ff"/><rect x="431.95" y="788.04" width="4.47" height="29.58" fill="#ffe5e5"/><rect x="436.42" y="788.04" width="4.47" height="29.58" fill="#ffe5e5"/><rect x="440.88" y="788.04" width="4.47" height="29.58" fill="#ffcaca"/><rect x="445.35" y="788.04" width="4.47" height="29.58" fill="#ffffff"/><rect x="449.82" y="788.04" width="4.47" height="29.58" fill="#ffaaaa"/><rect x="454.29" y="788.04" width="4.47" height="29.58" fill="#e4e4ff"/><rect x="458.75" y="788.04" width="4.47" height="29.58" fill="#e4e4ff"/><rect x="463.22" y="788.04" width="4.47" height="29.58" fill="#e4e4ff"/><rect x="467.69" y="788.04" width="4.47" height="29.58" fill="#ffe5e5"/><rect x="472.16" y="788.04" width="4.47" height="29.58" fill="#acacff"/><rect x="476.62" y="788.04" width="4.47" height="29.58" fill="#c7c7ff"/><rect x="481.09" y="788.04" width="4.47" height="29.58" fill="#c7c7ff"/><rect x="485.56" y="788.04" width="4.47" height="29.58" fill="#ffffff"/><rect x="490.02" y="788.04" width="4.47" height="29.58" fill="#ffe5e5"/><rect x="494.49" y="788.04" width="4.47" height="29.58" fill="#ffe5e5"/><rect x="498.96" y="788.04" width="4.47" height="29.58" fill="#e4e4ff"/><rect x="503.43" y="788.04" width="4.47" height="29.58" fill="#e4e4ff"/><rect x="507.89" y="788.04" width="4.47" height="29.58" fill="#ffffff"/><rect x="512.36" y="788.04" width="4.47" height="29.58" fill="#ffffff"/><rect x="516.83" y="788.04" width="4.47" height="29.58" fill="#e4e4ff"/><rect x="521.30" y="788.04" width="4.47" height="29.58" fill="#ffe5e5"/><rect x="525.76" y="788.04" width="4.47" height="29.58" fill="#acacff"/><rect x="530.23" y="788.04" width="4.47" height="29.58" fill="#e4e4ff"/><rect x="534.70" y="788.04" width="4.47" height="29.58" fill="#ffcaca"/><rect x="539.16" y="788.04" width="4.47" height="29.58" fill="#ffaaaa"/><rect x="543.63" y="788.04" width="4.47" height="29.58" fill="#ffcaca"/><rect x="548.10" y="788.04" width="4.47" height="29.58" fill="#ffcaca"/><rect x="552.57" y="788.04" width="4.47" height="29.58" fill="#ffcaca"/><rect x="557.03" y="788.04" width="4.47" height="29.58" fill="#ffcaca"/><rect x="561.50" y="788.04" width="4.47" height="29.58" fill="#ffaaaa"/><rect x="565.97" y="788.04" width="4.47" height="29.58" fill="#ffaaaa"/><rect x="570.44" y="788.04" width="4.47" height="29.58" fill="#ffaaaa"/></g>
<g stroke="#9c9c9c" stroke-width="0.9"><rect x="83.50" y="390.9" width="4.47" height="9.7" fill="#00d3dc"/><rect x="87.97" y="390.9" width="4.47" height="9.7" fill="#00d3dc"/><rect x="92.43" y="390.9" width="4.47" height="9.7" fill="#00d3dc"/><rect x="96.90" y="390.9" width="4.47" height="9.7" fill="#00d3dc"/><rect x="101.37" y="390.9" width="4.47" height="9.7" fill="#00d3dc"/><rect x="105.84" y="390.9" width="4.47" height="9.7" fill="#00d3dc"/><rect x="110.30" y="390.9" width="4.47" height="9.7" fill="#00d3dc"/><rect x="114.77" y="390.9" width="4.47" height="9.7" fill="#00d3dc"/><rect x="119.24" y="390.9" width="4.47" height="9.7" fill="#00d3dc"/><rect x="123.71" y="390.9" width="4.47" height="9.7" fill="#00d3dc"/><rect x="128.17" y="390.9" width="4.47" height="9.7" fill="#00d3dc"/><rect x="132.64" y="390.9" width="4.47" height="9.7" fill="#00d3dc"/><rect x="137.11" y="390.9" width="4.47" height="9.7" fill="#00d3dc"/><rect x="141.57" y="390.9" width="4.47" height="9.7" fill="#00d3dc"/><rect x="146.04" y="390.9" width="4.47" height="9.7" fill="#00d3dc"/><rect x="150.51" y="390.9" width="4.47" height="9.7" fill="#00d3dc"/><rect x="154.98" y="390.9" width="4.47" height="9.7" fill="#00d3dc"/><rect x="159.44" y="390.9" width="4.47" height="9.7" fill="#00d3dc"/><rect x="163.91" y="390.9" width="4.47" height="9.7" fill="#00d3dc"/><rect x="168.38" y="390.9" width="4.47" height="9.7" fill="#00d3dc"/><rect x="172.85" y="390.9" width="4.47" height="9.7" fill="#00d3dc"/><rect x="177.31" y="390.9" width="4.47" height="9.7" fill="#00d3dc"/><rect x="181.78" y="390.9" width="4.47" height="9.7" fill="#00d3dc"/><rect x="186.25" y="390.9" width="4.47" height="9.7" fill="#00d3dc"/><rect x="190.72" y="390.9" width="4.47" height="9.7" fill="#00d3dc"/><rect x="195.18" y="390.9" width="4.47" height="9.7" fill="#00d3dc"/><rect x="199.65" y="390.9" width="4.47" height="9.7" fill="#00d3dc"/><rect x="204.12" y="390.9" width="4.47" height="9.7" fill="#00d3dc"/><rect x="208.58" y="390.9" width="4.47" height="9.7" fill="#00d3dc"/><rect x="213.05" y="390.9" width="4.47" height="9.7" fill="#00d3dc"/><rect x="217.52" y="390.9" width="4.47" height="9.7" fill="#00d3dc"/><rect x="221.99" y="390.9" width="4.47" height="9.7" fill="#00d3dc"/><rect x="226.45" y="390.9" width="4.47" height="9.7" fill="#00d3dc"/><rect x="230.92" y="390.9" width="4.47" height="9.7" fill="#00d3dc"/><rect x="235.39" y="390.9" width="4.47" height="9.7" fill="#00d3dc"/><rect x="239.86" y="390.9" width="4.47" height="9.7" fill="#00d3dc"/><rect x="244.32" y="390.9" width="4.47" height="9.7" fill="#00d3dc"/><rect x="248.79" y="390.9" width="4.47" height="9.7" fill="#00d3dc"/><rect x="253.26" y="390.9" width="4.47" height="9.7" fill="#00d3dc"/><rect x="257.72" y="390.9" width="4.47" height="9.7" fill="#00d3dc"/><rect x="262.19" y="390.9" width="4.47" height="9.7" fill="#f98a80"/><rect x="266.66" y="390.9" width="4.47" height="9.7" fill="#f98a80"/><rect x="271.13" y="390.9" width="4.47" height="9.7" fill="#f98a80"/><rect x="275.59" y="390.9" width="4.47" height="9.7" fill="#f98a80"/><rect x="280.06" y="390.9" width="4.47" height="9.7" fill="#f98a80"/><rect x="284.53" y="390.9" width="4.47" height="9.7" fill="#f98a80"/><rect x="289.00" y="390.9" width="4.47" height="9.7" fill="#f98a80"/><rect x="293.46" y="390.9" width="4.47" height="9.7" fill="#f98a80"/><rect x="297.93" y="390.9" width="4.47" height="9.7" fill="#f98a80"/><rect x="302.40" y="390.9" width="4.47" height="9.7" fill="#f98a80"/><rect x="306.87" y="390.9" width="4.47" height="9.7" fill="#f98a80"/><rect x="311.33" y="390.9" width="4.47" height="9.7" fill="#f98a80"/><rect x="315.80" y="390.9" width="4.47" height="9.7" fill="#f98a80"/><rect x="320.27" y="390.9" width="4.47" height="9.7" fill="#00d3dc"/><rect x="324.73" y="390.9" width="4.47" height="9.7" fill="#f98a80"/><rect x="329.20" y="390.9" width="4.47" height="9.7" fill="#f98a80"/><rect x="333.67" y="390.9" width="4.47" height="9.7" fill="#f98a80"/><rect x="338.14" y="390.9" width="4.47" height="9.7" fill="#f98a80"/><rect x="342.60" y="390.9" width="4.47" height="9.7" fill="#f98a80"/><rect x="347.07" y="390.9" width="4.47" height="9.7" fill="#f98a80"/><rect x="351.54" y="390.9" width="4.47" height="9.7" fill="#f98a80"/><rect x="356.01" y="390.9" width="4.47" height="9.7" fill="#f98a80"/><rect x="360.47" y="390.9" width="4.47" height="9.7" fill="#f98a80"/><rect x="364.94" y="390.9" width="4.47" height="9.7" fill="#f98a80"/><rect x="369.41" y="390.9" width="4.47" height="9.7" fill="#f98a80"/><rect x="373.87" y="390.9" width="4.47" height="9.7" fill="#f98a80"/><rect x="378.34" y="390.9" width="4.47" height="9.7" fill="#f98a80"/><rect x="382.81" y="390.9" width="4.47" height="9.7" fill="#f98a80"/><rect x="387.28" y="390.9" width="4.47" height="9.7" fill="#f98a80"/><rect x="391.74" y="390.9" width="4.47" height="9.7" fill="#f98a80"/><rect x="396.21" y="390.9" width="4.47" height="9.7" fill="#f98a80"/><rect x="400.68" y="390.9" width="4.47" height="9.7" fill="#f98a80"/><rect x="405.15" y="390.9" width="4.47" height="9.7" fill="#f98a80"/><rect x="409.61" y="390.9" width="4.47" height="9.7" fill="#f98a80"/><rect x="414.08" y="390.9" width="4.47" height="9.7" fill="#f98a80"/><rect x="418.55" y="390.9" width="4.47" height="9.7" fill="#00d3dc"/><rect x="423.01" y="390.9" width="4.47" height="9.7" fill="#00d3dc"/><rect x="427.48" y="390.9" width="4.47" height="9.7" fill="#00d3dc"/><rect x="431.95" y="390.9" width="4.47" height="9.7" fill="#f98a80"/><rect x="436.42" y="390.9" width="4.47" height="9.7" fill="#f98a80"/><rect x="440.88" y="390.9" width="4.47" height="9.7" fill="#f98a80"/><rect x="445.35" y="390.9" width="4.47" height="9.7" fill="#f98a80"/><rect x="449.82" y="390.9" width="4.47" height="9.7" fill="#00d3dc"/><rect x="454.29" y="390.9" width="4.47" height="9.7" fill="#00d3dc"/><rect x="458.75" y="390.9" width="4.47" height="9.7" fill="#00d3dc"/><rect x="463.22" y="390.9" width="4.47" height="9.7" fill="#00d3dc"/><rect x="467.69" y="390.9" width="4.47" height="9.7" fill="#00d3dc"/><rect x="472.16" y="390.9" width="4.47" height="9.7" fill="#00d3dc"/><rect x="476.62" y="390.9" width="4.47" height="9.7" fill="#f98a80"/><rect x="481.09" y="390.9" width="4.47" height="9.7" fill="#00d3dc"/><rect x="485.56" y="390.9" width="4.47" height="9.7" fill="#f98a80"/><rect x="490.02" y="390.9" width="4.47" height="9.7" fill="#f98a80"/><rect x="494.49" y="390.9" width="4.47" height="9.7" fill="#f98a80"/><rect x="498.96" y="390.9" width="4.47" height="9.7" fill="#f98a80"/><rect x="503.43" y="390.9" width="4.47" height="9.7" fill="#f98a80"/><rect x="507.89" y="390.9" width="4.47" height="9.7" fill="#f98a80"/><rect x="512.36" y="390.9" width="4.47" height="9.7" fill="#00d3dc"/><rect x="516.83" y="390.9" width="4.47" height="9.7" fill="#f98a80"/><rect x="521.30" y="390.9" width="4.47" height="9.7" fill="#00d3dc"/><rect x="525.76" y="390.9" width="4.47" height="9.7" fill="#f98a80"/><rect x="530.23" y="390.9" width="4.47" height="9.7" fill="#f98a80"/><rect x="534.70" y="390.9" width="4.47" height="9.7" fill="#f98a80"/><rect x="539.16" y="390.9" width="4.47" height="9.7" fill="#f98a80"/><rect x="543.63" y="390.9" width="4.47" height="9.7" fill="#f98a80"/><rect x="548.10" y="390.9" width="4.47" height="9.7" fill="#f98a80"/><rect x="552.57" y="390.9" width="4.47" height="9.7" fill="#f98a80"/><rect x="557.03" y="390.9" width="4.47" height="9.7" fill="#f98a80"/><rect x="561.50" y="390.9" width="4.47" height="9.7" fill="#f98a80"/><rect x="565.97" y="390.9" width="4.47" height="9.7" fill="#f98a80"/><rect x="570.44" y="390.9" width="4.47" height="9.7" fill="#f98a80"/></g>
<text x="578.7" y="399.4" font-size="10.4" font-weight="bold" textLength="22.2" lengthAdjust="spacingAndGlyphs" fill="#000">Type</text>
<text x="575.47" y="421.39" font-size="12.2" textLength="37.76" lengthAdjust="spacingAndGlyphs" fill="#111">MLXIP</text>
<text x="575.57" y="450.97" font-size="12.2" textLength="26.57" lengthAdjust="spacingAndGlyphs" fill="#111">NFIC</text>
<text x="576.22" y="480.55" font-size="12.2" textLength="40.63" lengthAdjust="spacingAndGlyphs" fill="#111">TRIM22</text>
<text x="575.57" y="510.13" font-size="12.2" textLength="42.91" lengthAdjust="spacingAndGlyphs" fill="#111">DDX60L</text>
<text x="575.55" y="539.71" font-size="12.2" textLength="37.46" lengthAdjust="spacingAndGlyphs" fill="#111">DDX60</text>
<text x="575.94" y="569.29" font-size="12.2" textLength="45.75" lengthAdjust="spacingAndGlyphs" fill="#111">SAMD9L</text>
<text x="575.93" y="598.87" font-size="12.2" textLength="39.66" lengthAdjust="spacingAndGlyphs" fill="#111">SAMD9</text>
<text x="575.93" y="628.45" font-size="12.2" textLength="43.55" lengthAdjust="spacingAndGlyphs" fill="#111">CXCL10</text>
<text x="575.93" y="658.03" font-size="12.2" textLength="46.62" lengthAdjust="spacingAndGlyphs" fill="#111">CALHM6</text>
<text x="575.55" y="687.61" font-size="12.2" textLength="44.88" lengthAdjust="spacingAndGlyphs" fill="#111">KBTBD8</text>
<text x="575.93" y="717.19" font-size="12.2" textLength="43.43" lengthAdjust="spacingAndGlyphs" fill="#111">GIMAP2</text>
<text x="575.56" y="746.77" font-size="12.2" textLength="32.42" lengthAdjust="spacingAndGlyphs" fill="#111">EVI2A</text>
<text x="575.57" y="776.35" font-size="12.2" textLength="37.30" lengthAdjust="spacingAndGlyphs" fill="#111">NDC80</text>
<text x="575.93" y="805.93" font-size="12.2" textLength="35.19" lengthAdjust="spacingAndGlyphs" fill="#111">GMNN</text>
<path d="M85.73 389.90V373.50H90.20V389.90M94.67 389.90V381.40H99.14V389.90M108.07 389.90V384.60H112.54V389.90M125.94 389.90V384.30H130.41V389.90M121.47 389.90V383.30H128.17V384.30M117.00 389.90V382.60H124.82V383.30M110.30 384.60V380.20H120.91V382.60M103.60 389.90V379.60H115.61V380.20M96.90 381.40V375.00H109.61V379.60M139.34 389.90V379.30H143.81V389.90M157.21 389.90V385.00H161.68V389.90M152.74 389.90V382.40H159.44V385.00M148.28 389.90V380.20H156.09V382.40M166.15 389.90V383.70H170.61V389.90M184.01 389.90V386.30H188.48V389.90M179.55 389.90V384.20H186.25V386.30M175.08 389.90V383.30H182.90V384.20M168.38 383.70V381.10H178.99V383.30M201.88 389.90V382.40H206.35V389.90M197.42 389.90V380.10H204.12V382.40M192.95 389.90V378.50H200.77V380.10M173.68 381.10V378.20H196.86V378.50M152.18 380.20V377.50H185.27V378.20M215.29 389.90V379.10H219.75V389.90M228.69 389.90V383.00H233.15V389.90M242.09 389.90V386.10H246.56V389.90M237.62 389.90V383.90H244.32V386.10M255.49 389.90V385.20H259.96V389.90M251.02 389.90V382.20H257.72V385.20M240.97 383.90V380.80H254.37V382.20M230.92 383.00V380.00H247.67V380.80M224.22 389.90V378.20H239.30V380.00M217.52 379.10V376.00H231.76V378.20M210.82 389.90V373.80H224.64V376.00M168.73 377.50V373.10H217.73V373.80M141.57 379.30V369.50H193.23V373.10M134.87 389.90V367.50H167.40V369.50M103.25 375.00V365.30H151.14V367.50M87.97 373.50V359.20H127.20V365.30M264.43 389.90V380.00H268.89V389.90M277.83 389.90V381.50H282.29V389.90M291.23 389.90V384.60H295.70V389.90M286.76 389.90V379.10H293.46V384.60M280.06 381.50V376.40H290.11V379.10M273.36 389.90V374.30H285.09V376.40M266.66 380.00V367.50H279.22V374.30M309.10 389.90V385.10H313.57V389.90M304.63 389.90V381.80H311.33V385.10M300.16 389.90V378.90H307.98V381.80M318.03 389.90V379.50H322.50V389.90M326.97 389.90V379.50H331.44V389.90M320.27 379.50V373.30H329.20V379.50M304.07 378.90V371.00H324.73V373.30M349.30 389.90V382.50H353.77V389.90M344.84 389.90V379.50H351.54V382.50M340.37 389.90V376.40H348.19V379.50M335.90 389.90V374.90H344.28V376.40M362.71 389.90V384.60H367.17V389.90M358.24 389.90V381.80H364.94V384.60M371.64 389.90V382.50H376.11V389.90M385.04 389.90V384.60H389.51V389.90M380.58 389.90V382.50H387.28V384.60M373.87 382.50V379.80H383.93V382.50M361.59 381.80V379.10H378.90V379.80M393.98 389.90V383.00H398.44V389.90M402.91 389.90V380.00H407.38V389.90M396.21 383.00V379.10H405.15V380.00M370.24 379.10V374.30H400.68V379.10M340.09 374.90V370.30H385.46V374.30M314.40 371.00V364.50H362.78V370.30M272.94 367.50V362.40H338.59V364.50M420.78 389.90V375.90H425.25V389.90M416.31 389.90V368.20H423.01V375.90M411.85 389.90V364.40H419.66V368.20M438.65 389.90V384.60H443.12V389.90M434.18 389.90V382.20H440.88V384.60M429.72 389.90V377.40H437.53V382.20M447.58 389.90V379.10H452.05V389.90M465.45 389.90V384.60H469.92V389.90M460.99 389.90V381.80H467.69V384.60M456.52 389.90V381.50H464.34V381.80M474.39 389.90V379.10H478.86V389.90M460.43 381.50V376.40H476.62V379.10M449.82 379.10V374.30H468.53V376.40M433.62 377.40V369.50H459.17V374.30M483.32 389.90V379.10H487.79V389.90M496.73 389.90V384.60H501.19V389.90M492.26 389.90V382.20H498.96V384.60M514.59 389.90V383.00H519.06V389.90M510.13 389.90V382.20H516.83V383.00M505.66 389.90V378.40H513.48V382.20M495.61 382.20V377.10H509.57V378.40M485.56 379.10V372.30H502.59V377.10M528.00 389.90V382.40H532.46V389.90M536.93 389.90V380.80H541.40V389.90M545.87 389.90V382.80H550.33V389.90M554.80 389.90V382.40H559.27V389.90M548.10 382.80V380.40H557.03V382.40M539.16 380.80V377.20H552.57V380.40M530.23 382.40V375.10H545.87V377.20M523.53 389.90V374.30H538.05V375.10M568.20 389.90V377.20H572.67V389.90M563.73 389.90V374.30H570.44V377.20M530.79 374.30V370.30H567.09V374.30M494.07 372.30V367.50H548.94V370.30M446.40 369.50V359.50H521.50V367.50M415.76 364.40V355.40H483.95V359.50M305.77 362.40V345.40H449.85V355.40M107.58 359.20V329.60H377.81V345.40" fill="none" stroke="#333" stroke-width="1"/>
<path d="M83.40 418.29H61.50V447.87H83.40M83.40 536.61H68.50V566.19H83.40M83.40 507.03H65.80V551.40H68.50M83.40 477.45H63.10V529.22H65.80M83.40 595.77H62.30V625.35H83.40M63.10 503.33H59.10V610.56H62.30M83.40 714.09H68.30V743.67H83.40M83.40 684.51H63.70V728.88H68.30M83.40 773.25H58.20V802.83H83.40M63.70 706.69H56.40V788.04H58.20M83.40 654.93H52.90V747.37H56.40M59.10 556.95H50.50V701.15H52.90M61.50 433.08H23.60V629.05H50.50" fill="none" stroke="#333" stroke-width="1"/>
<defs><linearGradient id="lg" x1="0" y1="0" x2="0" y2="1"><stop offset="0" stop-color="#ff0000"/><stop offset="0.5035" stop-color="#ffffff"/><stop offset="1" stop-color="#0000ff"/></linearGradient></defs>
<rect x="619" y="389.8" width="11.5" height="172.6" fill="url(#lg)"/>
<text x="635.1" y="400.08" font-size="9.3" fill="#111">4</text>
<text x="635.1" y="439.84" font-size="9.3" fill="#111">2</text>
<text x="635.1" y="479.60" font-size="9.3" fill="#111">0</text>
<text x="635.1" y="519.36" font-size="9.3" fill="#111">−2</text>
<text x="635.1" y="559.12" font-size="9.3" fill="#111">−4</text>
<text x="646.9" y="393.5" font-size="11" font-weight="bold" textLength="25.4" lengthAdjust="spacingAndGlyphs" fill="#000">Type</text>
<rect x="646.6" y="399.9" width="13.3" height="13.2" fill="#00d3dc" stroke="#9c9c9c" stroke-width="0.9"/>
<rect x="646.6" y="413.1" width="13.3" height="13.2" fill="#f98a80" stroke="#9c9c9c" stroke-width="0.9"/>
<text x="662.6" y="410.2" font-size="12" fill="#111">HC</text>
<text x="662.6" y="423.4" font-size="12" fill="#111">pSS</text></svg>
</body></html>
